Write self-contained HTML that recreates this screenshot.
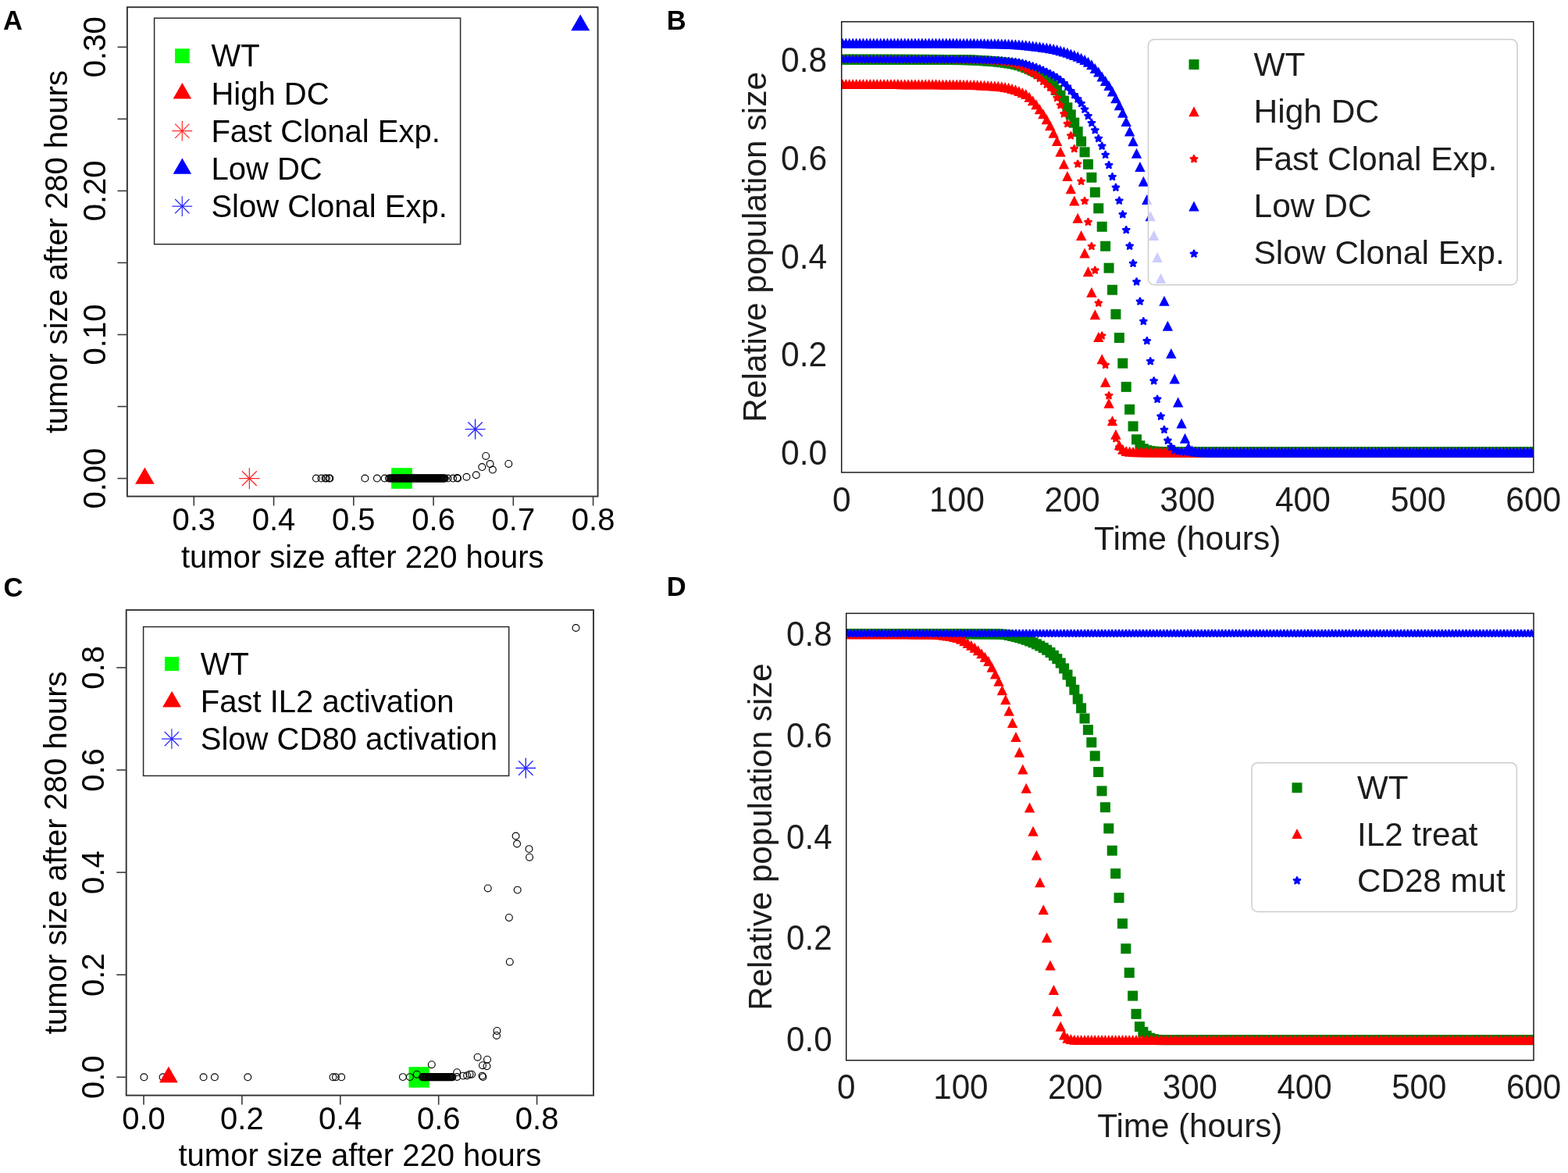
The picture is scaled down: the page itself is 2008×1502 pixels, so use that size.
<!DOCTYPE html>
<html><head><meta charset="utf-8"><title>Figure</title>
<style>html,body{margin:0;padding:0;background:#fff;}svg{display:block;}text{font-family:"Liberation Sans", Arial, Helvetica, sans-serif;}</style></head><body>
<svg width="2008" height="1502" viewBox="0 0 2008 1502">
<rect width="2008" height="1502" fill="#fff"/>
<text x="4.1" y="38" font-size="34.5" text-anchor="start" fill="#000" font-weight="bold">A</text>
<text x="853.7" y="37.8" font-size="34.5" text-anchor="start" fill="#000" font-weight="bold">B</text>
<text x="4.6" y="763.5" font-size="34.5" text-anchor="start" fill="#000" font-weight="bold">C</text>
<text x="853.7" y="763" font-size="34.5" text-anchor="start" fill="#000" font-weight="bold">D</text>
<g stroke="#3a3a3a" stroke-width="1.6" fill="none">
<rect x="162.9" y="9.2" width="602.7" height="626.4" stroke="#333" stroke-width="1.9"/>
<line x1="248.3" y1="635.6" x2="248.3" y2="647.6"/>
<line x1="350.56" y1="635.6" x2="350.56" y2="647.6"/>
<line x1="452.82" y1="635.6" x2="452.82" y2="647.6"/>
<line x1="555.08" y1="635.6" x2="555.08" y2="647.6"/>
<line x1="657.34" y1="635.6" x2="657.34" y2="647.6"/>
<line x1="759.6" y1="635.6" x2="759.6" y2="647.6"/>
<line x1="150.5" y1="612.6" x2="162.9" y2="612.6"/>
<line x1="150.5" y1="520.55" x2="162.9" y2="520.55"/>
<line x1="150.5" y1="428.5" x2="162.9" y2="428.5"/>
<line x1="150.5" y1="336.45" x2="162.9" y2="336.45"/>
<line x1="150.5" y1="244.4" x2="162.9" y2="244.4"/>
<line x1="150.5" y1="152.35" x2="162.9" y2="152.35"/>
<line x1="150.5" y1="60.3" x2="162.9" y2="60.3"/>
</g>
<text x="0" y="0" font-size="40" text-anchor="middle" fill="#000" transform="translate(248.3 679.4) scale(1 1.03)">0.3</text>
<text x="0" y="0" font-size="40" text-anchor="middle" fill="#000" transform="translate(350.56 679.4) scale(1 1.03)">0.4</text>
<text x="0" y="0" font-size="40" text-anchor="middle" fill="#000" transform="translate(452.82 679.4) scale(1 1.03)">0.5</text>
<text x="0" y="0" font-size="40" text-anchor="middle" fill="#000" transform="translate(555.08 679.4) scale(1 1.03)">0.6</text>
<text x="0" y="0" font-size="40" text-anchor="middle" fill="#000" transform="translate(657.34 679.4) scale(1 1.03)">0.7</text>
<text x="0" y="0" font-size="40" text-anchor="middle" fill="#000" transform="translate(759.6 679.4) scale(1 1.03)">0.8</text>
<text x="0" y="0" font-size="40" text-anchor="middle" fill="#000" transform="translate(134.5 612.6) rotate(-90) scale(1 1.03)">0.00</text>
<text x="0" y="0" font-size="40" text-anchor="middle" fill="#000" transform="translate(134.5 428.5) rotate(-90) scale(1 1.03)">0.10</text>
<text x="0" y="0" font-size="40" text-anchor="middle" fill="#000" transform="translate(134.5 244.4) rotate(-90) scale(1 1.03)">0.20</text>
<text x="0" y="0" font-size="40" text-anchor="middle" fill="#000" transform="translate(134.5 60.3) rotate(-90) scale(1 1.03)">0.30</text>
<text x="464.25" y="727.2" font-size="40" text-anchor="middle" fill="#000">tumor size after 220 hours</text>
<text x="85.6" y="322.4" font-size="40" text-anchor="middle" fill="#000" transform="rotate(-90 85.6 322.4)">tumor size after 280 hours</text>
<rect x="197.6" y="23.2" width="392" height="289.5" fill="#fff" stroke="#2a2a2a" stroke-width="1.5"/>
<rect x="224.1" y="62.3" width="18.6" height="18.6" fill="#00ff00"/>
<polygon points="233.4,106.03 221.65,126.38 245.15,126.38" fill="#ff0000"/>
<path d="M233.3 154.8v25.8M220.4 167.7h25.8M224.18 158.58l18.24 18.24M224.18 176.82l18.24 -18.24" stroke="#ff2a2a" stroke-width="1.2" fill="none"/>
<polygon points="233.4,202.43 221.65,222.78 245.15,222.78" fill="#0000ff"/>
<path d="M233.3 251.2v25.8M220.4 264.1h25.8M224.18 254.98l18.24 18.24M224.18 273.22l18.24 -18.24" stroke="#2a2aff" stroke-width="1.2" fill="none"/>
<text x="270.4" y="85.4" font-size="40" text-anchor="start" fill="#000">WT</text>
<text x="270.4" y="133.65" font-size="40" text-anchor="start" fill="#000">High DC</text>
<text x="270.4" y="181.9" font-size="40" text-anchor="start" fill="#000">Fast Clonal Exp.</text>
<text x="270.4" y="230.15" font-size="40" text-anchor="start" fill="#000">Low DC</text>
<text x="270.4" y="278.4" font-size="40" text-anchor="start" fill="#000">Slow Clonal Exp.</text>
<rect x="501.15" y="599.15" width="26.7" height="26.7" fill="#00ff00"/>
<g>
<circle cx="404.9" cy="612.6" r="4.4" fill="none" stroke="#000" stroke-width="1.15"/>
<circle cx="411.5" cy="612.6" r="4.4" fill="none" stroke="#000" stroke-width="1.15"/>
<circle cx="416.5" cy="612.6" r="4.4" fill="none" stroke="#000" stroke-width="1.15"/>
<circle cx="418" cy="612.6" r="4.4" fill="none" stroke="#000" stroke-width="1.15"/>
<circle cx="421.3" cy="612.6" r="4.4" fill="none" stroke="#000" stroke-width="1.15"/>
<circle cx="422.4" cy="612.6" r="4.4" fill="none" stroke="#000" stroke-width="1.15"/>
<circle cx="467.4" cy="612.6" r="4.4" fill="none" stroke="#000" stroke-width="1.15"/>
<circle cx="482.9" cy="612.6" r="4.4" fill="none" stroke="#000" stroke-width="1.15"/>
<circle cx="492.6" cy="612.6" r="4.4" fill="none" stroke="#000" stroke-width="1.15"/>
<circle cx="498" cy="612.6" r="4.4" fill="none" stroke="#000" stroke-width="1.15"/>
<circle cx="499.4" cy="612.6" r="4.4" fill="none" stroke="#000" stroke-width="1.15"/>
<circle cx="501" cy="612.6" r="4.4" fill="none" stroke="#000" stroke-width="1.15"/>
<circle cx="501.8" cy="612.6" r="4.4" fill="none" stroke="#000" stroke-width="1.15"/>
<circle cx="502.6" cy="612.6" r="4.4" fill="none" stroke="#000" stroke-width="1.15"/>
<circle cx="503.4" cy="612.6" r="4.4" fill="none" stroke="#000" stroke-width="1.15"/>
<circle cx="504.2" cy="612.6" r="4.4" fill="none" stroke="#000" stroke-width="1.15"/>
<circle cx="505" cy="612.6" r="4.4" fill="none" stroke="#000" stroke-width="1.15"/>
<circle cx="505.8" cy="612.6" r="4.4" fill="none" stroke="#000" stroke-width="1.15"/>
<circle cx="506.6" cy="612.6" r="4.4" fill="none" stroke="#000" stroke-width="1.15"/>
<circle cx="507.4" cy="612.6" r="4.4" fill="none" stroke="#000" stroke-width="1.15"/>
<circle cx="508.2" cy="612.6" r="4.4" fill="none" stroke="#000" stroke-width="1.15"/>
<circle cx="509" cy="612.6" r="4.4" fill="none" stroke="#000" stroke-width="1.15"/>
<circle cx="509.8" cy="612.6" r="4.4" fill="none" stroke="#000" stroke-width="1.15"/>
<circle cx="510.6" cy="612.6" r="4.4" fill="none" stroke="#000" stroke-width="1.15"/>
<circle cx="511.4" cy="612.6" r="4.4" fill="none" stroke="#000" stroke-width="1.15"/>
<circle cx="512.2" cy="612.6" r="4.4" fill="none" stroke="#000" stroke-width="1.15"/>
<circle cx="513" cy="612.6" r="4.4" fill="none" stroke="#000" stroke-width="1.15"/>
<circle cx="513.8" cy="612.6" r="4.4" fill="none" stroke="#000" stroke-width="1.15"/>
<circle cx="514.6" cy="612.6" r="4.4" fill="none" stroke="#000" stroke-width="1.15"/>
<circle cx="515.4" cy="612.6" r="4.4" fill="none" stroke="#000" stroke-width="1.15"/>
<circle cx="516.2" cy="612.6" r="4.4" fill="none" stroke="#000" stroke-width="1.15"/>
<circle cx="517" cy="612.6" r="4.4" fill="none" stroke="#000" stroke-width="1.15"/>
<circle cx="517.8" cy="612.6" r="4.4" fill="none" stroke="#000" stroke-width="1.15"/>
<circle cx="518.6" cy="612.6" r="4.4" fill="none" stroke="#000" stroke-width="1.15"/>
<circle cx="519.4" cy="612.6" r="4.4" fill="none" stroke="#000" stroke-width="1.15"/>
<circle cx="520.2" cy="612.6" r="4.4" fill="none" stroke="#000" stroke-width="1.15"/>
<circle cx="521" cy="612.6" r="4.4" fill="none" stroke="#000" stroke-width="1.15"/>
<circle cx="521.8" cy="612.6" r="4.4" fill="none" stroke="#000" stroke-width="1.15"/>
<circle cx="522.6" cy="612.6" r="4.4" fill="none" stroke="#000" stroke-width="1.15"/>
<circle cx="523.4" cy="612.6" r="4.4" fill="none" stroke="#000" stroke-width="1.15"/>
<circle cx="524.2" cy="612.6" r="4.4" fill="none" stroke="#000" stroke-width="1.15"/>
<circle cx="525" cy="612.6" r="4.4" fill="none" stroke="#000" stroke-width="1.15"/>
<circle cx="525.8" cy="612.6" r="4.4" fill="none" stroke="#000" stroke-width="1.15"/>
<circle cx="526.6" cy="612.6" r="4.4" fill="none" stroke="#000" stroke-width="1.15"/>
<circle cx="527.4" cy="612.6" r="4.4" fill="none" stroke="#000" stroke-width="1.15"/>
<circle cx="528.2" cy="612.6" r="4.4" fill="none" stroke="#000" stroke-width="1.15"/>
<circle cx="529" cy="612.6" r="4.4" fill="none" stroke="#000" stroke-width="1.15"/>
<circle cx="529.8" cy="612.6" r="4.4" fill="none" stroke="#000" stroke-width="1.15"/>
<circle cx="530.6" cy="612.6" r="4.4" fill="none" stroke="#000" stroke-width="1.15"/>
<circle cx="531.4" cy="612.6" r="4.4" fill="none" stroke="#000" stroke-width="1.15"/>
<circle cx="532.2" cy="612.6" r="4.4" fill="none" stroke="#000" stroke-width="1.15"/>
<circle cx="533" cy="612.6" r="4.4" fill="none" stroke="#000" stroke-width="1.15"/>
<circle cx="533.8" cy="612.6" r="4.4" fill="none" stroke="#000" stroke-width="1.15"/>
<circle cx="534.6" cy="612.6" r="4.4" fill="none" stroke="#000" stroke-width="1.15"/>
<circle cx="535.4" cy="612.6" r="4.4" fill="none" stroke="#000" stroke-width="1.15"/>
<circle cx="536.2" cy="612.6" r="4.4" fill="none" stroke="#000" stroke-width="1.15"/>
<circle cx="537" cy="612.6" r="4.4" fill="none" stroke="#000" stroke-width="1.15"/>
<circle cx="537.8" cy="612.6" r="4.4" fill="none" stroke="#000" stroke-width="1.15"/>
<circle cx="538.6" cy="612.6" r="4.4" fill="none" stroke="#000" stroke-width="1.15"/>
<circle cx="539.4" cy="612.6" r="4.4" fill="none" stroke="#000" stroke-width="1.15"/>
<circle cx="540.2" cy="612.6" r="4.4" fill="none" stroke="#000" stroke-width="1.15"/>
<circle cx="541" cy="612.6" r="4.4" fill="none" stroke="#000" stroke-width="1.15"/>
<circle cx="541.8" cy="612.6" r="4.4" fill="none" stroke="#000" stroke-width="1.15"/>
<circle cx="542.6" cy="612.6" r="4.4" fill="none" stroke="#000" stroke-width="1.15"/>
<circle cx="543.4" cy="612.6" r="4.4" fill="none" stroke="#000" stroke-width="1.15"/>
<circle cx="544.2" cy="612.6" r="4.4" fill="none" stroke="#000" stroke-width="1.15"/>
<circle cx="545" cy="612.6" r="4.4" fill="none" stroke="#000" stroke-width="1.15"/>
<circle cx="545.8" cy="612.6" r="4.4" fill="none" stroke="#000" stroke-width="1.15"/>
<circle cx="546.6" cy="612.6" r="4.4" fill="none" stroke="#000" stroke-width="1.15"/>
<circle cx="547.4" cy="612.6" r="4.4" fill="none" stroke="#000" stroke-width="1.15"/>
<circle cx="548.2" cy="612.6" r="4.4" fill="none" stroke="#000" stroke-width="1.15"/>
<circle cx="549" cy="612.6" r="4.4" fill="none" stroke="#000" stroke-width="1.15"/>
<circle cx="549.8" cy="612.6" r="4.4" fill="none" stroke="#000" stroke-width="1.15"/>
<circle cx="550.6" cy="612.6" r="4.4" fill="none" stroke="#000" stroke-width="1.15"/>
<circle cx="551.4" cy="612.6" r="4.4" fill="none" stroke="#000" stroke-width="1.15"/>
<circle cx="552.2" cy="612.6" r="4.4" fill="none" stroke="#000" stroke-width="1.15"/>
<circle cx="553" cy="612.6" r="4.4" fill="none" stroke="#000" stroke-width="1.15"/>
<circle cx="553.8" cy="612.6" r="4.4" fill="none" stroke="#000" stroke-width="1.15"/>
<circle cx="554.6" cy="612.6" r="4.4" fill="none" stroke="#000" stroke-width="1.15"/>
<circle cx="555.4" cy="612.6" r="4.4" fill="none" stroke="#000" stroke-width="1.15"/>
<circle cx="556.2" cy="612.6" r="4.4" fill="none" stroke="#000" stroke-width="1.15"/>
<circle cx="557" cy="612.6" r="4.4" fill="none" stroke="#000" stroke-width="1.15"/>
<circle cx="557.8" cy="612.6" r="4.4" fill="none" stroke="#000" stroke-width="1.15"/>
<circle cx="558.6" cy="612.6" r="4.4" fill="none" stroke="#000" stroke-width="1.15"/>
<circle cx="559.4" cy="612.6" r="4.4" fill="none" stroke="#000" stroke-width="1.15"/>
<circle cx="560.2" cy="612.6" r="4.4" fill="none" stroke="#000" stroke-width="1.15"/>
<circle cx="561" cy="612.6" r="4.4" fill="none" stroke="#000" stroke-width="1.15"/>
<circle cx="561.8" cy="612.6" r="4.4" fill="none" stroke="#000" stroke-width="1.15"/>
<circle cx="562.6" cy="612.6" r="4.4" fill="none" stroke="#000" stroke-width="1.15"/>
<circle cx="563.4" cy="612.6" r="4.4" fill="none" stroke="#000" stroke-width="1.15"/>
<circle cx="564.2" cy="612.6" r="4.4" fill="none" stroke="#000" stroke-width="1.15"/>
<circle cx="565" cy="612.6" r="4.4" fill="none" stroke="#000" stroke-width="1.15"/>
<circle cx="565.8" cy="612.6" r="4.4" fill="none" stroke="#000" stroke-width="1.15"/>
<circle cx="566.6" cy="612.6" r="4.4" fill="none" stroke="#000" stroke-width="1.15"/>
<circle cx="567.4" cy="612.6" r="4.4" fill="none" stroke="#000" stroke-width="1.15"/>
<circle cx="568.2" cy="612.6" r="4.4" fill="none" stroke="#000" stroke-width="1.15"/>
<circle cx="569" cy="612.6" r="4.4" fill="none" stroke="#000" stroke-width="1.15"/>
<circle cx="569.8" cy="612.6" r="4.4" fill="none" stroke="#000" stroke-width="1.15"/>
<circle cx="573.6" cy="612.6" r="4.4" fill="none" stroke="#000" stroke-width="1.15"/>
<circle cx="580.1" cy="612.6" r="4.4" fill="none" stroke="#000" stroke-width="1.15"/>
<circle cx="586.1" cy="612.6" r="4.4" fill="none" stroke="#000" stroke-width="1.15"/>
<circle cx="585.5" cy="612" r="4.4" fill="none" stroke="#000" stroke-width="1.15"/>
<circle cx="597.5" cy="610.8" r="4.4" fill="none" stroke="#000" stroke-width="1.15"/>
<circle cx="609.8" cy="608.3" r="4.4" fill="none" stroke="#000" stroke-width="1.15"/>
<circle cx="617.3" cy="598.1" r="4.4" fill="none" stroke="#000" stroke-width="1.15"/>
<circle cx="622.2" cy="583.9" r="4.4" fill="none" stroke="#000" stroke-width="1.15"/>
<circle cx="627.6" cy="594.1" r="4.4" fill="none" stroke="#000" stroke-width="1.15"/>
<circle cx="630.9" cy="601.6" r="4.4" fill="none" stroke="#000" stroke-width="1.15"/>
<circle cx="651.3" cy="593.9" r="4.4" fill="none" stroke="#000" stroke-width="1.15"/>
</g>
<polygon points="185.4,598.4 173.1,619.7 197.7,619.7" fill="#ff0000"/>
<path d="M319.4 599.3v26.6M306.1 612.6h26.6M310 603.2l18.81 18.81M310 622l18.81 -18.81" stroke="#ff2a2a" stroke-width="1.3" fill="none"/>
<polygon points="743.2,18.44 731.2,39.23 755.2,39.23" fill="#0000ff"/>
<path d="M608.6 536.6v26M595.6 549.6h26M599.41 540.41l18.38 18.38M599.41 558.79l18.38 -18.38" stroke="#2a2aff" stroke-width="1.4" fill="none"/>
<g stroke="#3a3a3a" stroke-width="1.6" fill="none">
<rect x="161.7" y="781.1" width="598.3" height="621.5" stroke="#333" stroke-width="1.9"/>
<line x1="184" y1="1402.6" x2="184" y2="1414.6"/>
<line x1="149.3" y1="1379.3" x2="161.7" y2="1379.3"/>
<line x1="309.9" y1="1402.6" x2="309.9" y2="1414.6"/>
<line x1="149.3" y1="1248.2" x2="161.7" y2="1248.2"/>
<line x1="435.8" y1="1402.6" x2="435.8" y2="1414.6"/>
<line x1="149.3" y1="1117.1" x2="161.7" y2="1117.1"/>
<line x1="561.7" y1="1402.6" x2="561.7" y2="1414.6"/>
<line x1="149.3" y1="986" x2="161.7" y2="986"/>
<line x1="687.6" y1="1402.6" x2="687.6" y2="1414.6"/>
<line x1="149.3" y1="854.9" x2="161.7" y2="854.9"/>
</g>
<text x="0" y="0" font-size="40" text-anchor="middle" fill="#000" transform="translate(184 1445.7) scale(1 1.03)">0.0</text>
<text x="0" y="0" font-size="40" text-anchor="middle" fill="#000" transform="translate(133.4 1379.3) rotate(-90) scale(1 1.03)">0.0</text>
<text x="0" y="0" font-size="40" text-anchor="middle" fill="#000" transform="translate(309.9 1445.7) scale(1 1.03)">0.2</text>
<text x="0" y="0" font-size="40" text-anchor="middle" fill="#000" transform="translate(133.4 1248.2) rotate(-90) scale(1 1.03)">0.2</text>
<text x="0" y="0" font-size="40" text-anchor="middle" fill="#000" transform="translate(435.8 1445.7) scale(1 1.03)">0.4</text>
<text x="0" y="0" font-size="40" text-anchor="middle" fill="#000" transform="translate(133.4 1117.1) rotate(-90) scale(1 1.03)">0.4</text>
<text x="0" y="0" font-size="40" text-anchor="middle" fill="#000" transform="translate(561.7 1445.7) scale(1 1.03)">0.6</text>
<text x="0" y="0" font-size="40" text-anchor="middle" fill="#000" transform="translate(133.4 986) rotate(-90) scale(1 1.03)">0.6</text>
<text x="0" y="0" font-size="40" text-anchor="middle" fill="#000" transform="translate(687.6 1445.7) scale(1 1.03)">0.8</text>
<text x="0" y="0" font-size="40" text-anchor="middle" fill="#000" transform="translate(133.4 854.9) rotate(-90) scale(1 1.03)">0.8</text>
<text x="460.85" y="1493.2" font-size="40" text-anchor="middle" fill="#000">tumor size after 220 hours</text>
<text x="85" y="1091.85" font-size="40" text-anchor="middle" fill="#000" transform="rotate(-90 85 1091.85)">tumor size after 280 hours</text>
<rect x="183.6" y="802.6" width="468.1" height="190.8" fill="#fff" stroke="#2a2a2a" stroke-width="1.5"/>
<rect x="211" y="841.1" width="18" height="18" fill="#00ff00"/>
<polygon points="220.1,884.9 208.15,905.6 232.05,905.6" fill="#ff0000"/>
<path d="M219.9 933.2v25.8M207 946.1h25.8M210.78 936.98l18.24 18.24M210.78 955.22l18.24 -18.24" stroke="#2a2aff" stroke-width="1.2" fill="none"/>
<text x="256.8" y="864.3" font-size="40" text-anchor="start" fill="#000">WT</text>
<text x="256.8" y="912.15" font-size="40" text-anchor="start" fill="#000">Fast IL2 activation</text>
<text x="256.8" y="960" font-size="40" text-anchor="start" fill="#000">Slow CD80 activation</text>
<rect x="523.45" y="1366.15" width="26.5" height="26.5" fill="#00ff00"/>
<g>
<circle cx="184.4" cy="1379.3" r="4.4" fill="none" stroke="#000" stroke-width="1.15"/>
<circle cx="208.6" cy="1379.3" r="4.4" fill="none" stroke="#000" stroke-width="1.15"/>
<circle cx="260.6" cy="1379.3" r="4.4" fill="none" stroke="#000" stroke-width="1.15"/>
<circle cx="274.9" cy="1379.3" r="4.4" fill="none" stroke="#000" stroke-width="1.15"/>
<circle cx="317.3" cy="1379.3" r="4.4" fill="none" stroke="#000" stroke-width="1.15"/>
<circle cx="426.5" cy="1379.3" r="4.4" fill="none" stroke="#000" stroke-width="1.15"/>
<circle cx="429.9" cy="1379.3" r="4.4" fill="none" stroke="#000" stroke-width="1.15"/>
<circle cx="437.2" cy="1379.3" r="4.4" fill="none" stroke="#000" stroke-width="1.15"/>
<circle cx="515.9" cy="1379.1" r="4.4" fill="none" stroke="#000" stroke-width="1.15"/>
<circle cx="524.9" cy="1379.1" r="4.4" fill="none" stroke="#000" stroke-width="1.15"/>
<circle cx="533.9" cy="1375.7" r="4.4" fill="none" stroke="#000" stroke-width="1.15"/>
<circle cx="552.8" cy="1363.2" r="4.4" fill="none" stroke="#000" stroke-width="1.15"/>
<circle cx="585.2" cy="1373.2" r="4.4" fill="none" stroke="#000" stroke-width="1.15"/>
<circle cx="585.2" cy="1379" r="4.4" fill="none" stroke="#000" stroke-width="1.15"/>
<circle cx="593.1" cy="1377.6" r="4.4" fill="none" stroke="#000" stroke-width="1.15"/>
<circle cx="598.1" cy="1377.2" r="4.4" fill="none" stroke="#000" stroke-width="1.15"/>
<circle cx="601.6" cy="1375.7" r="4.4" fill="none" stroke="#000" stroke-width="1.15"/>
<circle cx="604.1" cy="1375.7" r="4.4" fill="none" stroke="#000" stroke-width="1.15"/>
<circle cx="611.6" cy="1353.7" r="4.4" fill="none" stroke="#000" stroke-width="1.15"/>
<circle cx="624" cy="1356.7" r="4.4" fill="none" stroke="#000" stroke-width="1.15"/>
<circle cx="618" cy="1364.2" r="4.4" fill="none" stroke="#000" stroke-width="1.15"/>
<circle cx="623.5" cy="1365.2" r="4.4" fill="none" stroke="#000" stroke-width="1.15"/>
<circle cx="617.5" cy="1377.6" r="4.4" fill="none" stroke="#000" stroke-width="1.15"/>
<circle cx="618.5" cy="1379.1" r="4.4" fill="none" stroke="#000" stroke-width="1.15"/>
<circle cx="636.5" cy="1319.9" r="4.4" fill="none" stroke="#000" stroke-width="1.15"/>
<circle cx="636" cy="1325.9" r="4.4" fill="none" stroke="#000" stroke-width="1.15"/>
<circle cx="660.6" cy="1070.5" r="4.4" fill="none" stroke="#000" stroke-width="1.15"/>
<circle cx="662.1" cy="1080.5" r="4.4" fill="none" stroke="#000" stroke-width="1.15"/>
<circle cx="677.5" cy="1087.1" r="4.4" fill="none" stroke="#000" stroke-width="1.15"/>
<circle cx="678.1" cy="1097.7" r="4.4" fill="none" stroke="#000" stroke-width="1.15"/>
<circle cx="624.8" cy="1137.4" r="4.4" fill="none" stroke="#000" stroke-width="1.15"/>
<circle cx="662.7" cy="1139.6" r="4.4" fill="none" stroke="#000" stroke-width="1.15"/>
<circle cx="651.9" cy="1174.9" r="4.4" fill="none" stroke="#000" stroke-width="1.15"/>
<circle cx="652.8" cy="1231.7" r="4.4" fill="none" stroke="#000" stroke-width="1.15"/>
<circle cx="737.5" cy="804" r="4.4" fill="none" stroke="#000" stroke-width="1.15"/>
<circle cx="541" cy="1379.2" r="4.4" fill="none" stroke="#000" stroke-width="1.15"/>
<circle cx="541.8" cy="1379.2" r="4.4" fill="none" stroke="#000" stroke-width="1.15"/>
<circle cx="542.6" cy="1379.2" r="4.4" fill="none" stroke="#000" stroke-width="1.15"/>
<circle cx="543.4" cy="1379.2" r="4.4" fill="none" stroke="#000" stroke-width="1.15"/>
<circle cx="544.2" cy="1379.2" r="4.4" fill="none" stroke="#000" stroke-width="1.15"/>
<circle cx="545" cy="1379.2" r="4.4" fill="none" stroke="#000" stroke-width="1.15"/>
<circle cx="545.8" cy="1379.2" r="4.4" fill="none" stroke="#000" stroke-width="1.15"/>
<circle cx="546.6" cy="1379.2" r="4.4" fill="none" stroke="#000" stroke-width="1.15"/>
<circle cx="547.4" cy="1379.2" r="4.4" fill="none" stroke="#000" stroke-width="1.15"/>
<circle cx="548.2" cy="1379.2" r="4.4" fill="none" stroke="#000" stroke-width="1.15"/>
<circle cx="549" cy="1379.2" r="4.4" fill="none" stroke="#000" stroke-width="1.15"/>
<circle cx="549.8" cy="1379.2" r="4.4" fill="none" stroke="#000" stroke-width="1.15"/>
<circle cx="550.6" cy="1379.2" r="4.4" fill="none" stroke="#000" stroke-width="1.15"/>
<circle cx="551.4" cy="1379.2" r="4.4" fill="none" stroke="#000" stroke-width="1.15"/>
<circle cx="552.2" cy="1379.2" r="4.4" fill="none" stroke="#000" stroke-width="1.15"/>
<circle cx="553" cy="1379.2" r="4.4" fill="none" stroke="#000" stroke-width="1.15"/>
<circle cx="553.8" cy="1379.2" r="4.4" fill="none" stroke="#000" stroke-width="1.15"/>
<circle cx="554.6" cy="1379.2" r="4.4" fill="none" stroke="#000" stroke-width="1.15"/>
<circle cx="555.4" cy="1379.2" r="4.4" fill="none" stroke="#000" stroke-width="1.15"/>
<circle cx="556.2" cy="1379.2" r="4.4" fill="none" stroke="#000" stroke-width="1.15"/>
<circle cx="557" cy="1379.2" r="4.4" fill="none" stroke="#000" stroke-width="1.15"/>
<circle cx="557.8" cy="1379.2" r="4.4" fill="none" stroke="#000" stroke-width="1.15"/>
<circle cx="558.6" cy="1379.2" r="4.4" fill="none" stroke="#000" stroke-width="1.15"/>
<circle cx="559.4" cy="1379.2" r="4.4" fill="none" stroke="#000" stroke-width="1.15"/>
<circle cx="560.2" cy="1379.2" r="4.4" fill="none" stroke="#000" stroke-width="1.15"/>
<circle cx="561" cy="1379.2" r="4.4" fill="none" stroke="#000" stroke-width="1.15"/>
<circle cx="561.8" cy="1379.2" r="4.4" fill="none" stroke="#000" stroke-width="1.15"/>
<circle cx="562.6" cy="1379.2" r="4.4" fill="none" stroke="#000" stroke-width="1.15"/>
<circle cx="563.4" cy="1379.2" r="4.4" fill="none" stroke="#000" stroke-width="1.15"/>
<circle cx="564.2" cy="1379.2" r="4.4" fill="none" stroke="#000" stroke-width="1.15"/>
<circle cx="565" cy="1379.2" r="4.4" fill="none" stroke="#000" stroke-width="1.15"/>
<circle cx="565.8" cy="1379.2" r="4.4" fill="none" stroke="#000" stroke-width="1.15"/>
<circle cx="566.6" cy="1379.2" r="4.4" fill="none" stroke="#000" stroke-width="1.15"/>
<circle cx="567.4" cy="1379.2" r="4.4" fill="none" stroke="#000" stroke-width="1.15"/>
<circle cx="568.2" cy="1379.2" r="4.4" fill="none" stroke="#000" stroke-width="1.15"/>
<circle cx="569" cy="1379.2" r="4.4" fill="none" stroke="#000" stroke-width="1.15"/>
<circle cx="569.8" cy="1379.2" r="4.4" fill="none" stroke="#000" stroke-width="1.15"/>
<circle cx="570.6" cy="1379.2" r="4.4" fill="none" stroke="#000" stroke-width="1.15"/>
<circle cx="571.4" cy="1379.2" r="4.4" fill="none" stroke="#000" stroke-width="1.15"/>
<circle cx="572.2" cy="1379.2" r="4.4" fill="none" stroke="#000" stroke-width="1.15"/>
<circle cx="573" cy="1379.2" r="4.4" fill="none" stroke="#000" stroke-width="1.15"/>
<circle cx="573.8" cy="1379.2" r="4.4" fill="none" stroke="#000" stroke-width="1.15"/>
<circle cx="574.6" cy="1379.2" r="4.4" fill="none" stroke="#000" stroke-width="1.15"/>
<circle cx="575.4" cy="1379.2" r="4.4" fill="none" stroke="#000" stroke-width="1.15"/>
<circle cx="576.2" cy="1379.2" r="4.4" fill="none" stroke="#000" stroke-width="1.15"/>
<circle cx="577" cy="1379.2" r="4.4" fill="none" stroke="#000" stroke-width="1.15"/>
<circle cx="577.8" cy="1379.2" r="4.4" fill="none" stroke="#000" stroke-width="1.15"/>
<circle cx="578.6" cy="1379.2" r="4.4" fill="none" stroke="#000" stroke-width="1.15"/>
<circle cx="579.4" cy="1379.2" r="4.4" fill="none" stroke="#000" stroke-width="1.15"/>
</g>
<polygon points="215.9,1365.62 204.05,1386.14 227.75,1386.14" fill="#ff0000"/>
<path d="M673.3 970.5v26M660.3 983.5h26M664.11 974.31l18.38 18.38M664.11 992.69l18.38 -18.38" stroke="#2a2aff" stroke-width="1.4" fill="none"/>
<defs><clipPath id="cB"><rect x="1077.7" y="27.8" width="886.1" height="577.1"/></clipPath><clipPath id="cD"><rect x="1083.7" y="785.4" width="880.3" height="572.3"/></clipPath></defs>
<g clip-path="url(#cB)">
<g><rect x="1072.4" y="69.7" width="13" height="13" fill="#008000"/><rect x="1076.83" y="69.7" width="13" height="13" fill="#008000"/><rect x="1081.26" y="69.7" width="13" height="13" fill="#008000"/><rect x="1085.69" y="69.7" width="13" height="13" fill="#008000"/><rect x="1090.12" y="69.7" width="13" height="13" fill="#008000"/><rect x="1094.55" y="69.71" width="13" height="13" fill="#008000"/><rect x="1098.98" y="69.71" width="13" height="13" fill="#008000"/><rect x="1103.41" y="69.71" width="13" height="13" fill="#008000"/><rect x="1107.84" y="69.72" width="13" height="13" fill="#008000"/><rect x="1112.27" y="69.72" width="13" height="13" fill="#008000"/><rect x="1116.71" y="69.73" width="13" height="13" fill="#008000"/><rect x="1121.14" y="69.73" width="13" height="13" fill="#008000"/><rect x="1125.57" y="69.74" width="13" height="13" fill="#008000"/><rect x="1130" y="69.75" width="13" height="13" fill="#008000"/><rect x="1134.43" y="69.76" width="13" height="13" fill="#008000"/><rect x="1138.86" y="69.77" width="13" height="13" fill="#008000"/><rect x="1143.29" y="69.78" width="13" height="13" fill="#008000"/><rect x="1147.72" y="69.79" width="13" height="13" fill="#008000"/><rect x="1152.15" y="69.8" width="13" height="13" fill="#008000"/><rect x="1156.58" y="69.81" width="13" height="13" fill="#008000"/><rect x="1161.01" y="69.82" width="13" height="13" fill="#008000"/><rect x="1165.44" y="69.84" width="13" height="13" fill="#008000"/><rect x="1169.87" y="69.85" width="13" height="13" fill="#008000"/><rect x="1174.3" y="69.87" width="13" height="13" fill="#008000"/><rect x="1178.73" y="69.88" width="13" height="13" fill="#008000"/><rect x="1183.16" y="69.9" width="13" height="13" fill="#008000"/><rect x="1187.59" y="69.92" width="13" height="13" fill="#008000"/><rect x="1192.02" y="69.94" width="13" height="13" fill="#008000"/><rect x="1196.45" y="69.96" width="13" height="13" fill="#008000"/><rect x="1200.88" y="69.98" width="13" height="13" fill="#008000"/><rect x="1205.32" y="70" width="13" height="13" fill="#008000"/><rect x="1209.75" y="70.02" width="13" height="13" fill="#008000"/><rect x="1214.18" y="70.05" width="13" height="13" fill="#008000"/><rect x="1218.61" y="70.07" width="13" height="13" fill="#008000"/><rect x="1223.04" y="70.1" width="13" height="13" fill="#008000"/><rect x="1227.47" y="70.15" width="13" height="13" fill="#008000"/><rect x="1231.9" y="70.25" width="13" height="13" fill="#008000"/><rect x="1236.33" y="70.4" width="13" height="13" fill="#008000"/><rect x="1240.76" y="70.59" width="13" height="13" fill="#008000"/><rect x="1245.19" y="70.81" width="13" height="13" fill="#008000"/><rect x="1249.62" y="71.07" width="13" height="13" fill="#008000"/><rect x="1254.05" y="71.35" width="13" height="13" fill="#008000"/><rect x="1258.48" y="71.65" width="13" height="13" fill="#008000"/><rect x="1262.91" y="71.96" width="13" height="13" fill="#008000"/><rect x="1267.34" y="72.3" width="13" height="13" fill="#008000"/><rect x="1271.77" y="72.73" width="13" height="13" fill="#008000"/><rect x="1276.2" y="73.23" width="13" height="13" fill="#008000"/><rect x="1280.63" y="73.82" width="13" height="13" fill="#008000"/><rect x="1285.06" y="74.49" width="13" height="13" fill="#008000"/><rect x="1289.49" y="75.24" width="13" height="13" fill="#008000"/><rect x="1293.93" y="76.09" width="13" height="13" fill="#008000"/><rect x="1298.36" y="77.19" width="13" height="13" fill="#008000"/><rect x="1302.79" y="78.62" width="13" height="13" fill="#008000"/><rect x="1307.22" y="80.27" width="13" height="13" fill="#008000"/><rect x="1311.65" y="82.06" width="13" height="13" fill="#008000"/><rect x="1316.08" y="83.95" width="13" height="13" fill="#008000"/><rect x="1320.51" y="86.02" width="13" height="13" fill="#008000"/><rect x="1324.94" y="88.36" width="13" height="13" fill="#008000"/><rect x="1329.37" y="91.07" width="13" height="13" fill="#008000"/><rect x="1333.8" y="94.23" width="13" height="13" fill="#008000"/><rect x="1338.23" y="98.24" width="13" height="13" fill="#008000"/><rect x="1342.66" y="103.25" width="13" height="13" fill="#008000"/><rect x="1347.09" y="109.09" width="13" height="13" fill="#008000"/><rect x="1351.52" y="115.61" width="13" height="13" fill="#008000"/><rect x="1355.95" y="122.63" width="13" height="13" fill="#008000"/><rect x="1360.38" y="131.27" width="13" height="13" fill="#008000"/><rect x="1364.81" y="140.35" width="13" height="13" fill="#008000"/><rect x="1369.24" y="150.65" width="13" height="13" fill="#008000"/><rect x="1373.67" y="162.17" width="13" height="13" fill="#008000"/><rect x="1378.1" y="174.6" width="13" height="13" fill="#008000"/><rect x="1382.54" y="188.32" width="13" height="13" fill="#008000"/><rect x="1386.97" y="203.87" width="13" height="13" fill="#008000"/><rect x="1391.4" y="220.78" width="13" height="13" fill="#008000"/><rect x="1395.83" y="239.73" width="13" height="13" fill="#008000"/><rect x="1400.26" y="260.29" width="13" height="13" fill="#008000"/><rect x="1404.69" y="283.78" width="13" height="13" fill="#008000"/><rect x="1409.12" y="308.72" width="13" height="13" fill="#008000"/><rect x="1413.55" y="336.67" width="13" height="13" fill="#008000"/><rect x="1417.98" y="364.69" width="13" height="13" fill="#008000"/><rect x="1422.41" y="395.87" width="13" height="13" fill="#008000"/><rect x="1426.84" y="426.06" width="13" height="13" fill="#008000"/><rect x="1431.27" y="458.68" width="13" height="13" fill="#008000"/><rect x="1435.7" y="488.88" width="13" height="13" fill="#008000"/><rect x="1440.13" y="517.78" width="13" height="13" fill="#008000"/><rect x="1444.56" y="539.38" width="13" height="13" fill="#008000"/><rect x="1448.99" y="556.23" width="13" height="13" fill="#008000"/><rect x="1453.42" y="564.18" width="13" height="13" fill="#008000"/><rect x="1457.85" y="568.23" width="13" height="13" fill="#008000"/><rect x="1462.28" y="570.11" width="13" height="13" fill="#008000"/><rect x="1466.71" y="571.19" width="13" height="13" fill="#008000"/><rect x="1471.14" y="571.6" width="13" height="13" fill="#008000"/><rect x="1475.58" y="571.88" width="13" height="13" fill="#008000"/><rect x="1480.01" y="572.1" width="13" height="13" fill="#008000"/><rect x="1484.44" y="572.26" width="13" height="13" fill="#008000"/><rect x="1488.87" y="572.36" width="13" height="13" fill="#008000"/><rect x="1493.3" y="572.4" width="13" height="13" fill="#008000"/><rect x="1497.73" y="572.4" width="13" height="13" fill="#008000"/><rect x="1502.16" y="572.4" width="13" height="13" fill="#008000"/><rect x="1506.59" y="572.4" width="13" height="13" fill="#008000"/><rect x="1511.02" y="572.4" width="13" height="13" fill="#008000"/><rect x="1515.45" y="572.4" width="13" height="13" fill="#008000"/><rect x="1519.88" y="572.4" width="13" height="13" fill="#008000"/><rect x="1524.31" y="572.4" width="13" height="13" fill="#008000"/><rect x="1528.74" y="572.4" width="13" height="13" fill="#008000"/><rect x="1533.17" y="572.4" width="13" height="13" fill="#008000"/><rect x="1537.6" y="572.4" width="13" height="13" fill="#008000"/><rect x="1542.03" y="572.4" width="13" height="13" fill="#008000"/><rect x="1546.46" y="572.4" width="13" height="13" fill="#008000"/><rect x="1550.89" y="572.4" width="13" height="13" fill="#008000"/><rect x="1555.32" y="572.4" width="13" height="13" fill="#008000"/><rect x="1559.75" y="572.4" width="13" height="13" fill="#008000"/><rect x="1564.19" y="572.4" width="13" height="13" fill="#008000"/><rect x="1568.62" y="572.4" width="13" height="13" fill="#008000"/><rect x="1573.05" y="572.4" width="13" height="13" fill="#008000"/><rect x="1577.48" y="572.4" width="13" height="13" fill="#008000"/><rect x="1581.91" y="572.4" width="13" height="13" fill="#008000"/><rect x="1586.34" y="572.4" width="13" height="13" fill="#008000"/><rect x="1590.77" y="572.4" width="13" height="13" fill="#008000"/><rect x="1595.2" y="572.4" width="13" height="13" fill="#008000"/><rect x="1599.63" y="572.4" width="13" height="13" fill="#008000"/><rect x="1604.06" y="572.4" width="13" height="13" fill="#008000"/><rect x="1608.49" y="572.4" width="13" height="13" fill="#008000"/><rect x="1612.92" y="572.4" width="13" height="13" fill="#008000"/><rect x="1617.35" y="572.4" width="13" height="13" fill="#008000"/><rect x="1621.78" y="572.4" width="13" height="13" fill="#008000"/><rect x="1626.21" y="572.4" width="13" height="13" fill="#008000"/><rect x="1630.64" y="572.4" width="13" height="13" fill="#008000"/><rect x="1635.07" y="572.4" width="13" height="13" fill="#008000"/><rect x="1639.5" y="572.4" width="13" height="13" fill="#008000"/><rect x="1643.93" y="572.4" width="13" height="13" fill="#008000"/><rect x="1648.37" y="572.4" width="13" height="13" fill="#008000"/><rect x="1652.8" y="572.4" width="13" height="13" fill="#008000"/><rect x="1657.23" y="572.4" width="13" height="13" fill="#008000"/><rect x="1661.66" y="572.4" width="13" height="13" fill="#008000"/><rect x="1666.09" y="572.4" width="13" height="13" fill="#008000"/><rect x="1670.52" y="572.4" width="13" height="13" fill="#008000"/><rect x="1674.95" y="572.4" width="13" height="13" fill="#008000"/><rect x="1679.38" y="572.4" width="13" height="13" fill="#008000"/><rect x="1683.81" y="572.4" width="13" height="13" fill="#008000"/><rect x="1688.24" y="572.4" width="13" height="13" fill="#008000"/><rect x="1692.67" y="572.4" width="13" height="13" fill="#008000"/><rect x="1697.1" y="572.4" width="13" height="13" fill="#008000"/><rect x="1701.53" y="572.4" width="13" height="13" fill="#008000"/><rect x="1705.96" y="572.4" width="13" height="13" fill="#008000"/><rect x="1710.39" y="572.4" width="13" height="13" fill="#008000"/><rect x="1714.82" y="572.4" width="13" height="13" fill="#008000"/><rect x="1719.25" y="572.4" width="13" height="13" fill="#008000"/><rect x="1723.68" y="572.4" width="13" height="13" fill="#008000"/><rect x="1728.11" y="572.4" width="13" height="13" fill="#008000"/><rect x="1732.54" y="572.4" width="13" height="13" fill="#008000"/><rect x="1736.98" y="572.4" width="13" height="13" fill="#008000"/><rect x="1741.41" y="572.4" width="13" height="13" fill="#008000"/><rect x="1745.84" y="572.4" width="13" height="13" fill="#008000"/><rect x="1750.27" y="572.4" width="13" height="13" fill="#008000"/><rect x="1754.7" y="572.4" width="13" height="13" fill="#008000"/><rect x="1759.13" y="572.4" width="13" height="13" fill="#008000"/><rect x="1763.56" y="572.4" width="13" height="13" fill="#008000"/><rect x="1767.99" y="572.4" width="13" height="13" fill="#008000"/><rect x="1772.42" y="572.4" width="13" height="13" fill="#008000"/><rect x="1776.85" y="572.4" width="13" height="13" fill="#008000"/><rect x="1781.28" y="572.4" width="13" height="13" fill="#008000"/><rect x="1785.71" y="572.4" width="13" height="13" fill="#008000"/><rect x="1790.14" y="572.4" width="13" height="13" fill="#008000"/><rect x="1794.57" y="572.4" width="13" height="13" fill="#008000"/><rect x="1799" y="572.4" width="13" height="13" fill="#008000"/><rect x="1803.43" y="572.4" width="13" height="13" fill="#008000"/><rect x="1807.86" y="572.4" width="13" height="13" fill="#008000"/><rect x="1812.29" y="572.4" width="13" height="13" fill="#008000"/><rect x="1816.72" y="572.4" width="13" height="13" fill="#008000"/><rect x="1821.15" y="572.4" width="13" height="13" fill="#008000"/><rect x="1825.59" y="572.4" width="13" height="13" fill="#008000"/><rect x="1830.02" y="572.4" width="13" height="13" fill="#008000"/><rect x="1834.45" y="572.4" width="13" height="13" fill="#008000"/><rect x="1838.88" y="572.4" width="13" height="13" fill="#008000"/><rect x="1843.31" y="572.4" width="13" height="13" fill="#008000"/><rect x="1847.74" y="572.4" width="13" height="13" fill="#008000"/><rect x="1852.17" y="572.4" width="13" height="13" fill="#008000"/><rect x="1856.6" y="572.4" width="13" height="13" fill="#008000"/><rect x="1861.03" y="572.4" width="13" height="13" fill="#008000"/><rect x="1865.46" y="572.4" width="13" height="13" fill="#008000"/><rect x="1869.89" y="572.4" width="13" height="13" fill="#008000"/><rect x="1874.32" y="572.4" width="13" height="13" fill="#008000"/><rect x="1878.75" y="572.4" width="13" height="13" fill="#008000"/><rect x="1883.18" y="572.4" width="13" height="13" fill="#008000"/><rect x="1887.61" y="572.4" width="13" height="13" fill="#008000"/><rect x="1892.04" y="572.4" width="13" height="13" fill="#008000"/><rect x="1896.47" y="572.4" width="13" height="13" fill="#008000"/><rect x="1900.9" y="572.4" width="13" height="13" fill="#008000"/><rect x="1905.33" y="572.4" width="13" height="13" fill="#008000"/><rect x="1909.76" y="572.4" width="13" height="13" fill="#008000"/><rect x="1914.19" y="572.4" width="13" height="13" fill="#008000"/><rect x="1918.63" y="572.4" width="13" height="13" fill="#008000"/><rect x="1923.06" y="572.4" width="13" height="13" fill="#008000"/><rect x="1927.49" y="572.4" width="13" height="13" fill="#008000"/><rect x="1931.92" y="572.4" width="13" height="13" fill="#008000"/><rect x="1936.35" y="572.4" width="13" height="13" fill="#008000"/><rect x="1940.78" y="572.4" width="13" height="13" fill="#008000"/><rect x="1945.21" y="572.4" width="13" height="13" fill="#008000"/><rect x="1949.64" y="572.4" width="13" height="13" fill="#008000"/><rect x="1954.07" y="572.4" width="13" height="13" fill="#008000"/><rect x="1958.5" y="572.4" width="13" height="13" fill="#008000"/></g>
<g><polygon points="1078.9,101 1072.2,114 1085.6,114" fill="#ff0000"/><polygon points="1083.33,101 1076.63,114 1090.03,114" fill="#ff0000"/><polygon points="1087.76,101 1081.06,114 1094.46,114" fill="#ff0000"/><polygon points="1092.19,101 1085.49,114 1098.89,114" fill="#ff0000"/><polygon points="1096.62,101.01 1089.92,114.01 1103.32,114.01" fill="#ff0000"/><polygon points="1101.05,101.01 1094.35,114.01 1107.75,114.01" fill="#ff0000"/><polygon points="1105.48,101.02 1098.78,114.02 1112.18,114.02" fill="#ff0000"/><polygon points="1109.91,101.02 1103.21,114.02 1116.61,114.02" fill="#ff0000"/><polygon points="1114.34,101.03 1107.64,114.03 1121.04,114.03" fill="#ff0000"/><polygon points="1118.77,101.04 1112.07,114.04 1125.47,114.04" fill="#ff0000"/><polygon points="1123.21,101.05 1116.51,114.05 1129.91,114.05" fill="#ff0000"/><polygon points="1127.64,101.06 1120.94,114.06 1134.34,114.06" fill="#ff0000"/><polygon points="1132.07,101.07 1125.37,114.07 1138.77,114.07" fill="#ff0000"/><polygon points="1136.5,101.08 1129.8,114.08 1143.2,114.08" fill="#ff0000"/><polygon points="1140.93,101.09 1134.23,114.09 1147.63,114.09" fill="#ff0000"/><polygon points="1145.36,101.11 1138.66,114.11 1152.06,114.11" fill="#ff0000"/><polygon points="1149.79,101.12 1143.09,114.12 1156.49,114.12" fill="#ff0000"/><polygon points="1154.22,101.14 1147.52,114.14 1160.92,114.14" fill="#ff0000"/><polygon points="1158.65,101.16 1151.95,114.16 1165.35,114.16" fill="#ff0000"/><polygon points="1163.08,101.17 1156.38,114.17 1169.78,114.17" fill="#ff0000"/><polygon points="1167.51,101.19 1160.81,114.19 1174.21,114.19" fill="#ff0000"/><polygon points="1171.94,101.21 1165.24,114.21 1178.64,114.21" fill="#ff0000"/><polygon points="1176.37,101.23 1169.67,114.23 1183.07,114.23" fill="#ff0000"/><polygon points="1180.8,101.26 1174.1,114.26 1187.5,114.26" fill="#ff0000"/><polygon points="1185.23,101.28 1178.53,114.28 1191.93,114.28" fill="#ff0000"/><polygon points="1189.66,101.3 1182.96,114.3 1196.36,114.3" fill="#ff0000"/><polygon points="1194.09,101.33 1187.39,114.33 1200.79,114.33" fill="#ff0000"/><polygon points="1198.52,101.36 1191.82,114.36 1205.22,114.36" fill="#ff0000"/><polygon points="1202.95,101.38 1196.25,114.38 1209.65,114.38" fill="#ff0000"/><polygon points="1207.38,101.41 1200.68,114.41 1214.08,114.41" fill="#ff0000"/><polygon points="1211.82,101.44 1205.12,114.44 1218.52,114.44" fill="#ff0000"/><polygon points="1216.25,101.47 1209.55,114.47 1222.95,114.47" fill="#ff0000"/><polygon points="1220.68,101.51 1213.98,114.51 1227.38,114.51" fill="#ff0000"/><polygon points="1225.11,101.55 1218.41,114.55 1231.81,114.55" fill="#ff0000"/><polygon points="1229.54,101.62 1222.84,114.62 1236.24,114.62" fill="#ff0000"/><polygon points="1233.97,101.71 1227.27,114.71 1240.67,114.71" fill="#ff0000"/><polygon points="1238.4,101.82 1231.7,114.82 1245.1,114.82" fill="#ff0000"/><polygon points="1242.83,101.95 1236.13,114.95 1249.53,114.95" fill="#ff0000"/><polygon points="1247.26,102.11 1240.56,115.11 1253.96,115.11" fill="#ff0000"/><polygon points="1251.69,102.29 1244.99,115.29 1258.39,115.29" fill="#ff0000"/><polygon points="1256.12,102.49 1249.42,115.49 1262.82,115.49" fill="#ff0000"/><polygon points="1260.55,102.71 1253.85,115.71 1267.25,115.71" fill="#ff0000"/><polygon points="1264.98,102.97 1258.28,115.97 1271.68,115.97" fill="#ff0000"/><polygon points="1269.41,103.24 1262.71,116.24 1276.11,116.24" fill="#ff0000"/><polygon points="1273.84,103.54 1267.14,116.54 1280.54,116.54" fill="#ff0000"/><polygon points="1278.27,103.87 1271.57,116.87 1284.97,116.87" fill="#ff0000"/><polygon points="1282.7,104.26 1276,117.26 1289.4,117.26" fill="#ff0000"/><polygon points="1287.13,104.9 1280.43,117.9 1293.83,117.9" fill="#ff0000"/><polygon points="1291.56,105.8 1284.86,118.8 1298.26,118.8" fill="#ff0000"/><polygon points="1295.99,106.95 1289.29,119.95 1302.69,119.95" fill="#ff0000"/><polygon points="1300.43,108.35 1293.73,121.35 1307.13,121.35" fill="#ff0000"/><polygon points="1304.86,110 1298.16,123 1311.56,123" fill="#ff0000"/><polygon points="1309.29,111.89 1302.59,124.89 1315.99,124.89" fill="#ff0000"/><polygon points="1313.72,114.01 1307.02,127.01 1320.42,127.01" fill="#ff0000"/><polygon points="1318.15,117.86 1311.45,130.86 1324.85,130.86" fill="#ff0000"/><polygon points="1322.58,122.25 1315.88,135.25 1329.28,135.25" fill="#ff0000"/><polygon points="1327.01,127.31 1320.31,140.31 1333.71,140.31" fill="#ff0000"/><polygon points="1331.44,133.23 1324.74,146.23 1338.14,146.23" fill="#ff0000"/><polygon points="1335.87,139.37 1329.17,152.37 1342.57,152.37" fill="#ff0000"/><polygon points="1340.3,146.13 1333.6,159.13 1347,159.13" fill="#ff0000"/><polygon points="1344.73,154.26 1338.03,167.26 1351.43,167.26" fill="#ff0000"/><polygon points="1349.16,163.63 1342.46,176.63 1355.86,176.63" fill="#ff0000"/><polygon points="1353.59,174 1346.89,187 1360.29,187" fill="#ff0000"/><polygon points="1358.02,187.8 1351.32,200.8 1364.72,200.8" fill="#ff0000"/><polygon points="1362.45,203.58 1355.75,216.58 1369.15,216.58" fill="#ff0000"/><polygon points="1366.88,219.1 1360.18,232.1 1373.58,232.1" fill="#ff0000"/><polygon points="1371.31,235.3 1364.61,248.3 1378.01,248.3" fill="#ff0000"/><polygon points="1375.74,250.61 1369.04,263.61 1382.44,263.61" fill="#ff0000"/><polygon points="1380.17,272.77 1373.47,285.77 1386.87,285.77" fill="#ff0000"/><polygon points="1384.6,294.9 1377.9,307.9 1391.3,307.9" fill="#ff0000"/><polygon points="1389.04,317.52 1382.34,330.52 1395.74,330.52" fill="#ff0000"/><polygon points="1393.47,341.3 1386.77,354.3 1400.17,354.3" fill="#ff0000"/><polygon points="1397.9,367.74 1391.2,380.74 1404.6,380.74" fill="#ff0000"/><polygon points="1402.33,396.22 1395.63,409.22 1409.03,409.22" fill="#ff0000"/><polygon points="1406.76,425.02 1400.06,438.02 1413.46,438.02" fill="#ff0000"/><polygon points="1411.19,453.32 1404.49,466.32 1417.89,466.32" fill="#ff0000"/><polygon points="1415.62,482.64 1408.92,495.64 1422.32,495.64" fill="#ff0000"/><polygon points="1420.05,509.81 1413.35,522.81 1426.75,522.81" fill="#ff0000"/><polygon points="1424.48,532.15 1417.78,545.15 1431.18,545.15" fill="#ff0000"/><polygon points="1428.91,549.86 1422.21,562.86 1435.61,562.86" fill="#ff0000"/><polygon points="1433.34,563.28 1426.64,576.28 1440.04,576.28" fill="#ff0000"/><polygon points="1437.77,568.86 1431.07,581.86 1444.47,581.86" fill="#ff0000"/><polygon points="1442.2,570.92 1435.5,583.92 1448.9,583.92" fill="#ff0000"/><polygon points="1446.63,571.74 1439.93,584.74 1453.33,584.74" fill="#ff0000"/><polygon points="1451.06,571.98 1444.36,584.98 1457.76,584.98" fill="#ff0000"/><polygon points="1455.49,572.16 1448.79,585.16 1462.19,585.16" fill="#ff0000"/><polygon points="1459.92,572.29 1453.22,585.29 1466.62,585.29" fill="#ff0000"/><polygon points="1464.35,572.37 1457.65,585.37 1471.05,585.37" fill="#ff0000"/><polygon points="1468.78,572.4 1462.08,585.4 1475.48,585.4" fill="#ff0000"/><polygon points="1473.21,572.4 1466.51,585.4 1479.91,585.4" fill="#ff0000"/><polygon points="1477.64,572.4 1470.94,585.4 1484.35,585.4" fill="#ff0000"/><polygon points="1482.08,572.4 1475.38,585.4 1488.78,585.4" fill="#ff0000"/><polygon points="1486.51,572.4 1479.81,585.4 1493.21,585.4" fill="#ff0000"/><polygon points="1490.94,572.4 1484.24,585.4 1497.64,585.4" fill="#ff0000"/><polygon points="1495.37,572.4 1488.67,585.4 1502.07,585.4" fill="#ff0000"/><polygon points="1499.8,572.4 1493.1,585.4 1506.5,585.4" fill="#ff0000"/><polygon points="1504.23,572.4 1497.53,585.4 1510.93,585.4" fill="#ff0000"/><polygon points="1508.66,572.4 1501.96,585.4 1515.36,585.4" fill="#ff0000"/><polygon points="1513.09,572.4 1506.39,585.4 1519.79,585.4" fill="#ff0000"/><polygon points="1517.52,572.4 1510.82,585.4 1524.22,585.4" fill="#ff0000"/><polygon points="1521.95,572.4 1515.25,585.4 1528.65,585.4" fill="#ff0000"/><polygon points="1526.38,572.4 1519.68,585.4 1533.08,585.4" fill="#ff0000"/><polygon points="1530.81,572.4 1524.11,585.4 1537.51,585.4" fill="#ff0000"/><polygon points="1535.24,572.4 1528.54,585.4 1541.94,585.4" fill="#ff0000"/><polygon points="1539.67,572.4 1532.97,585.4 1546.37,585.4" fill="#ff0000"/><polygon points="1544.1,572.4 1537.4,585.4 1550.8,585.4" fill="#ff0000"/><polygon points="1548.53,572.4 1541.83,585.4 1555.23,585.4" fill="#ff0000"/><polygon points="1552.96,572.4 1546.26,585.4 1559.66,585.4" fill="#ff0000"/><polygon points="1557.39,572.4 1550.69,585.4 1564.09,585.4" fill="#ff0000"/><polygon points="1561.82,572.4 1555.12,585.4 1568.52,585.4" fill="#ff0000"/><polygon points="1566.25,572.4 1559.55,585.4 1572.95,585.4" fill="#ff0000"/><polygon points="1570.69,572.4 1563.99,585.4 1577.39,585.4" fill="#ff0000"/><polygon points="1575.12,572.4 1568.42,585.4 1581.82,585.4" fill="#ff0000"/><polygon points="1579.55,572.4 1572.85,585.4 1586.25,585.4" fill="#ff0000"/><polygon points="1583.98,572.4 1577.28,585.4 1590.68,585.4" fill="#ff0000"/><polygon points="1588.41,572.4 1581.71,585.4 1595.11,585.4" fill="#ff0000"/><polygon points="1592.84,572.4 1586.14,585.4 1599.54,585.4" fill="#ff0000"/><polygon points="1597.27,572.4 1590.57,585.4 1603.97,585.4" fill="#ff0000"/><polygon points="1601.7,572.4 1595,585.4 1608.4,585.4" fill="#ff0000"/><polygon points="1606.13,572.4 1599.43,585.4 1612.83,585.4" fill="#ff0000"/><polygon points="1610.56,572.4 1603.86,585.4 1617.26,585.4" fill="#ff0000"/><polygon points="1614.99,572.4 1608.29,585.4 1621.69,585.4" fill="#ff0000"/><polygon points="1619.42,572.4 1612.72,585.4 1626.12,585.4" fill="#ff0000"/><polygon points="1623.85,572.4 1617.15,585.4 1630.55,585.4" fill="#ff0000"/><polygon points="1628.28,572.4 1621.58,585.4 1634.98,585.4" fill="#ff0000"/><polygon points="1632.71,572.4 1626.01,585.4 1639.41,585.4" fill="#ff0000"/><polygon points="1637.14,572.4 1630.44,585.4 1643.84,585.4" fill="#ff0000"/><polygon points="1641.57,572.4 1634.87,585.4 1648.27,585.4" fill="#ff0000"/><polygon points="1646,572.4 1639.3,585.4 1652.7,585.4" fill="#ff0000"/><polygon points="1650.43,572.4 1643.73,585.4 1657.13,585.4" fill="#ff0000"/><polygon points="1654.87,572.4 1648.16,585.4 1661.57,585.4" fill="#ff0000"/><polygon points="1659.3,572.4 1652.6,585.4 1666,585.4" fill="#ff0000"/><polygon points="1663.73,572.4 1657.03,585.4 1670.43,585.4" fill="#ff0000"/><polygon points="1668.16,572.4 1661.46,585.4 1674.86,585.4" fill="#ff0000"/><polygon points="1672.59,572.4 1665.89,585.4 1679.29,585.4" fill="#ff0000"/><polygon points="1677.02,572.4 1670.32,585.4 1683.72,585.4" fill="#ff0000"/><polygon points="1681.45,572.4 1674.75,585.4 1688.15,585.4" fill="#ff0000"/><polygon points="1685.88,572.4 1679.18,585.4 1692.58,585.4" fill="#ff0000"/><polygon points="1690.31,572.4 1683.61,585.4 1697.01,585.4" fill="#ff0000"/><polygon points="1694.74,572.4 1688.04,585.4 1701.44,585.4" fill="#ff0000"/><polygon points="1699.17,572.4 1692.47,585.4 1705.87,585.4" fill="#ff0000"/><polygon points="1703.6,572.4 1696.9,585.4 1710.3,585.4" fill="#ff0000"/><polygon points="1708.03,572.4 1701.33,585.4 1714.73,585.4" fill="#ff0000"/><polygon points="1712.46,572.4 1705.76,585.4 1719.16,585.4" fill="#ff0000"/><polygon points="1716.89,572.4 1710.19,585.4 1723.59,585.4" fill="#ff0000"/><polygon points="1721.32,572.4 1714.62,585.4 1728.02,585.4" fill="#ff0000"/><polygon points="1725.75,572.4 1719.05,585.4 1732.45,585.4" fill="#ff0000"/><polygon points="1730.18,572.4 1723.48,585.4 1736.88,585.4" fill="#ff0000"/><polygon points="1734.61,572.4 1727.91,585.4 1741.31,585.4" fill="#ff0000"/><polygon points="1739.04,572.4 1732.34,585.4 1745.74,585.4" fill="#ff0000"/><polygon points="1743.48,572.4 1736.78,585.4 1750.18,585.4" fill="#ff0000"/><polygon points="1747.91,572.4 1741.21,585.4 1754.61,585.4" fill="#ff0000"/><polygon points="1752.34,572.4 1745.64,585.4 1759.04,585.4" fill="#ff0000"/><polygon points="1756.77,572.4 1750.07,585.4 1763.47,585.4" fill="#ff0000"/><polygon points="1761.2,572.4 1754.5,585.4 1767.9,585.4" fill="#ff0000"/><polygon points="1765.63,572.4 1758.93,585.4 1772.33,585.4" fill="#ff0000"/><polygon points="1770.06,572.4 1763.36,585.4 1776.76,585.4" fill="#ff0000"/><polygon points="1774.49,572.4 1767.79,585.4 1781.19,585.4" fill="#ff0000"/><polygon points="1778.92,572.4 1772.22,585.4 1785.62,585.4" fill="#ff0000"/><polygon points="1783.35,572.4 1776.65,585.4 1790.05,585.4" fill="#ff0000"/><polygon points="1787.78,572.4 1781.08,585.4 1794.48,585.4" fill="#ff0000"/><polygon points="1792.21,572.4 1785.51,585.4 1798.91,585.4" fill="#ff0000"/><polygon points="1796.64,572.4 1789.94,585.4 1803.34,585.4" fill="#ff0000"/><polygon points="1801.07,572.4 1794.37,585.4 1807.77,585.4" fill="#ff0000"/><polygon points="1805.5,572.4 1798.8,585.4 1812.2,585.4" fill="#ff0000"/><polygon points="1809.93,572.4 1803.23,585.4 1816.63,585.4" fill="#ff0000"/><polygon points="1814.36,572.4 1807.66,585.4 1821.06,585.4" fill="#ff0000"/><polygon points="1818.79,572.4 1812.09,585.4 1825.49,585.4" fill="#ff0000"/><polygon points="1823.22,572.4 1816.52,585.4 1829.92,585.4" fill="#ff0000"/><polygon points="1827.65,572.4 1820.95,585.4 1834.35,585.4" fill="#ff0000"/><polygon points="1832.09,572.4 1825.38,585.4 1838.79,585.4" fill="#ff0000"/><polygon points="1836.52,572.4 1829.82,585.4 1843.22,585.4" fill="#ff0000"/><polygon points="1840.95,572.4 1834.25,585.4 1847.65,585.4" fill="#ff0000"/><polygon points="1845.38,572.4 1838.68,585.4 1852.08,585.4" fill="#ff0000"/><polygon points="1849.81,572.4 1843.11,585.4 1856.51,585.4" fill="#ff0000"/><polygon points="1854.24,572.4 1847.54,585.4 1860.94,585.4" fill="#ff0000"/><polygon points="1858.67,572.4 1851.97,585.4 1865.37,585.4" fill="#ff0000"/><polygon points="1863.1,572.4 1856.4,585.4 1869.8,585.4" fill="#ff0000"/><polygon points="1867.53,572.4 1860.83,585.4 1874.23,585.4" fill="#ff0000"/><polygon points="1871.96,572.4 1865.26,585.4 1878.66,585.4" fill="#ff0000"/><polygon points="1876.39,572.4 1869.69,585.4 1883.09,585.4" fill="#ff0000"/><polygon points="1880.82,572.4 1874.12,585.4 1887.52,585.4" fill="#ff0000"/><polygon points="1885.25,572.4 1878.55,585.4 1891.95,585.4" fill="#ff0000"/><polygon points="1889.68,572.4 1882.98,585.4 1896.38,585.4" fill="#ff0000"/><polygon points="1894.11,572.4 1887.41,585.4 1900.81,585.4" fill="#ff0000"/><polygon points="1898.54,572.4 1891.84,585.4 1905.24,585.4" fill="#ff0000"/><polygon points="1902.97,572.4 1896.27,585.4 1909.67,585.4" fill="#ff0000"/><polygon points="1907.4,572.4 1900.7,585.4 1914.1,585.4" fill="#ff0000"/><polygon points="1911.83,572.4 1905.13,585.4 1918.53,585.4" fill="#ff0000"/><polygon points="1916.26,572.4 1909.56,585.4 1922.96,585.4" fill="#ff0000"/><polygon points="1920.69,572.4 1913.99,585.4 1927.39,585.4" fill="#ff0000"/><polygon points="1925.13,572.4 1918.43,585.4 1931.83,585.4" fill="#ff0000"/><polygon points="1929.56,572.4 1922.86,585.4 1936.26,585.4" fill="#ff0000"/><polygon points="1933.99,572.4 1927.29,585.4 1940.69,585.4" fill="#ff0000"/><polygon points="1938.42,572.4 1931.72,585.4 1945.12,585.4" fill="#ff0000"/><polygon points="1942.85,572.4 1936.15,585.4 1949.55,585.4" fill="#ff0000"/><polygon points="1947.28,572.4 1940.58,585.4 1953.98,585.4" fill="#ff0000"/><polygon points="1951.71,572.4 1945.01,585.4 1958.41,585.4" fill="#ff0000"/><polygon points="1956.14,572.4 1949.44,585.4 1962.84,585.4" fill="#ff0000"/><polygon points="1960.57,572.4 1953.87,585.4 1967.27,585.4" fill="#ff0000"/><polygon points="1965,572.4 1958.3,585.4 1971.7,585.4" fill="#ff0000"/></g>
<g><polygon points="1078.9,71.9 1079.99,74.7 1082.99,74.87 1080.66,76.77 1081.43,79.68 1078.9,78.05 1076.37,79.68 1077.14,76.77 1074.81,74.87 1077.81,74.7" fill="#ff0000" stroke="#ff0000" stroke-width="2.5" stroke-linejoin="round"/><polygon points="1083.33,71.9 1084.42,74.7 1087.42,74.87 1085.09,76.77 1085.86,79.68 1083.33,78.05 1080.8,79.68 1081.57,76.77 1079.24,74.87 1082.24,74.7" fill="#ff0000" stroke="#ff0000" stroke-width="2.5" stroke-linejoin="round"/><polygon points="1087.76,71.9 1088.85,74.71 1091.85,74.87 1089.52,76.77 1090.29,79.68 1087.76,78.05 1085.23,79.68 1086,76.77 1083.67,74.87 1086.67,74.71" fill="#ff0000" stroke="#ff0000" stroke-width="2.5" stroke-linejoin="round"/><polygon points="1092.19,71.9 1093.28,74.71 1096.28,74.87 1093.95,76.78 1094.72,79.68 1092.19,78.05 1089.66,79.68 1090.43,76.78 1088.1,74.87 1091.1,74.71" fill="#ff0000" stroke="#ff0000" stroke-width="2.5" stroke-linejoin="round"/><polygon points="1096.62,71.91 1097.71,74.71 1100.71,74.88 1098.38,76.78 1099.15,79.69 1096.62,78.06 1094.09,79.69 1094.86,76.78 1092.53,74.88 1095.53,74.71" fill="#ff0000" stroke="#ff0000" stroke-width="2.5" stroke-linejoin="round"/><polygon points="1101.05,71.91 1102.14,74.71 1105.14,74.88 1102.81,76.78 1103.58,79.69 1101.05,78.06 1098.53,79.69 1099.29,76.78 1096.96,74.88 1099.97,74.71" fill="#ff0000" stroke="#ff0000" stroke-width="2.5" stroke-linejoin="round"/><polygon points="1105.48,71.91 1106.57,74.72 1109.57,74.89 1107.24,76.79 1108.01,79.69 1105.48,78.06 1102.96,79.69 1103.72,76.79 1101.39,74.89 1104.4,74.72" fill="#ff0000" stroke="#ff0000" stroke-width="2.5" stroke-linejoin="round"/><polygon points="1109.91,71.92 1111,74.72 1114,74.89 1111.67,76.79 1112.44,79.7 1109.91,78.07 1107.39,79.7 1108.15,76.79 1105.82,74.89 1108.83,74.72" fill="#ff0000" stroke="#ff0000" stroke-width="2.5" stroke-linejoin="round"/><polygon points="1114.34,71.92 1115.43,74.73 1118.43,74.9 1116.1,76.8 1116.87,79.7 1114.34,78.07 1111.82,79.7 1112.58,76.8 1110.25,74.9 1113.26,74.73" fill="#ff0000" stroke="#ff0000" stroke-width="2.5" stroke-linejoin="round"/><polygon points="1118.77,71.93 1119.86,74.73 1122.86,74.9 1120.53,76.8 1121.3,79.71 1118.77,78.08 1116.25,79.71 1117.02,76.8 1114.68,74.9 1117.69,74.73" fill="#ff0000" stroke="#ff0000" stroke-width="2.5" stroke-linejoin="round"/><polygon points="1123.21,71.94 1124.29,74.74 1127.29,74.91 1124.96,76.81 1125.73,79.72 1123.21,78.09 1120.68,79.72 1121.45,76.81 1119.12,74.91 1122.12,74.74" fill="#ff0000" stroke="#ff0000" stroke-width="2.5" stroke-linejoin="round"/><polygon points="1127.64,71.95 1128.72,74.75 1131.73,74.92 1129.39,76.82 1130.16,79.73 1127.64,78.1 1125.11,79.73 1125.88,76.82 1123.55,74.92 1126.55,74.75" fill="#ff0000" stroke="#ff0000" stroke-width="2.5" stroke-linejoin="round"/><polygon points="1132.07,71.96 1133.15,74.76 1136.16,74.93 1133.83,76.83 1134.59,79.74 1132.07,78.11 1129.54,79.74 1130.31,76.83 1127.98,74.93 1130.98,74.76" fill="#ff0000" stroke="#ff0000" stroke-width="2.5" stroke-linejoin="round"/><polygon points="1136.5,71.97 1137.58,74.77 1140.59,74.94 1138.26,76.84 1139.02,79.75 1136.5,78.12 1133.97,79.75 1134.74,76.84 1132.41,74.94 1135.41,74.77" fill="#ff0000" stroke="#ff0000" stroke-width="2.5" stroke-linejoin="round"/><polygon points="1140.93,71.98 1142.01,74.78 1145.02,74.95 1142.69,76.85 1143.45,79.76 1140.93,78.13 1138.4,79.76 1139.17,76.85 1136.84,74.95 1139.84,74.78" fill="#ff0000" stroke="#ff0000" stroke-width="2.5" stroke-linejoin="round"/><polygon points="1145.36,71.99 1146.44,74.79 1149.45,74.96 1147.12,76.86 1147.88,79.77 1145.36,78.14 1142.83,79.77 1143.6,76.86 1141.27,74.96 1144.27,74.79" fill="#ff0000" stroke="#ff0000" stroke-width="2.5" stroke-linejoin="round"/><polygon points="1149.79,72 1150.88,74.81 1153.88,74.97 1151.55,76.87 1152.32,79.78 1149.79,78.15 1147.26,79.78 1148.03,76.87 1145.7,74.97 1148.7,74.81" fill="#ff0000" stroke="#ff0000" stroke-width="2.5" stroke-linejoin="round"/><polygon points="1154.22,72.02 1155.31,74.82 1158.31,74.99 1155.98,76.89 1156.75,79.8 1154.22,78.17 1151.69,79.8 1152.46,76.89 1150.13,74.99 1153.13,74.82" fill="#ff0000" stroke="#ff0000" stroke-width="2.5" stroke-linejoin="round"/><polygon points="1158.65,72.03 1159.74,74.83 1162.74,75 1160.41,76.9 1161.18,79.81 1158.65,78.18 1156.12,79.81 1156.89,76.9 1154.56,75 1157.56,74.83" fill="#ff0000" stroke="#ff0000" stroke-width="2.5" stroke-linejoin="round"/><polygon points="1163.08,72.05 1164.17,74.85 1167.17,75.02 1164.84,76.92 1165.61,79.83 1163.08,78.2 1160.55,79.83 1161.32,76.92 1158.99,75.02 1161.99,74.85" fill="#ff0000" stroke="#ff0000" stroke-width="2.5" stroke-linejoin="round"/><polygon points="1167.51,72.06 1168.6,74.87 1171.6,75.04 1169.27,76.94 1170.04,79.84 1167.51,78.21 1164.98,79.84 1165.75,76.94 1163.42,75.04 1166.42,74.87" fill="#ff0000" stroke="#ff0000" stroke-width="2.5" stroke-linejoin="round"/><polygon points="1171.94,72.08 1173.03,74.88 1176.03,75.05 1173.7,76.95 1174.47,79.86 1171.94,78.23 1169.41,79.86 1170.18,76.95 1167.85,75.05 1170.85,74.88" fill="#ff0000" stroke="#ff0000" stroke-width="2.5" stroke-linejoin="round"/><polygon points="1176.37,72.1 1177.46,74.9 1180.46,75.07 1178.13,76.97 1178.9,79.88 1176.37,78.25 1173.84,79.88 1174.61,76.97 1172.28,75.07 1175.28,74.9" fill="#ff0000" stroke="#ff0000" stroke-width="2.5" stroke-linejoin="round"/><polygon points="1180.8,72.12 1181.89,74.92 1184.89,75.09 1182.56,76.99 1183.33,79.9 1180.8,78.27 1178.27,79.9 1179.04,76.99 1176.71,75.09 1179.71,74.92" fill="#ff0000" stroke="#ff0000" stroke-width="2.5" stroke-linejoin="round"/><polygon points="1185.23,72.14 1186.32,74.95 1189.32,75.11 1186.99,77.01 1187.76,79.92 1185.23,78.29 1182.7,79.92 1183.47,77.01 1181.14,75.11 1184.14,74.95" fill="#ff0000" stroke="#ff0000" stroke-width="2.5" stroke-linejoin="round"/><polygon points="1189.66,72.16 1190.75,74.97 1193.75,75.14 1191.42,77.04 1192.19,79.94 1189.66,78.31 1187.14,79.94 1187.9,77.04 1185.57,75.14 1188.58,74.97" fill="#ff0000" stroke="#ff0000" stroke-width="2.5" stroke-linejoin="round"/><polygon points="1194.09,72.19 1195.18,74.99 1198.18,75.16 1195.85,77.06 1196.62,79.97 1194.09,78.34 1191.57,79.97 1192.33,77.06 1190,75.16 1193.01,74.99" fill="#ff0000" stroke="#ff0000" stroke-width="2.5" stroke-linejoin="round"/><polygon points="1198.52,72.21 1199.61,75.02 1202.61,75.18 1200.28,77.08 1201.05,79.99 1198.52,78.36 1196,79.99 1196.76,77.08 1194.43,75.18 1197.44,75.02" fill="#ff0000" stroke="#ff0000" stroke-width="2.5" stroke-linejoin="round"/><polygon points="1202.95,72.24 1204.04,75.04 1207.04,75.21 1204.71,77.11 1205.48,80.02 1202.95,78.39 1200.43,80.02 1201.19,77.11 1198.86,75.21 1201.87,75.04" fill="#ff0000" stroke="#ff0000" stroke-width="2.5" stroke-linejoin="round"/><polygon points="1207.38,72.26 1208.47,75.07 1211.47,75.24 1209.14,77.14 1209.91,80.04 1207.38,78.41 1204.86,80.04 1205.63,77.14 1203.29,75.24 1206.3,75.07" fill="#ff0000" stroke="#ff0000" stroke-width="2.5" stroke-linejoin="round"/><polygon points="1211.82,72.29 1212.9,75.1 1215.9,75.26 1213.57,77.16 1214.34,80.07 1211.82,78.44 1209.29,80.07 1210.06,77.16 1207.73,75.26 1210.73,75.1" fill="#ff0000" stroke="#ff0000" stroke-width="2.5" stroke-linejoin="round"/><polygon points="1216.25,72.32 1217.33,75.12 1220.34,75.29 1218,77.19 1218.77,80.1 1216.25,78.47 1213.72,80.1 1214.49,77.19 1212.16,75.29 1215.16,75.12" fill="#ff0000" stroke="#ff0000" stroke-width="2.5" stroke-linejoin="round"/><polygon points="1220.68,72.35 1221.76,75.16 1224.77,75.32 1222.44,77.22 1223.2,80.13 1220.68,78.5 1218.15,80.13 1218.92,77.22 1216.59,75.32 1219.59,75.16" fill="#ff0000" stroke="#ff0000" stroke-width="2.5" stroke-linejoin="round"/><polygon points="1225.11,72.38 1226.19,75.19 1229.2,75.36 1226.87,77.26 1227.63,80.16 1225.11,78.53 1222.58,80.16 1223.35,77.26 1221.02,75.36 1224.02,75.19" fill="#ff0000" stroke="#ff0000" stroke-width="2.5" stroke-linejoin="round"/><polygon points="1229.54,72.42 1230.62,75.22 1233.63,75.39 1231.3,77.29 1232.06,80.2 1229.54,78.57 1227.01,80.2 1227.78,77.29 1225.45,75.39 1228.45,75.22" fill="#ff0000" stroke="#ff0000" stroke-width="2.5" stroke-linejoin="round"/><polygon points="1233.97,72.45 1235.05,75.25 1238.06,75.42 1235.73,77.32 1236.49,80.23 1233.97,78.6 1231.44,80.23 1232.21,77.32 1229.88,75.42 1232.88,75.25" fill="#ff0000" stroke="#ff0000" stroke-width="2.5" stroke-linejoin="round"/><polygon points="1238.4,72.49 1239.49,75.29 1242.49,75.46 1240.16,77.36 1240.93,80.27 1238.4,78.64 1235.87,80.27 1236.64,77.36 1234.31,75.46 1237.31,75.29" fill="#ff0000" stroke="#ff0000" stroke-width="2.5" stroke-linejoin="round"/><polygon points="1242.83,72.53 1243.92,75.34 1246.92,75.5 1244.59,77.4 1245.36,80.31 1242.83,78.68 1240.3,80.31 1241.07,77.4 1238.74,75.5 1241.74,75.34" fill="#ff0000" stroke="#ff0000" stroke-width="2.5" stroke-linejoin="round"/><polygon points="1247.26,72.62 1248.35,75.42 1251.35,75.59 1249.02,77.49 1249.79,80.4 1247.26,78.77 1244.73,80.4 1245.5,77.49 1243.17,75.59 1246.17,75.42" fill="#ff0000" stroke="#ff0000" stroke-width="2.5" stroke-linejoin="round"/><polygon points="1251.69,72.75 1252.78,75.56 1255.78,75.73 1253.45,77.63 1254.22,80.53 1251.69,78.9 1249.16,80.53 1249.93,77.63 1247.6,75.73 1250.6,75.56" fill="#ff0000" stroke="#ff0000" stroke-width="2.5" stroke-linejoin="round"/><polygon points="1256.12,72.93 1257.21,75.73 1260.21,75.9 1257.88,77.8 1258.65,80.71 1256.12,79.08 1253.59,80.71 1254.36,77.8 1252.03,75.9 1255.03,75.73" fill="#ff0000" stroke="#ff0000" stroke-width="2.5" stroke-linejoin="round"/><polygon points="1260.55,73.15 1261.64,75.96 1264.64,76.12 1262.31,78.02 1263.08,80.93 1260.55,79.3 1258.02,80.93 1258.79,78.02 1256.46,76.12 1259.46,75.96" fill="#ff0000" stroke="#ff0000" stroke-width="2.5" stroke-linejoin="round"/><polygon points="1264.98,73.42 1266.07,76.22 1269.07,76.39 1266.74,78.29 1267.51,81.2 1264.98,79.57 1262.45,81.2 1263.22,78.29 1260.89,76.39 1263.89,76.22" fill="#ff0000" stroke="#ff0000" stroke-width="2.5" stroke-linejoin="round"/><polygon points="1269.41,73.72 1270.5,76.53 1273.5,76.7 1271.17,78.6 1271.94,81.5 1269.41,79.87 1266.88,81.5 1267.65,78.6 1265.32,76.7 1268.32,76.53" fill="#ff0000" stroke="#ff0000" stroke-width="2.5" stroke-linejoin="round"/><polygon points="1273.84,74.07 1274.93,76.88 1277.93,77.04 1275.6,78.95 1276.37,81.85 1273.84,80.22 1271.31,81.85 1272.08,78.95 1269.75,77.04 1272.75,76.88" fill="#ff0000" stroke="#ff0000" stroke-width="2.5" stroke-linejoin="round"/><polygon points="1278.27,74.47 1279.36,77.27 1282.36,77.44 1280.03,79.34 1280.8,82.24 1278.27,80.62 1275.75,82.24 1276.51,79.34 1274.18,77.44 1277.19,77.27" fill="#ff0000" stroke="#ff0000" stroke-width="2.5" stroke-linejoin="round"/><polygon points="1282.7,74.9 1283.79,77.7 1286.79,77.87 1284.46,79.77 1285.23,82.68 1282.7,81.05 1280.18,82.68 1280.94,79.77 1278.61,77.87 1281.62,77.7" fill="#ff0000" stroke="#ff0000" stroke-width="2.5" stroke-linejoin="round"/><polygon points="1287.13,75.37 1288.22,78.18 1291.22,78.34 1288.89,80.24 1289.66,83.15 1287.13,81.52 1284.61,83.15 1285.37,80.24 1283.04,78.34 1286.05,78.18" fill="#ff0000" stroke="#ff0000" stroke-width="2.5" stroke-linejoin="round"/><polygon points="1291.56,75.92 1292.65,78.72 1295.65,78.89 1293.32,80.79 1294.09,83.7 1291.56,82.07 1289.04,83.7 1289.8,80.79 1287.47,78.89 1290.48,78.72" fill="#ff0000" stroke="#ff0000" stroke-width="2.5" stroke-linejoin="round"/><polygon points="1295.99,76.87 1297.08,79.68 1300.08,79.85 1297.75,81.75 1298.52,84.65 1295.99,83.02 1293.47,84.65 1294.24,81.75 1291.9,79.85 1294.91,79.68" fill="#ff0000" stroke="#ff0000" stroke-width="2.5" stroke-linejoin="round"/><polygon points="1300.43,78.27 1301.51,81.08 1304.51,81.24 1302.18,83.14 1302.95,86.05 1300.43,84.42 1297.9,86.05 1298.67,83.14 1296.34,81.24 1299.34,81.08" fill="#ff0000" stroke="#ff0000" stroke-width="2.5" stroke-linejoin="round"/><polygon points="1304.86,80.03 1305.94,82.84 1308.95,83 1306.61,84.9 1307.38,87.81 1304.86,86.18 1302.33,87.81 1303.1,84.9 1300.77,83 1303.77,82.84" fill="#ff0000" stroke="#ff0000" stroke-width="2.5" stroke-linejoin="round"/><polygon points="1309.29,82.08 1310.37,84.88 1313.38,85.05 1311.05,86.95 1311.81,89.85 1309.29,88.23 1306.76,89.85 1307.53,86.95 1305.2,85.05 1308.2,84.88" fill="#ff0000" stroke="#ff0000" stroke-width="2.5" stroke-linejoin="round"/><polygon points="1313.72,84.32 1314.8,87.12 1317.81,87.29 1315.48,89.19 1316.24,92.1 1313.72,90.47 1311.19,92.1 1311.96,89.19 1309.63,87.29 1312.63,87.12" fill="#ff0000" stroke="#ff0000" stroke-width="2.5" stroke-linejoin="round"/><polygon points="1318.15,86.69 1319.23,89.49 1322.24,89.66 1319.91,91.56 1320.67,94.47 1318.15,92.84 1315.62,94.47 1316.39,91.56 1314.06,89.66 1317.06,89.49" fill="#ff0000" stroke="#ff0000" stroke-width="2.5" stroke-linejoin="round"/><polygon points="1322.58,89.23 1323.66,92.04 1326.67,92.21 1324.34,94.11 1325.1,97.01 1322.58,95.38 1320.05,97.01 1320.82,94.11 1318.49,92.21 1321.49,92.04" fill="#ff0000" stroke="#ff0000" stroke-width="2.5" stroke-linejoin="round"/><polygon points="1327.01,92.39 1328.1,95.2 1331.1,95.36 1328.77,97.26 1329.54,100.17 1327.01,98.54 1324.48,100.17 1325.25,97.26 1322.92,95.36 1325.92,95.2" fill="#ff0000" stroke="#ff0000" stroke-width="2.5" stroke-linejoin="round"/><polygon points="1331.44,96.04 1332.53,98.84 1335.53,99.01 1333.2,100.91 1333.97,103.81 1331.44,102.19 1328.91,103.81 1329.68,100.91 1327.35,99.01 1330.35,98.84" fill="#ff0000" stroke="#ff0000" stroke-width="2.5" stroke-linejoin="round"/><polygon points="1335.87,99.96 1336.96,102.76 1339.96,102.93 1337.63,104.83 1338.4,107.74 1335.87,106.11 1333.34,107.74 1334.11,104.83 1331.78,102.93 1334.78,102.76" fill="#ff0000" stroke="#ff0000" stroke-width="2.5" stroke-linejoin="round"/><polygon points="1340.3,103.97 1341.39,106.77 1344.39,106.94 1342.06,108.84 1342.83,111.75 1340.3,110.12 1337.77,111.75 1338.54,108.84 1336.21,106.94 1339.21,106.77" fill="#ff0000" stroke="#ff0000" stroke-width="2.5" stroke-linejoin="round"/><polygon points="1344.73,107.87 1345.82,110.67 1348.82,110.84 1346.49,112.74 1347.26,115.65 1344.73,114.02 1342.2,115.65 1342.97,112.74 1340.64,110.84 1343.64,110.67" fill="#ff0000" stroke="#ff0000" stroke-width="2.5" stroke-linejoin="round"/><polygon points="1349.16,112.74 1350.25,115.54 1353.25,115.71 1350.92,117.61 1351.69,120.52 1349.16,118.89 1346.63,120.52 1347.4,117.61 1345.07,115.71 1348.07,115.54" fill="#ff0000" stroke="#ff0000" stroke-width="2.5" stroke-linejoin="round"/><polygon points="1353.59,121.08 1354.68,123.89 1357.68,124.05 1355.35,125.95 1356.12,128.86 1353.59,127.23 1351.06,128.86 1351.83,125.95 1349.5,124.05 1352.5,123.89" fill="#ff0000" stroke="#ff0000" stroke-width="2.5" stroke-linejoin="round"/><polygon points="1358.02,130.45 1359.11,133.25 1362.11,133.42 1359.78,135.32 1360.55,138.23 1358.02,136.6 1355.49,138.23 1356.26,135.32 1353.93,133.42 1356.93,133.25" fill="#ff0000" stroke="#ff0000" stroke-width="2.5" stroke-linejoin="round"/><polygon points="1362.45,141.54 1363.54,144.34 1366.54,144.51 1364.21,146.41 1364.98,149.32 1362.45,147.69 1359.92,149.32 1360.69,146.41 1358.36,144.51 1361.36,144.34" fill="#ff0000" stroke="#ff0000" stroke-width="2.5" stroke-linejoin="round"/><polygon points="1366.88,154.26 1367.97,157.06 1370.97,157.23 1368.64,159.13 1369.41,162.04 1366.88,160.41 1364.36,162.04 1365.12,159.13 1362.79,157.23 1365.8,157.06" fill="#ff0000" stroke="#ff0000" stroke-width="2.5" stroke-linejoin="round"/><polygon points="1371.31,169.51 1372.4,172.31 1375.4,172.48 1373.07,174.38 1373.84,177.28 1371.31,175.66 1368.79,177.28 1369.55,174.38 1367.22,172.48 1370.23,172.31" fill="#ff0000" stroke="#ff0000" stroke-width="2.5" stroke-linejoin="round"/><polygon points="1375.74,186.29 1376.83,189.09 1379.83,189.26 1377.5,191.16 1378.27,194.07 1375.74,192.44 1373.22,194.07 1373.98,191.16 1371.65,189.26 1374.66,189.09" fill="#ff0000" stroke="#ff0000" stroke-width="2.5" stroke-linejoin="round"/><polygon points="1380.17,205.68 1381.26,208.48 1384.26,208.65 1381.93,210.55 1382.7,213.46 1380.17,211.83 1377.65,213.46 1378.41,210.55 1376.08,208.65 1379.09,208.48" fill="#ff0000" stroke="#ff0000" stroke-width="2.5" stroke-linejoin="round"/><polygon points="1384.6,227.92 1385.69,230.72 1388.69,230.89 1386.36,232.79 1387.13,235.7 1384.6,234.07 1382.08,235.7 1382.85,232.79 1380.51,230.89 1383.52,230.72" fill="#ff0000" stroke="#ff0000" stroke-width="2.5" stroke-linejoin="round"/><polygon points="1389.04,253.05 1390.12,255.86 1393.12,256.03 1390.79,257.93 1391.56,260.83 1389.04,259.2 1386.51,260.83 1387.28,257.93 1384.95,256.03 1387.95,255.86" fill="#ff0000" stroke="#ff0000" stroke-width="2.5" stroke-linejoin="round"/><polygon points="1393.47,280.04 1394.55,282.84 1397.56,283.01 1395.22,284.91 1395.99,287.82 1393.47,286.19 1390.94,287.82 1391.71,284.91 1389.38,283.01 1392.38,282.84" fill="#ff0000" stroke="#ff0000" stroke-width="2.5" stroke-linejoin="round"/><polygon points="1397.9,311.17 1398.98,313.98 1401.99,314.14 1399.66,316.04 1400.42,318.95 1397.9,317.32 1395.37,318.95 1396.14,316.04 1393.81,314.14 1396.81,313.98" fill="#ff0000" stroke="#ff0000" stroke-width="2.5" stroke-linejoin="round"/><polygon points="1402.33,341.83 1403.41,344.63 1406.42,344.8 1404.09,346.7 1404.85,349.61 1402.33,347.98 1399.8,349.61 1400.57,346.7 1398.24,344.8 1401.24,344.63" fill="#ff0000" stroke="#ff0000" stroke-width="2.5" stroke-linejoin="round"/><polygon points="1406.76,383.79 1407.84,386.59 1410.85,386.76 1408.52,388.66 1409.28,391.57 1406.76,389.94 1404.23,391.57 1405,388.66 1402.67,386.76 1405.67,386.59" fill="#ff0000" stroke="#ff0000" stroke-width="2.5" stroke-linejoin="round"/><polygon points="1411.19,425.68 1412.27,428.48 1415.28,428.65 1412.95,430.55 1413.71,433.46 1411.19,431.83 1408.66,433.46 1409.43,430.55 1407.1,428.65 1410.1,428.48" fill="#ff0000" stroke="#ff0000" stroke-width="2.5" stroke-linejoin="round"/><polygon points="1415.62,463.13 1416.71,465.93 1419.71,466.1 1417.38,468 1418.15,470.91 1415.62,469.28 1413.09,470.91 1413.86,468 1411.53,466.1 1414.53,465.93" fill="#ff0000" stroke="#ff0000" stroke-width="2.5" stroke-linejoin="round"/><polygon points="1420.05,502.38 1421.14,505.18 1424.14,505.35 1421.81,507.25 1422.58,510.16 1420.05,508.53 1417.52,510.16 1418.29,507.25 1415.96,505.35 1418.96,505.18" fill="#ff0000" stroke="#ff0000" stroke-width="2.5" stroke-linejoin="round"/><polygon points="1424.48,535.58 1425.57,538.38 1428.57,538.55 1426.24,540.45 1427.01,543.35 1424.48,541.73 1421.95,543.35 1422.72,540.45 1420.39,538.55 1423.39,538.38" fill="#ff0000" stroke="#ff0000" stroke-width="2.5" stroke-linejoin="round"/><polygon points="1428.91,557.4 1430,560.2 1433,560.37 1430.67,562.27 1431.44,565.18 1428.91,563.55 1426.38,565.18 1427.15,562.27 1424.82,560.37 1427.82,560.2" fill="#ff0000" stroke="#ff0000" stroke-width="2.5" stroke-linejoin="round"/><polygon points="1433.34,568.5 1434.43,571.31 1437.43,571.47 1435.1,573.37 1435.87,576.28 1433.34,574.65 1430.81,576.28 1431.58,573.37 1429.25,571.47 1432.25,571.31" fill="#ff0000" stroke="#ff0000" stroke-width="2.5" stroke-linejoin="round"/><polygon points="1437.77,572.64 1438.86,575.44 1441.86,575.61 1439.53,577.51 1440.3,580.42 1437.77,578.79 1435.24,580.42 1436.01,577.51 1433.68,575.61 1436.68,575.44" fill="#ff0000" stroke="#ff0000" stroke-width="2.5" stroke-linejoin="round"/><polygon points="1442.2,573.8 1443.29,576.61 1446.29,576.78 1443.96,578.68 1444.73,581.58 1442.2,579.95 1439.67,581.58 1440.44,578.68 1438.11,576.78 1441.11,576.61" fill="#ff0000" stroke="#ff0000" stroke-width="2.5" stroke-linejoin="round"/><polygon points="1446.63,574.26 1447.72,577.07 1450.72,577.23 1448.39,579.14 1449.16,582.04 1446.63,580.41 1444.1,582.04 1444.87,579.14 1442.54,577.23 1445.54,577.07" fill="#ff0000" stroke="#ff0000" stroke-width="2.5" stroke-linejoin="round"/><polygon points="1451.06,574.53 1452.15,577.33 1455.15,577.5 1452.82,579.4 1453.59,582.31 1451.06,580.68 1448.53,582.31 1449.3,579.4 1446.97,577.5 1449.97,577.33" fill="#ff0000" stroke="#ff0000" stroke-width="2.5" stroke-linejoin="round"/><polygon points="1455.49,574.6 1456.58,577.4 1459.58,577.57 1457.25,579.47 1458.02,582.38 1455.49,580.75 1452.97,582.38 1453.73,579.47 1451.4,577.57 1454.41,577.4" fill="#ff0000" stroke="#ff0000" stroke-width="2.5" stroke-linejoin="round"/><polygon points="1459.92,574.6 1461.01,577.4 1464.01,577.57 1461.68,579.47 1462.45,582.38 1459.92,580.75 1457.4,582.38 1458.16,579.47 1455.83,577.57 1458.84,577.4" fill="#ff0000" stroke="#ff0000" stroke-width="2.5" stroke-linejoin="round"/><polygon points="1464.35,574.6 1465.44,577.4 1468.44,577.57 1466.11,579.47 1466.88,582.38 1464.35,580.75 1461.83,582.38 1462.59,579.47 1460.26,577.57 1463.27,577.4" fill="#ff0000" stroke="#ff0000" stroke-width="2.5" stroke-linejoin="round"/><polygon points="1468.78,574.6 1469.87,577.4 1472.87,577.57 1470.54,579.47 1471.31,582.38 1468.78,580.75 1466.26,582.38 1467.02,579.47 1464.69,577.57 1467.7,577.4" fill="#ff0000" stroke="#ff0000" stroke-width="2.5" stroke-linejoin="round"/><polygon points="1473.21,574.6 1474.3,577.4 1477.3,577.57 1474.97,579.47 1475.74,582.38 1473.21,580.75 1470.69,582.38 1471.46,579.47 1469.12,577.57 1472.13,577.4" fill="#ff0000" stroke="#ff0000" stroke-width="2.5" stroke-linejoin="round"/><polygon points="1477.64,574.6 1478.73,577.4 1481.73,577.57 1479.4,579.47 1480.17,582.38 1477.64,580.75 1475.12,582.38 1475.89,579.47 1473.56,577.57 1476.56,577.4" fill="#ff0000" stroke="#ff0000" stroke-width="2.5" stroke-linejoin="round"/><polygon points="1482.08,574.6 1483.16,577.4 1486.17,577.57 1483.83,579.47 1484.6,582.38 1482.08,580.75 1479.55,582.38 1480.32,579.47 1477.99,577.57 1480.99,577.4" fill="#ff0000" stroke="#ff0000" stroke-width="2.5" stroke-linejoin="round"/><polygon points="1486.51,574.6 1487.59,577.4 1490.6,577.57 1488.27,579.47 1489.03,582.38 1486.51,580.75 1483.98,582.38 1484.75,579.47 1482.42,577.57 1485.42,577.4" fill="#ff0000" stroke="#ff0000" stroke-width="2.5" stroke-linejoin="round"/><polygon points="1490.94,574.6 1492.02,577.4 1495.03,577.57 1492.7,579.47 1493.46,582.38 1490.94,580.75 1488.41,582.38 1489.18,579.47 1486.85,577.57 1489.85,577.4" fill="#ff0000" stroke="#ff0000" stroke-width="2.5" stroke-linejoin="round"/><polygon points="1495.37,574.6 1496.45,577.4 1499.46,577.57 1497.13,579.47 1497.89,582.38 1495.37,580.75 1492.84,582.38 1493.61,579.47 1491.28,577.57 1494.28,577.4" fill="#ff0000" stroke="#ff0000" stroke-width="2.5" stroke-linejoin="round"/><polygon points="1499.8,574.6 1500.88,577.4 1503.89,577.57 1501.56,579.47 1502.32,582.38 1499.8,580.75 1497.27,582.38 1498.04,579.47 1495.71,577.57 1498.71,577.4" fill="#ff0000" stroke="#ff0000" stroke-width="2.5" stroke-linejoin="round"/><polygon points="1504.23,574.6 1505.32,577.4 1508.32,577.57 1505.99,579.47 1506.76,582.38 1504.23,580.75 1501.7,582.38 1502.47,579.47 1500.14,577.57 1503.14,577.4" fill="#ff0000" stroke="#ff0000" stroke-width="2.5" stroke-linejoin="round"/><polygon points="1508.66,574.6 1509.75,577.4 1512.75,577.57 1510.42,579.47 1511.19,582.38 1508.66,580.75 1506.13,582.38 1506.9,579.47 1504.57,577.57 1507.57,577.4" fill="#ff0000" stroke="#ff0000" stroke-width="2.5" stroke-linejoin="round"/><polygon points="1513.09,574.6 1514.18,577.4 1517.18,577.57 1514.85,579.47 1515.62,582.38 1513.09,580.75 1510.56,582.38 1511.33,579.47 1509,577.57 1512,577.4" fill="#ff0000" stroke="#ff0000" stroke-width="2.5" stroke-linejoin="round"/><polygon points="1517.52,574.6 1518.61,577.4 1521.61,577.57 1519.28,579.47 1520.05,582.38 1517.52,580.75 1514.99,582.38 1515.76,579.47 1513.43,577.57 1516.43,577.4" fill="#ff0000" stroke="#ff0000" stroke-width="2.5" stroke-linejoin="round"/><polygon points="1521.95,574.6 1523.04,577.4 1526.04,577.57 1523.71,579.47 1524.48,582.38 1521.95,580.75 1519.42,582.38 1520.19,579.47 1517.86,577.57 1520.86,577.4" fill="#ff0000" stroke="#ff0000" stroke-width="2.5" stroke-linejoin="round"/><polygon points="1526.38,574.6 1527.47,577.4 1530.47,577.57 1528.14,579.47 1528.91,582.38 1526.38,580.75 1523.85,582.38 1524.62,579.47 1522.29,577.57 1525.29,577.4" fill="#ff0000" stroke="#ff0000" stroke-width="2.5" stroke-linejoin="round"/><polygon points="1530.81,574.6 1531.9,577.4 1534.9,577.57 1532.57,579.47 1533.34,582.38 1530.81,580.75 1528.28,582.38 1529.05,579.47 1526.72,577.57 1529.72,577.4" fill="#ff0000" stroke="#ff0000" stroke-width="2.5" stroke-linejoin="round"/><polygon points="1535.24,574.6 1536.33,577.4 1539.33,577.57 1537,579.47 1537.77,582.38 1535.24,580.75 1532.71,582.38 1533.48,579.47 1531.15,577.57 1534.15,577.4" fill="#ff0000" stroke="#ff0000" stroke-width="2.5" stroke-linejoin="round"/><polygon points="1539.67,574.6 1540.76,577.4 1543.76,577.57 1541.43,579.47 1542.2,582.38 1539.67,580.75 1537.14,582.38 1537.91,579.47 1535.58,577.57 1538.58,577.4" fill="#ff0000" stroke="#ff0000" stroke-width="2.5" stroke-linejoin="round"/><polygon points="1544.1,574.6 1545.19,577.4 1548.19,577.57 1545.86,579.47 1546.63,582.38 1544.1,580.75 1541.58,582.38 1542.34,579.47 1540.01,577.57 1543.02,577.4" fill="#ff0000" stroke="#ff0000" stroke-width="2.5" stroke-linejoin="round"/><polygon points="1548.53,574.6 1549.62,577.4 1552.62,577.57 1550.29,579.47 1551.06,582.38 1548.53,580.75 1546.01,582.38 1546.77,579.47 1544.44,577.57 1547.45,577.4" fill="#ff0000" stroke="#ff0000" stroke-width="2.5" stroke-linejoin="round"/><polygon points="1552.96,574.6 1554.05,577.4 1557.05,577.57 1554.72,579.47 1555.49,582.38 1552.96,580.75 1550.44,582.38 1551.2,579.47 1548.87,577.57 1551.88,577.4" fill="#ff0000" stroke="#ff0000" stroke-width="2.5" stroke-linejoin="round"/><polygon points="1557.39,574.6 1558.48,577.4 1561.48,577.57 1559.15,579.47 1559.92,582.38 1557.39,580.75 1554.87,582.38 1555.63,579.47 1553.3,577.57 1556.31,577.4" fill="#ff0000" stroke="#ff0000" stroke-width="2.5" stroke-linejoin="round"/><polygon points="1561.82,574.6 1562.91,577.4 1565.91,577.57 1563.58,579.47 1564.35,582.38 1561.82,580.75 1559.3,582.38 1560.07,579.47 1557.73,577.57 1560.74,577.4" fill="#ff0000" stroke="#ff0000" stroke-width="2.5" stroke-linejoin="round"/><polygon points="1566.25,574.6 1567.34,577.4 1570.34,577.57 1568.01,579.47 1568.78,582.38 1566.25,580.75 1563.73,582.38 1564.5,579.47 1562.17,577.57 1565.17,577.4" fill="#ff0000" stroke="#ff0000" stroke-width="2.5" stroke-linejoin="round"/><polygon points="1570.69,574.6 1571.77,577.4 1574.78,577.57 1572.44,579.47 1573.21,582.38 1570.69,580.75 1568.16,582.38 1568.93,579.47 1566.6,577.57 1569.6,577.4" fill="#ff0000" stroke="#ff0000" stroke-width="2.5" stroke-linejoin="round"/><polygon points="1575.12,574.6 1576.2,577.4 1579.21,577.57 1576.88,579.47 1577.64,582.38 1575.12,580.75 1572.59,582.38 1573.36,579.47 1571.03,577.57 1574.03,577.4" fill="#ff0000" stroke="#ff0000" stroke-width="2.5" stroke-linejoin="round"/><polygon points="1579.55,574.6 1580.63,577.4 1583.64,577.57 1581.31,579.47 1582.07,582.38 1579.55,580.75 1577.02,582.38 1577.79,579.47 1575.46,577.57 1578.46,577.4" fill="#ff0000" stroke="#ff0000" stroke-width="2.5" stroke-linejoin="round"/><polygon points="1583.98,574.6 1585.06,577.4 1588.07,577.57 1585.74,579.47 1586.5,582.38 1583.98,580.75 1581.45,582.38 1582.22,579.47 1579.89,577.57 1582.89,577.4" fill="#ff0000" stroke="#ff0000" stroke-width="2.5" stroke-linejoin="round"/><polygon points="1588.41,574.6 1589.49,577.4 1592.5,577.57 1590.17,579.47 1590.93,582.38 1588.41,580.75 1585.88,582.38 1586.65,579.47 1584.32,577.57 1587.32,577.4" fill="#ff0000" stroke="#ff0000" stroke-width="2.5" stroke-linejoin="round"/><polygon points="1592.84,574.6 1593.93,577.4 1596.93,577.57 1594.6,579.47 1595.37,582.38 1592.84,580.75 1590.31,582.38 1591.08,579.47 1588.75,577.57 1591.75,577.4" fill="#ff0000" stroke="#ff0000" stroke-width="2.5" stroke-linejoin="round"/><polygon points="1597.27,574.6 1598.36,577.4 1601.36,577.57 1599.03,579.47 1599.8,582.38 1597.27,580.75 1594.74,582.38 1595.51,579.47 1593.18,577.57 1596.18,577.4" fill="#ff0000" stroke="#ff0000" stroke-width="2.5" stroke-linejoin="round"/><polygon points="1601.7,574.6 1602.79,577.4 1605.79,577.57 1603.46,579.47 1604.23,582.38 1601.7,580.75 1599.17,582.38 1599.94,579.47 1597.61,577.57 1600.61,577.4" fill="#ff0000" stroke="#ff0000" stroke-width="2.5" stroke-linejoin="round"/><polygon points="1606.13,574.6 1607.22,577.4 1610.22,577.57 1607.89,579.47 1608.66,582.38 1606.13,580.75 1603.6,582.38 1604.37,579.47 1602.04,577.57 1605.04,577.4" fill="#ff0000" stroke="#ff0000" stroke-width="2.5" stroke-linejoin="round"/><polygon points="1610.56,574.6 1611.65,577.4 1614.65,577.57 1612.32,579.47 1613.09,582.38 1610.56,580.75 1608.03,582.38 1608.8,579.47 1606.47,577.57 1609.47,577.4" fill="#ff0000" stroke="#ff0000" stroke-width="2.5" stroke-linejoin="round"/><polygon points="1614.99,574.6 1616.08,577.4 1619.08,577.57 1616.75,579.47 1617.52,582.38 1614.99,580.75 1612.46,582.38 1613.23,579.47 1610.9,577.57 1613.9,577.4" fill="#ff0000" stroke="#ff0000" stroke-width="2.5" stroke-linejoin="round"/><polygon points="1619.42,574.6 1620.51,577.4 1623.51,577.57 1621.18,579.47 1621.95,582.38 1619.42,580.75 1616.89,582.38 1617.66,579.47 1615.33,577.57 1618.33,577.4" fill="#ff0000" stroke="#ff0000" stroke-width="2.5" stroke-linejoin="round"/><polygon points="1623.85,574.6 1624.94,577.4 1627.94,577.57 1625.61,579.47 1626.38,582.38 1623.85,580.75 1621.32,582.38 1622.09,579.47 1619.76,577.57 1622.76,577.4" fill="#ff0000" stroke="#ff0000" stroke-width="2.5" stroke-linejoin="round"/><polygon points="1628.28,574.6 1629.37,577.4 1632.37,577.57 1630.04,579.47 1630.81,582.38 1628.28,580.75 1625.75,582.38 1626.52,579.47 1624.19,577.57 1627.19,577.4" fill="#ff0000" stroke="#ff0000" stroke-width="2.5" stroke-linejoin="round"/><polygon points="1632.71,574.6 1633.8,577.4 1636.8,577.57 1634.47,579.47 1635.24,582.38 1632.71,580.75 1630.19,582.38 1630.95,579.47 1628.62,577.57 1631.63,577.4" fill="#ff0000" stroke="#ff0000" stroke-width="2.5" stroke-linejoin="round"/><polygon points="1637.14,574.6 1638.23,577.4 1641.23,577.57 1638.9,579.47 1639.67,582.38 1637.14,580.75 1634.62,582.38 1635.38,579.47 1633.05,577.57 1636.06,577.4" fill="#ff0000" stroke="#ff0000" stroke-width="2.5" stroke-linejoin="round"/><polygon points="1641.57,574.6 1642.66,577.4 1645.66,577.57 1643.33,579.47 1644.1,582.38 1641.57,580.75 1639.05,582.38 1639.81,579.47 1637.48,577.57 1640.49,577.4" fill="#ff0000" stroke="#ff0000" stroke-width="2.5" stroke-linejoin="round"/><polygon points="1646,574.6 1647.09,577.4 1650.09,577.57 1647.76,579.47 1648.53,582.38 1646,580.75 1643.48,582.38 1644.24,579.47 1641.91,577.57 1644.92,577.4" fill="#ff0000" stroke="#ff0000" stroke-width="2.5" stroke-linejoin="round"/><polygon points="1650.43,574.6 1651.52,577.4 1654.52,577.57 1652.19,579.47 1652.96,582.38 1650.43,580.75 1647.91,582.38 1648.68,579.47 1646.34,577.57 1649.35,577.4" fill="#ff0000" stroke="#ff0000" stroke-width="2.5" stroke-linejoin="round"/><polygon points="1654.87,574.6 1655.95,577.4 1658.95,577.57 1656.62,579.47 1657.39,582.38 1654.87,580.75 1652.34,582.38 1653.11,579.47 1650.78,577.57 1653.78,577.4" fill="#ff0000" stroke="#ff0000" stroke-width="2.5" stroke-linejoin="round"/><polygon points="1659.3,574.6 1660.38,577.4 1663.39,577.57 1661.05,579.47 1661.82,582.38 1659.3,580.75 1656.77,582.38 1657.54,579.47 1655.21,577.57 1658.21,577.4" fill="#ff0000" stroke="#ff0000" stroke-width="2.5" stroke-linejoin="round"/><polygon points="1663.73,574.6 1664.81,577.4 1667.82,577.57 1665.49,579.47 1666.25,582.38 1663.73,580.75 1661.2,582.38 1661.97,579.47 1659.64,577.57 1662.64,577.4" fill="#ff0000" stroke="#ff0000" stroke-width="2.5" stroke-linejoin="round"/><polygon points="1668.16,574.6 1669.24,577.4 1672.25,577.57 1669.92,579.47 1670.68,582.38 1668.16,580.75 1665.63,582.38 1666.4,579.47 1664.07,577.57 1667.07,577.4" fill="#ff0000" stroke="#ff0000" stroke-width="2.5" stroke-linejoin="round"/><polygon points="1672.59,574.6 1673.67,577.4 1676.68,577.57 1674.35,579.47 1675.11,582.38 1672.59,580.75 1670.06,582.38 1670.83,579.47 1668.5,577.57 1671.5,577.4" fill="#ff0000" stroke="#ff0000" stroke-width="2.5" stroke-linejoin="round"/><polygon points="1677.02,574.6 1678.1,577.4 1681.11,577.57 1678.78,579.47 1679.54,582.38 1677.02,580.75 1674.49,582.38 1675.26,579.47 1672.93,577.57 1675.93,577.4" fill="#ff0000" stroke="#ff0000" stroke-width="2.5" stroke-linejoin="round"/><polygon points="1681.45,574.6 1682.54,577.4 1685.54,577.57 1683.21,579.47 1683.98,582.38 1681.45,580.75 1678.92,582.38 1679.69,579.47 1677.36,577.57 1680.36,577.4" fill="#ff0000" stroke="#ff0000" stroke-width="2.5" stroke-linejoin="round"/><polygon points="1685.88,574.6 1686.97,577.4 1689.97,577.57 1687.64,579.47 1688.41,582.38 1685.88,580.75 1683.35,582.38 1684.12,579.47 1681.79,577.57 1684.79,577.4" fill="#ff0000" stroke="#ff0000" stroke-width="2.5" stroke-linejoin="round"/><polygon points="1690.31,574.6 1691.4,577.4 1694.4,577.57 1692.07,579.47 1692.84,582.38 1690.31,580.75 1687.78,582.38 1688.55,579.47 1686.22,577.57 1689.22,577.4" fill="#ff0000" stroke="#ff0000" stroke-width="2.5" stroke-linejoin="round"/><polygon points="1694.74,574.6 1695.83,577.4 1698.83,577.57 1696.5,579.47 1697.27,582.38 1694.74,580.75 1692.21,582.38 1692.98,579.47 1690.65,577.57 1693.65,577.4" fill="#ff0000" stroke="#ff0000" stroke-width="2.5" stroke-linejoin="round"/><polygon points="1699.17,574.6 1700.26,577.4 1703.26,577.57 1700.93,579.47 1701.7,582.38 1699.17,580.75 1696.64,582.38 1697.41,579.47 1695.08,577.57 1698.08,577.4" fill="#ff0000" stroke="#ff0000" stroke-width="2.5" stroke-linejoin="round"/><polygon points="1703.6,574.6 1704.69,577.4 1707.69,577.57 1705.36,579.47 1706.13,582.38 1703.6,580.75 1701.07,582.38 1701.84,579.47 1699.51,577.57 1702.51,577.4" fill="#ff0000" stroke="#ff0000" stroke-width="2.5" stroke-linejoin="round"/><polygon points="1708.03,574.6 1709.12,577.4 1712.12,577.57 1709.79,579.47 1710.56,582.38 1708.03,580.75 1705.5,582.38 1706.27,579.47 1703.94,577.57 1706.94,577.4" fill="#ff0000" stroke="#ff0000" stroke-width="2.5" stroke-linejoin="round"/><polygon points="1712.46,574.6 1713.55,577.4 1716.55,577.57 1714.22,579.47 1714.99,582.38 1712.46,580.75 1709.93,582.38 1710.7,579.47 1708.37,577.57 1711.37,577.4" fill="#ff0000" stroke="#ff0000" stroke-width="2.5" stroke-linejoin="round"/><polygon points="1716.89,574.6 1717.98,577.4 1720.98,577.57 1718.65,579.47 1719.42,582.38 1716.89,580.75 1714.36,582.38 1715.13,579.47 1712.8,577.57 1715.8,577.4" fill="#ff0000" stroke="#ff0000" stroke-width="2.5" stroke-linejoin="round"/><polygon points="1721.32,574.6 1722.41,577.4 1725.41,577.57 1723.08,579.47 1723.85,582.38 1721.32,580.75 1718.8,582.38 1719.56,579.47 1717.23,577.57 1720.24,577.4" fill="#ff0000" stroke="#ff0000" stroke-width="2.5" stroke-linejoin="round"/><polygon points="1725.75,574.6 1726.84,577.4 1729.84,577.57 1727.51,579.47 1728.28,582.38 1725.75,580.75 1723.23,582.38 1723.99,579.47 1721.66,577.57 1724.67,577.4" fill="#ff0000" stroke="#ff0000" stroke-width="2.5" stroke-linejoin="round"/><polygon points="1730.18,574.6 1731.27,577.4 1734.27,577.57 1731.94,579.47 1732.71,582.38 1730.18,580.75 1727.66,582.38 1728.42,579.47 1726.09,577.57 1729.1,577.4" fill="#ff0000" stroke="#ff0000" stroke-width="2.5" stroke-linejoin="round"/><polygon points="1734.61,574.6 1735.7,577.4 1738.7,577.57 1736.37,579.47 1737.14,582.38 1734.61,580.75 1732.09,582.38 1732.85,579.47 1730.52,577.57 1733.53,577.4" fill="#ff0000" stroke="#ff0000" stroke-width="2.5" stroke-linejoin="round"/><polygon points="1739.04,574.6 1740.13,577.4 1743.13,577.57 1740.8,579.47 1741.57,582.38 1739.04,580.75 1736.52,582.38 1737.29,579.47 1734.95,577.57 1737.96,577.4" fill="#ff0000" stroke="#ff0000" stroke-width="2.5" stroke-linejoin="round"/><polygon points="1743.48,574.6 1744.56,577.4 1747.56,577.57 1745.23,579.47 1746,582.38 1743.48,580.75 1740.95,582.38 1741.72,579.47 1739.39,577.57 1742.39,577.4" fill="#ff0000" stroke="#ff0000" stroke-width="2.5" stroke-linejoin="round"/><polygon points="1747.91,574.6 1748.99,577.4 1752,577.57 1749.66,579.47 1750.43,582.38 1747.91,580.75 1745.38,582.38 1746.15,579.47 1743.82,577.57 1746.82,577.4" fill="#ff0000" stroke="#ff0000" stroke-width="2.5" stroke-linejoin="round"/><polygon points="1752.34,574.6 1753.42,577.4 1756.43,577.57 1754.1,579.47 1754.86,582.38 1752.34,580.75 1749.81,582.38 1750.58,579.47 1748.25,577.57 1751.25,577.4" fill="#ff0000" stroke="#ff0000" stroke-width="2.5" stroke-linejoin="round"/><polygon points="1756.77,574.6 1757.85,577.4 1760.86,577.57 1758.53,579.47 1759.29,582.38 1756.77,580.75 1754.24,582.38 1755.01,579.47 1752.68,577.57 1755.68,577.4" fill="#ff0000" stroke="#ff0000" stroke-width="2.5" stroke-linejoin="round"/><polygon points="1761.2,574.6 1762.28,577.4 1765.29,577.57 1762.96,579.47 1763.72,582.38 1761.2,580.75 1758.67,582.38 1759.44,579.47 1757.11,577.57 1760.11,577.4" fill="#ff0000" stroke="#ff0000" stroke-width="2.5" stroke-linejoin="round"/><polygon points="1765.63,574.6 1766.71,577.4 1769.72,577.57 1767.39,579.47 1768.15,582.38 1765.63,580.75 1763.1,582.38 1763.87,579.47 1761.54,577.57 1764.54,577.4" fill="#ff0000" stroke="#ff0000" stroke-width="2.5" stroke-linejoin="round"/><polygon points="1770.06,574.6 1771.15,577.4 1774.15,577.57 1771.82,579.47 1772.59,582.38 1770.06,580.75 1767.53,582.38 1768.3,579.47 1765.97,577.57 1768.97,577.4" fill="#ff0000" stroke="#ff0000" stroke-width="2.5" stroke-linejoin="round"/><polygon points="1774.49,574.6 1775.58,577.4 1778.58,577.57 1776.25,579.47 1777.02,582.38 1774.49,580.75 1771.96,582.38 1772.73,579.47 1770.4,577.57 1773.4,577.4" fill="#ff0000" stroke="#ff0000" stroke-width="2.5" stroke-linejoin="round"/><polygon points="1778.92,574.6 1780.01,577.4 1783.01,577.57 1780.68,579.47 1781.45,582.38 1778.92,580.75 1776.39,582.38 1777.16,579.47 1774.83,577.57 1777.83,577.4" fill="#ff0000" stroke="#ff0000" stroke-width="2.5" stroke-linejoin="round"/><polygon points="1783.35,574.6 1784.44,577.4 1787.44,577.57 1785.11,579.47 1785.88,582.38 1783.35,580.75 1780.82,582.38 1781.59,579.47 1779.26,577.57 1782.26,577.4" fill="#ff0000" stroke="#ff0000" stroke-width="2.5" stroke-linejoin="round"/><polygon points="1787.78,574.6 1788.87,577.4 1791.87,577.57 1789.54,579.47 1790.31,582.38 1787.78,580.75 1785.25,582.38 1786.02,579.47 1783.69,577.57 1786.69,577.4" fill="#ff0000" stroke="#ff0000" stroke-width="2.5" stroke-linejoin="round"/><polygon points="1792.21,574.6 1793.3,577.4 1796.3,577.57 1793.97,579.47 1794.74,582.38 1792.21,580.75 1789.68,582.38 1790.45,579.47 1788.12,577.57 1791.12,577.4" fill="#ff0000" stroke="#ff0000" stroke-width="2.5" stroke-linejoin="round"/><polygon points="1796.64,574.6 1797.73,577.4 1800.73,577.57 1798.4,579.47 1799.17,582.38 1796.64,580.75 1794.11,582.38 1794.88,579.47 1792.55,577.57 1795.55,577.4" fill="#ff0000" stroke="#ff0000" stroke-width="2.5" stroke-linejoin="round"/><polygon points="1801.07,574.6 1802.16,577.4 1805.16,577.57 1802.83,579.47 1803.6,582.38 1801.07,580.75 1798.54,582.38 1799.31,579.47 1796.98,577.57 1799.98,577.4" fill="#ff0000" stroke="#ff0000" stroke-width="2.5" stroke-linejoin="round"/><polygon points="1805.5,574.6 1806.59,577.4 1809.59,577.57 1807.26,579.47 1808.03,582.38 1805.5,580.75 1802.97,582.38 1803.74,579.47 1801.41,577.57 1804.41,577.4" fill="#ff0000" stroke="#ff0000" stroke-width="2.5" stroke-linejoin="round"/><polygon points="1809.93,574.6 1811.02,577.4 1814.02,577.57 1811.69,579.47 1812.46,582.38 1809.93,580.75 1807.41,582.38 1808.17,579.47 1805.84,577.57 1808.85,577.4" fill="#ff0000" stroke="#ff0000" stroke-width="2.5" stroke-linejoin="round"/><polygon points="1814.36,574.6 1815.45,577.4 1818.45,577.57 1816.12,579.47 1816.89,582.38 1814.36,580.75 1811.84,582.38 1812.6,579.47 1810.27,577.57 1813.28,577.4" fill="#ff0000" stroke="#ff0000" stroke-width="2.5" stroke-linejoin="round"/><polygon points="1818.79,574.6 1819.88,577.4 1822.88,577.57 1820.55,579.47 1821.32,582.38 1818.79,580.75 1816.27,582.38 1817.03,579.47 1814.7,577.57 1817.71,577.4" fill="#ff0000" stroke="#ff0000" stroke-width="2.5" stroke-linejoin="round"/><polygon points="1823.22,574.6 1824.31,577.4 1827.31,577.57 1824.98,579.47 1825.75,582.38 1823.22,580.75 1820.7,582.38 1821.46,579.47 1819.13,577.57 1822.14,577.4" fill="#ff0000" stroke="#ff0000" stroke-width="2.5" stroke-linejoin="round"/><polygon points="1827.65,574.6 1828.74,577.4 1831.74,577.57 1829.41,579.47 1830.18,582.38 1827.65,580.75 1825.13,582.38 1825.9,579.47 1823.56,577.57 1826.57,577.4" fill="#ff0000" stroke="#ff0000" stroke-width="2.5" stroke-linejoin="round"/><polygon points="1832.09,574.6 1833.17,577.4 1836.17,577.57 1833.84,579.47 1834.61,582.38 1832.09,580.75 1829.56,582.38 1830.33,579.47 1828,577.57 1831,577.4" fill="#ff0000" stroke="#ff0000" stroke-width="2.5" stroke-linejoin="round"/><polygon points="1836.52,574.6 1837.6,577.4 1840.61,577.57 1838.27,579.47 1839.04,582.38 1836.52,580.75 1833.99,582.38 1834.76,579.47 1832.43,577.57 1835.43,577.4" fill="#ff0000" stroke="#ff0000" stroke-width="2.5" stroke-linejoin="round"/><polygon points="1840.95,574.6 1842.03,577.4 1845.04,577.57 1842.71,579.47 1843.47,582.38 1840.95,580.75 1838.42,582.38 1839.19,579.47 1836.86,577.57 1839.86,577.4" fill="#ff0000" stroke="#ff0000" stroke-width="2.5" stroke-linejoin="round"/><polygon points="1845.38,574.6 1846.46,577.4 1849.47,577.57 1847.14,579.47 1847.9,582.38 1845.38,580.75 1842.85,582.38 1843.62,579.47 1841.29,577.57 1844.29,577.4" fill="#ff0000" stroke="#ff0000" stroke-width="2.5" stroke-linejoin="round"/><polygon points="1849.81,574.6 1850.89,577.4 1853.9,577.57 1851.57,579.47 1852.33,582.38 1849.81,580.75 1847.28,582.38 1848.05,579.47 1845.72,577.57 1848.72,577.4" fill="#ff0000" stroke="#ff0000" stroke-width="2.5" stroke-linejoin="round"/><polygon points="1854.24,574.6 1855.32,577.4 1858.33,577.57 1856,579.47 1856.76,582.38 1854.24,580.75 1851.71,582.38 1852.48,579.47 1850.15,577.57 1853.15,577.4" fill="#ff0000" stroke="#ff0000" stroke-width="2.5" stroke-linejoin="round"/><polygon points="1858.67,574.6 1859.76,577.4 1862.76,577.57 1860.43,579.47 1861.2,582.38 1858.67,580.75 1856.14,582.38 1856.91,579.47 1854.58,577.57 1857.58,577.4" fill="#ff0000" stroke="#ff0000" stroke-width="2.5" stroke-linejoin="round"/><polygon points="1863.1,574.6 1864.19,577.4 1867.19,577.57 1864.86,579.47 1865.63,582.38 1863.1,580.75 1860.57,582.38 1861.34,579.47 1859.01,577.57 1862.01,577.4" fill="#ff0000" stroke="#ff0000" stroke-width="2.5" stroke-linejoin="round"/><polygon points="1867.53,574.6 1868.62,577.4 1871.62,577.57 1869.29,579.47 1870.06,582.38 1867.53,580.75 1865,582.38 1865.77,579.47 1863.44,577.57 1866.44,577.4" fill="#ff0000" stroke="#ff0000" stroke-width="2.5" stroke-linejoin="round"/><polygon points="1871.96,574.6 1873.05,577.4 1876.05,577.57 1873.72,579.47 1874.49,582.38 1871.96,580.75 1869.43,582.38 1870.2,579.47 1867.87,577.57 1870.87,577.4" fill="#ff0000" stroke="#ff0000" stroke-width="2.5" stroke-linejoin="round"/><polygon points="1876.39,574.6 1877.48,577.4 1880.48,577.57 1878.15,579.47 1878.92,582.38 1876.39,580.75 1873.86,582.38 1874.63,579.47 1872.3,577.57 1875.3,577.4" fill="#ff0000" stroke="#ff0000" stroke-width="2.5" stroke-linejoin="round"/><polygon points="1880.82,574.6 1881.91,577.4 1884.91,577.57 1882.58,579.47 1883.35,582.38 1880.82,580.75 1878.29,582.38 1879.06,579.47 1876.73,577.57 1879.73,577.4" fill="#ff0000" stroke="#ff0000" stroke-width="2.5" stroke-linejoin="round"/><polygon points="1885.25,574.6 1886.34,577.4 1889.34,577.57 1887.01,579.47 1887.78,582.38 1885.25,580.75 1882.72,582.38 1883.49,579.47 1881.16,577.57 1884.16,577.4" fill="#ff0000" stroke="#ff0000" stroke-width="2.5" stroke-linejoin="round"/><polygon points="1889.68,574.6 1890.77,577.4 1893.77,577.57 1891.44,579.47 1892.21,582.38 1889.68,580.75 1887.15,582.38 1887.92,579.47 1885.59,577.57 1888.59,577.4" fill="#ff0000" stroke="#ff0000" stroke-width="2.5" stroke-linejoin="round"/><polygon points="1894.11,574.6 1895.2,577.4 1898.2,577.57 1895.87,579.47 1896.64,582.38 1894.11,580.75 1891.58,582.38 1892.35,579.47 1890.02,577.57 1893.02,577.4" fill="#ff0000" stroke="#ff0000" stroke-width="2.5" stroke-linejoin="round"/><polygon points="1898.54,574.6 1899.63,577.4 1902.63,577.57 1900.3,579.47 1901.07,582.38 1898.54,580.75 1896.02,582.38 1896.78,579.47 1894.45,577.57 1897.46,577.4" fill="#ff0000" stroke="#ff0000" stroke-width="2.5" stroke-linejoin="round"/><polygon points="1902.97,574.6 1904.06,577.4 1907.06,577.57 1904.73,579.47 1905.5,582.38 1902.97,580.75 1900.45,582.38 1901.21,579.47 1898.88,577.57 1901.89,577.4" fill="#ff0000" stroke="#ff0000" stroke-width="2.5" stroke-linejoin="round"/><polygon points="1907.4,574.6 1908.49,577.4 1911.49,577.57 1909.16,579.47 1909.93,582.38 1907.4,580.75 1904.88,582.38 1905.64,579.47 1903.31,577.57 1906.32,577.4" fill="#ff0000" stroke="#ff0000" stroke-width="2.5" stroke-linejoin="round"/><polygon points="1911.83,574.6 1912.92,577.4 1915.92,577.57 1913.59,579.47 1914.36,582.38 1911.83,580.75 1909.31,582.38 1910.07,579.47 1907.74,577.57 1910.75,577.4" fill="#ff0000" stroke="#ff0000" stroke-width="2.5" stroke-linejoin="round"/><polygon points="1916.26,574.6 1917.35,577.4 1920.35,577.57 1918.02,579.47 1918.79,582.38 1916.26,580.75 1913.74,582.38 1914.51,579.47 1912.17,577.57 1915.18,577.4" fill="#ff0000" stroke="#ff0000" stroke-width="2.5" stroke-linejoin="round"/><polygon points="1920.69,574.6 1921.78,577.4 1924.78,577.57 1922.45,579.47 1923.22,582.38 1920.69,580.75 1918.17,582.38 1918.94,579.47 1916.61,577.57 1919.61,577.4" fill="#ff0000" stroke="#ff0000" stroke-width="2.5" stroke-linejoin="round"/><polygon points="1925.13,574.6 1926.21,577.4 1929.22,577.57 1926.88,579.47 1927.65,582.38 1925.13,580.75 1922.6,582.38 1923.37,579.47 1921.04,577.57 1924.04,577.4" fill="#ff0000" stroke="#ff0000" stroke-width="2.5" stroke-linejoin="round"/><polygon points="1929.56,574.6 1930.64,577.4 1933.65,577.57 1931.32,579.47 1932.08,582.38 1929.56,580.75 1927.03,582.38 1927.8,579.47 1925.47,577.57 1928.47,577.4" fill="#ff0000" stroke="#ff0000" stroke-width="2.5" stroke-linejoin="round"/><polygon points="1933.99,574.6 1935.07,577.4 1938.08,577.57 1935.75,579.47 1936.51,582.38 1933.99,580.75 1931.46,582.38 1932.23,579.47 1929.9,577.57 1932.9,577.4" fill="#ff0000" stroke="#ff0000" stroke-width="2.5" stroke-linejoin="round"/><polygon points="1938.42,574.6 1939.5,577.4 1942.51,577.57 1940.18,579.47 1940.94,582.38 1938.42,580.75 1935.89,582.38 1936.66,579.47 1934.33,577.57 1937.33,577.4" fill="#ff0000" stroke="#ff0000" stroke-width="2.5" stroke-linejoin="round"/><polygon points="1942.85,574.6 1943.93,577.4 1946.94,577.57 1944.61,579.47 1945.37,582.38 1942.85,580.75 1940.32,582.38 1941.09,579.47 1938.76,577.57 1941.76,577.4" fill="#ff0000" stroke="#ff0000" stroke-width="2.5" stroke-linejoin="round"/><polygon points="1947.28,574.6 1948.37,577.4 1951.37,577.57 1949.04,579.47 1949.81,582.38 1947.28,580.75 1944.75,582.38 1945.52,579.47 1943.19,577.57 1946.19,577.4" fill="#ff0000" stroke="#ff0000" stroke-width="2.5" stroke-linejoin="round"/><polygon points="1951.71,574.6 1952.8,577.4 1955.8,577.57 1953.47,579.47 1954.24,582.38 1951.71,580.75 1949.18,582.38 1949.95,579.47 1947.62,577.57 1950.62,577.4" fill="#ff0000" stroke="#ff0000" stroke-width="2.5" stroke-linejoin="round"/><polygon points="1956.14,574.6 1957.23,577.4 1960.23,577.57 1957.9,579.47 1958.67,582.38 1956.14,580.75 1953.61,582.38 1954.38,579.47 1952.05,577.57 1955.05,577.4" fill="#ff0000" stroke="#ff0000" stroke-width="2.5" stroke-linejoin="round"/><polygon points="1960.57,574.6 1961.66,577.4 1964.66,577.57 1962.33,579.47 1963.1,582.38 1960.57,580.75 1958.04,582.38 1958.81,579.47 1956.48,577.57 1959.48,577.4" fill="#ff0000" stroke="#ff0000" stroke-width="2.5" stroke-linejoin="round"/><polygon points="1965,574.6 1966.09,577.4 1969.09,577.57 1966.76,579.47 1967.53,582.38 1965,580.75 1962.47,582.38 1963.24,579.47 1960.91,577.57 1963.91,577.4" fill="#ff0000" stroke="#ff0000" stroke-width="2.5" stroke-linejoin="round"/></g>
<g><polygon points="1078.9,48.5 1072.2,61.5 1085.6,61.5" fill="#0000ff"/><polygon points="1083.33,48.5 1076.63,61.5 1090.03,61.5" fill="#0000ff"/><polygon points="1087.76,48.5 1081.06,61.5 1094.46,61.5" fill="#0000ff"/><polygon points="1092.19,48.5 1085.49,61.5 1098.89,61.5" fill="#0000ff"/><polygon points="1096.62,48.5 1089.92,61.5 1103.32,61.5" fill="#0000ff"/><polygon points="1101.05,48.5 1094.35,61.5 1107.75,61.5" fill="#0000ff"/><polygon points="1105.48,48.5 1098.78,61.5 1112.18,61.5" fill="#0000ff"/><polygon points="1109.91,48.5 1103.21,61.5 1116.61,61.5" fill="#0000ff"/><polygon points="1114.34,48.5 1107.64,61.5 1121.04,61.5" fill="#0000ff"/><polygon points="1118.77,48.5 1112.07,61.5 1125.47,61.5" fill="#0000ff"/><polygon points="1123.21,48.5 1116.51,61.5 1129.91,61.5" fill="#0000ff"/><polygon points="1127.64,48.5 1120.94,61.5 1134.34,61.5" fill="#0000ff"/><polygon points="1132.07,48.5 1125.37,61.5 1138.77,61.5" fill="#0000ff"/><polygon points="1136.5,48.5 1129.8,61.5 1143.2,61.5" fill="#0000ff"/><polygon points="1140.93,48.5 1134.23,61.5 1147.63,61.5" fill="#0000ff"/><polygon points="1145.36,48.5 1138.66,61.5 1152.06,61.5" fill="#0000ff"/><polygon points="1149.79,48.5 1143.09,61.5 1156.49,61.5" fill="#0000ff"/><polygon points="1154.22,48.5 1147.52,61.5 1160.92,61.5" fill="#0000ff"/><polygon points="1158.65,48.5 1151.95,61.5 1165.35,61.5" fill="#0000ff"/><polygon points="1163.08,48.5 1156.38,61.5 1169.78,61.5" fill="#0000ff"/><polygon points="1167.51,48.5 1160.81,61.5 1174.21,61.5" fill="#0000ff"/><polygon points="1171.94,48.5 1165.24,61.5 1178.64,61.5" fill="#0000ff"/><polygon points="1176.37,48.5 1169.67,61.5 1183.07,61.5" fill="#0000ff"/><polygon points="1180.8,48.5 1174.1,61.5 1187.5,61.5" fill="#0000ff"/><polygon points="1185.23,48.5 1178.53,61.5 1191.93,61.5" fill="#0000ff"/><polygon points="1189.66,48.5 1182.96,61.5 1196.36,61.5" fill="#0000ff"/><polygon points="1194.09,48.5 1187.39,61.5 1200.79,61.5" fill="#0000ff"/><polygon points="1198.52,48.5 1191.82,61.5 1205.22,61.5" fill="#0000ff"/><polygon points="1202.95,48.5 1196.25,61.5 1209.65,61.5" fill="#0000ff"/><polygon points="1207.38,48.51 1200.68,61.51 1214.08,61.51" fill="#0000ff"/><polygon points="1211.82,48.52 1205.12,61.52 1218.52,61.52" fill="#0000ff"/><polygon points="1216.25,48.54 1209.55,61.54 1222.95,61.54" fill="#0000ff"/><polygon points="1220.68,48.57 1213.98,61.57 1227.38,61.57" fill="#0000ff"/><polygon points="1225.11,48.6 1218.41,61.6 1231.81,61.6" fill="#0000ff"/><polygon points="1229.54,48.64 1222.84,61.64 1236.24,61.64" fill="#0000ff"/><polygon points="1233.97,48.69 1227.27,61.69 1240.67,61.69" fill="#0000ff"/><polygon points="1238.4,48.74 1231.7,61.74 1245.1,61.74" fill="#0000ff"/><polygon points="1242.83,48.79 1236.13,61.79 1249.53,61.79" fill="#0000ff"/><polygon points="1247.26,48.85 1240.56,61.85 1253.96,61.85" fill="#0000ff"/><polygon points="1251.69,48.91 1244.99,61.91 1258.39,61.91" fill="#0000ff"/><polygon points="1256.12,48.98 1249.42,61.98 1262.82,61.98" fill="#0000ff"/><polygon points="1260.55,49.05 1253.85,62.05 1267.25,62.05" fill="#0000ff"/><polygon points="1264.98,49.13 1258.28,62.13 1271.68,62.13" fill="#0000ff"/><polygon points="1269.41,49.2 1262.71,62.2 1276.11,62.2" fill="#0000ff"/><polygon points="1273.84,49.29 1267.14,62.29 1280.54,62.29" fill="#0000ff"/><polygon points="1278.27,49.37 1271.57,62.37 1284.97,62.37" fill="#0000ff"/><polygon points="1282.7,49.47 1276,62.47 1289.4,62.47" fill="#0000ff"/><polygon points="1287.13,49.61 1280.43,62.61 1293.83,62.61" fill="#0000ff"/><polygon points="1291.56,49.78 1284.86,62.78 1298.26,62.78" fill="#0000ff"/><polygon points="1295.99,49.99 1289.29,62.99 1302.69,62.99" fill="#0000ff"/><polygon points="1300.43,50.22 1293.73,63.22 1307.13,63.22" fill="#0000ff"/><polygon points="1304.86,50.5 1298.16,63.5 1311.56,63.5" fill="#0000ff"/><polygon points="1309.29,50.84 1302.59,63.84 1315.99,63.84" fill="#0000ff"/><polygon points="1313.72,51.22 1307.02,64.22 1320.42,64.22" fill="#0000ff"/><polygon points="1318.15,51.66 1311.45,64.66 1324.85,64.66" fill="#0000ff"/><polygon points="1322.58,52.15 1315.88,65.15 1329.28,65.15" fill="#0000ff"/><polygon points="1327.01,52.69 1320.31,65.69 1333.71,65.69" fill="#0000ff"/><polygon points="1331.44,53.28 1324.74,66.28 1338.14,66.28" fill="#0000ff"/><polygon points="1335.87,53.91 1329.17,66.91 1342.57,66.91" fill="#0000ff"/><polygon points="1340.3,54.59 1333.6,67.59 1347,67.59" fill="#0000ff"/><polygon points="1344.73,55.31 1338.03,68.31 1351.43,68.31" fill="#0000ff"/><polygon points="1349.16,56.1 1342.46,69.1 1355.86,69.1" fill="#0000ff"/><polygon points="1353.59,57.05 1346.89,70.05 1360.29,70.05" fill="#0000ff"/><polygon points="1358.02,58.18 1351.32,71.18 1364.72,71.18" fill="#0000ff"/><polygon points="1362.45,59.46 1355.75,72.46 1369.15,72.46" fill="#0000ff"/><polygon points="1366.88,60.87 1360.18,73.87 1373.58,73.87" fill="#0000ff"/><polygon points="1371.31,62.41 1364.61,75.41 1378.01,75.41" fill="#0000ff"/><polygon points="1375.74,64.04 1369.04,77.04 1382.44,77.04" fill="#0000ff"/><polygon points="1380.17,65.77 1373.47,78.77 1386.87,78.77" fill="#0000ff"/><polygon points="1384.6,67.73 1377.9,80.73 1391.3,80.73" fill="#0000ff"/><polygon points="1389.04,70.03 1382.34,83.03 1395.74,83.03" fill="#0000ff"/><polygon points="1393.47,72.71 1386.77,85.71 1400.17,85.71" fill="#0000ff"/><polygon points="1397.9,76.24 1391.2,89.24 1404.6,89.24" fill="#0000ff"/><polygon points="1402.33,81 1395.63,94 1409.03,94" fill="#0000ff"/><polygon points="1406.76,85.41 1400.06,98.41 1413.46,98.41" fill="#0000ff"/><polygon points="1411.19,91.39 1404.49,104.39 1417.89,104.39" fill="#0000ff"/><polygon points="1415.62,96.91 1408.92,109.91 1422.32,109.91" fill="#0000ff"/><polygon points="1420.05,103.1 1413.35,116.1 1426.75,116.1" fill="#0000ff"/><polygon points="1424.48,110.56 1417.78,123.56 1431.18,123.56" fill="#0000ff"/><polygon points="1428.91,119.31 1422.21,132.31 1435.61,132.31" fill="#0000ff"/><polygon points="1433.34,128.13 1426.64,141.13 1440.04,141.13" fill="#0000ff"/><polygon points="1437.77,137.85 1431.07,150.85 1444.47,150.85" fill="#0000ff"/><polygon points="1442.2,149.1 1435.5,162.1 1448.9,162.1" fill="#0000ff"/><polygon points="1446.63,161.62 1439.93,174.62 1453.33,174.62" fill="#0000ff"/><polygon points="1451.06,174.24 1444.36,187.24 1457.76,187.24" fill="#0000ff"/><polygon points="1455.49,189.73 1448.79,202.73 1462.19,202.73" fill="#0000ff"/><polygon points="1459.92,206.97 1453.22,219.97 1466.62,219.97" fill="#0000ff"/><polygon points="1464.35,225.81 1457.65,238.81 1471.05,238.81" fill="#0000ff"/><polygon points="1468.78,249.02 1462.08,262.02 1475.48,262.02" fill="#0000ff"/><polygon points="1473.21,270.26 1466.51,283.26 1479.91,283.26" fill="#0000ff"/><polygon points="1477.64,295.07 1470.94,308.07 1484.35,308.07" fill="#0000ff"/><polygon points="1482.08,323.09 1475.38,336.09 1488.78,336.09" fill="#0000ff"/><polygon points="1486.51,350.01 1479.81,363.01 1493.21,363.01" fill="#0000ff"/><polygon points="1490.94,378.71 1484.24,391.71 1497.64,391.71" fill="#0000ff"/><polygon points="1495.37,410.7 1488.67,423.7 1502.07,423.7" fill="#0000ff"/><polygon points="1499.8,446.11 1493.1,459.11 1506.5,459.11" fill="#0000ff"/><polygon points="1504.23,478.59 1497.53,491.59 1510.93,491.59" fill="#0000ff"/><polygon points="1508.66,508.56 1501.96,521.56 1515.36,521.56" fill="#0000ff"/><polygon points="1513.09,535.54 1506.39,548.54 1519.79,548.54" fill="#0000ff"/><polygon points="1517.52,554.84 1510.82,567.84 1524.22,567.84" fill="#0000ff"/><polygon points="1521.95,565.94 1515.25,578.94 1528.65,578.94" fill="#0000ff"/><polygon points="1526.38,570.36 1519.68,583.36 1533.08,583.36" fill="#0000ff"/><polygon points="1530.81,571.44 1524.11,584.44 1537.51,584.44" fill="#0000ff"/><polygon points="1535.24,571.96 1528.54,584.96 1541.94,584.96" fill="#0000ff"/><polygon points="1539.67,572.27 1532.97,585.27 1546.37,585.27" fill="#0000ff"/><polygon points="1544.1,572.4 1537.4,585.4 1550.8,585.4" fill="#0000ff"/><polygon points="1548.53,572.4 1541.83,585.4 1555.23,585.4" fill="#0000ff"/><polygon points="1552.96,572.4 1546.26,585.4 1559.66,585.4" fill="#0000ff"/><polygon points="1557.39,572.4 1550.69,585.4 1564.09,585.4" fill="#0000ff"/><polygon points="1561.82,572.4 1555.12,585.4 1568.52,585.4" fill="#0000ff"/><polygon points="1566.25,572.4 1559.55,585.4 1572.95,585.4" fill="#0000ff"/><polygon points="1570.69,572.4 1563.99,585.4 1577.39,585.4" fill="#0000ff"/><polygon points="1575.12,572.4 1568.42,585.4 1581.82,585.4" fill="#0000ff"/><polygon points="1579.55,572.4 1572.85,585.4 1586.25,585.4" fill="#0000ff"/><polygon points="1583.98,572.4 1577.28,585.4 1590.68,585.4" fill="#0000ff"/><polygon points="1588.41,572.4 1581.71,585.4 1595.11,585.4" fill="#0000ff"/><polygon points="1592.84,572.4 1586.14,585.4 1599.54,585.4" fill="#0000ff"/><polygon points="1597.27,572.4 1590.57,585.4 1603.97,585.4" fill="#0000ff"/><polygon points="1601.7,572.4 1595,585.4 1608.4,585.4" fill="#0000ff"/><polygon points="1606.13,572.4 1599.43,585.4 1612.83,585.4" fill="#0000ff"/><polygon points="1610.56,572.4 1603.86,585.4 1617.26,585.4" fill="#0000ff"/><polygon points="1614.99,572.4 1608.29,585.4 1621.69,585.4" fill="#0000ff"/><polygon points="1619.42,572.4 1612.72,585.4 1626.12,585.4" fill="#0000ff"/><polygon points="1623.85,572.4 1617.15,585.4 1630.55,585.4" fill="#0000ff"/><polygon points="1628.28,572.4 1621.58,585.4 1634.98,585.4" fill="#0000ff"/><polygon points="1632.71,572.4 1626.01,585.4 1639.41,585.4" fill="#0000ff"/><polygon points="1637.14,572.4 1630.44,585.4 1643.84,585.4" fill="#0000ff"/><polygon points="1641.57,572.4 1634.87,585.4 1648.27,585.4" fill="#0000ff"/><polygon points="1646,572.4 1639.3,585.4 1652.7,585.4" fill="#0000ff"/><polygon points="1650.43,572.4 1643.73,585.4 1657.13,585.4" fill="#0000ff"/><polygon points="1654.87,572.4 1648.16,585.4 1661.57,585.4" fill="#0000ff"/><polygon points="1659.3,572.4 1652.6,585.4 1666,585.4" fill="#0000ff"/><polygon points="1663.73,572.4 1657.03,585.4 1670.43,585.4" fill="#0000ff"/><polygon points="1668.16,572.4 1661.46,585.4 1674.86,585.4" fill="#0000ff"/><polygon points="1672.59,572.4 1665.89,585.4 1679.29,585.4" fill="#0000ff"/><polygon points="1677.02,572.4 1670.32,585.4 1683.72,585.4" fill="#0000ff"/><polygon points="1681.45,572.4 1674.75,585.4 1688.15,585.4" fill="#0000ff"/><polygon points="1685.88,572.4 1679.18,585.4 1692.58,585.4" fill="#0000ff"/><polygon points="1690.31,572.4 1683.61,585.4 1697.01,585.4" fill="#0000ff"/><polygon points="1694.74,572.4 1688.04,585.4 1701.44,585.4" fill="#0000ff"/><polygon points="1699.17,572.4 1692.47,585.4 1705.87,585.4" fill="#0000ff"/><polygon points="1703.6,572.4 1696.9,585.4 1710.3,585.4" fill="#0000ff"/><polygon points="1708.03,572.4 1701.33,585.4 1714.73,585.4" fill="#0000ff"/><polygon points="1712.46,572.4 1705.76,585.4 1719.16,585.4" fill="#0000ff"/><polygon points="1716.89,572.4 1710.19,585.4 1723.59,585.4" fill="#0000ff"/><polygon points="1721.32,572.4 1714.62,585.4 1728.02,585.4" fill="#0000ff"/><polygon points="1725.75,572.4 1719.05,585.4 1732.45,585.4" fill="#0000ff"/><polygon points="1730.18,572.4 1723.48,585.4 1736.88,585.4" fill="#0000ff"/><polygon points="1734.61,572.4 1727.91,585.4 1741.31,585.4" fill="#0000ff"/><polygon points="1739.04,572.4 1732.34,585.4 1745.74,585.4" fill="#0000ff"/><polygon points="1743.48,572.4 1736.78,585.4 1750.18,585.4" fill="#0000ff"/><polygon points="1747.91,572.4 1741.21,585.4 1754.61,585.4" fill="#0000ff"/><polygon points="1752.34,572.4 1745.64,585.4 1759.04,585.4" fill="#0000ff"/><polygon points="1756.77,572.4 1750.07,585.4 1763.47,585.4" fill="#0000ff"/><polygon points="1761.2,572.4 1754.5,585.4 1767.9,585.4" fill="#0000ff"/><polygon points="1765.63,572.4 1758.93,585.4 1772.33,585.4" fill="#0000ff"/><polygon points="1770.06,572.4 1763.36,585.4 1776.76,585.4" fill="#0000ff"/><polygon points="1774.49,572.4 1767.79,585.4 1781.19,585.4" fill="#0000ff"/><polygon points="1778.92,572.4 1772.22,585.4 1785.62,585.4" fill="#0000ff"/><polygon points="1783.35,572.4 1776.65,585.4 1790.05,585.4" fill="#0000ff"/><polygon points="1787.78,572.4 1781.08,585.4 1794.48,585.4" fill="#0000ff"/><polygon points="1792.21,572.4 1785.51,585.4 1798.91,585.4" fill="#0000ff"/><polygon points="1796.64,572.4 1789.94,585.4 1803.34,585.4" fill="#0000ff"/><polygon points="1801.07,572.4 1794.37,585.4 1807.77,585.4" fill="#0000ff"/><polygon points="1805.5,572.4 1798.8,585.4 1812.2,585.4" fill="#0000ff"/><polygon points="1809.93,572.4 1803.23,585.4 1816.63,585.4" fill="#0000ff"/><polygon points="1814.36,572.4 1807.66,585.4 1821.06,585.4" fill="#0000ff"/><polygon points="1818.79,572.4 1812.09,585.4 1825.49,585.4" fill="#0000ff"/><polygon points="1823.22,572.4 1816.52,585.4 1829.92,585.4" fill="#0000ff"/><polygon points="1827.65,572.4 1820.95,585.4 1834.35,585.4" fill="#0000ff"/><polygon points="1832.09,572.4 1825.38,585.4 1838.79,585.4" fill="#0000ff"/><polygon points="1836.52,572.4 1829.82,585.4 1843.22,585.4" fill="#0000ff"/><polygon points="1840.95,572.4 1834.25,585.4 1847.65,585.4" fill="#0000ff"/><polygon points="1845.38,572.4 1838.68,585.4 1852.08,585.4" fill="#0000ff"/><polygon points="1849.81,572.4 1843.11,585.4 1856.51,585.4" fill="#0000ff"/><polygon points="1854.24,572.4 1847.54,585.4 1860.94,585.4" fill="#0000ff"/><polygon points="1858.67,572.4 1851.97,585.4 1865.37,585.4" fill="#0000ff"/><polygon points="1863.1,572.4 1856.4,585.4 1869.8,585.4" fill="#0000ff"/><polygon points="1867.53,572.4 1860.83,585.4 1874.23,585.4" fill="#0000ff"/><polygon points="1871.96,572.4 1865.26,585.4 1878.66,585.4" fill="#0000ff"/><polygon points="1876.39,572.4 1869.69,585.4 1883.09,585.4" fill="#0000ff"/><polygon points="1880.82,572.4 1874.12,585.4 1887.52,585.4" fill="#0000ff"/><polygon points="1885.25,572.4 1878.55,585.4 1891.95,585.4" fill="#0000ff"/><polygon points="1889.68,572.4 1882.98,585.4 1896.38,585.4" fill="#0000ff"/><polygon points="1894.11,572.4 1887.41,585.4 1900.81,585.4" fill="#0000ff"/><polygon points="1898.54,572.4 1891.84,585.4 1905.24,585.4" fill="#0000ff"/><polygon points="1902.97,572.4 1896.27,585.4 1909.67,585.4" fill="#0000ff"/><polygon points="1907.4,572.4 1900.7,585.4 1914.1,585.4" fill="#0000ff"/><polygon points="1911.83,572.4 1905.13,585.4 1918.53,585.4" fill="#0000ff"/><polygon points="1916.26,572.4 1909.56,585.4 1922.96,585.4" fill="#0000ff"/><polygon points="1920.69,572.4 1913.99,585.4 1927.39,585.4" fill="#0000ff"/><polygon points="1925.13,572.4 1918.43,585.4 1931.83,585.4" fill="#0000ff"/><polygon points="1929.56,572.4 1922.86,585.4 1936.26,585.4" fill="#0000ff"/><polygon points="1933.99,572.4 1927.29,585.4 1940.69,585.4" fill="#0000ff"/><polygon points="1938.42,572.4 1931.72,585.4 1945.12,585.4" fill="#0000ff"/><polygon points="1942.85,572.4 1936.15,585.4 1949.55,585.4" fill="#0000ff"/><polygon points="1947.28,572.4 1940.58,585.4 1953.98,585.4" fill="#0000ff"/><polygon points="1951.71,572.4 1945.01,585.4 1958.41,585.4" fill="#0000ff"/><polygon points="1956.14,572.4 1949.44,585.4 1962.84,585.4" fill="#0000ff"/><polygon points="1960.57,572.4 1953.87,585.4 1967.27,585.4" fill="#0000ff"/><polygon points="1965,572.4 1958.3,585.4 1971.7,585.4" fill="#0000ff"/></g>
<g><polygon points="1078.9,71.9 1079.99,74.7 1082.99,74.87 1080.66,76.77 1081.43,79.68 1078.9,78.05 1076.37,79.68 1077.14,76.77 1074.81,74.87 1077.81,74.7" fill="#0000ff" stroke="#0000ff" stroke-width="2.5" stroke-linejoin="round"/><polygon points="1083.33,71.9 1084.42,74.7 1087.42,74.87 1085.09,76.77 1085.86,79.68 1083.33,78.05 1080.8,79.68 1081.57,76.77 1079.24,74.87 1082.24,74.7" fill="#0000ff" stroke="#0000ff" stroke-width="2.5" stroke-linejoin="round"/><polygon points="1087.76,71.9 1088.85,74.7 1091.85,74.87 1089.52,76.77 1090.29,79.68 1087.76,78.05 1085.23,79.68 1086,76.77 1083.67,74.87 1086.67,74.7" fill="#0000ff" stroke="#0000ff" stroke-width="2.5" stroke-linejoin="round"/><polygon points="1092.19,71.9 1093.28,74.7 1096.28,74.87 1093.95,76.77 1094.72,79.68 1092.19,78.05 1089.66,79.68 1090.43,76.77 1088.1,74.87 1091.1,74.7" fill="#0000ff" stroke="#0000ff" stroke-width="2.5" stroke-linejoin="round"/><polygon points="1096.62,71.9 1097.71,74.71 1100.71,74.87 1098.38,76.77 1099.15,79.68 1096.62,78.05 1094.09,79.68 1094.86,76.77 1092.53,74.87 1095.53,74.71" fill="#0000ff" stroke="#0000ff" stroke-width="2.5" stroke-linejoin="round"/><polygon points="1101.05,71.9 1102.14,74.71 1105.14,74.87 1102.81,76.78 1103.58,79.68 1101.05,78.05 1098.53,79.68 1099.29,76.78 1096.96,74.87 1099.97,74.71" fill="#0000ff" stroke="#0000ff" stroke-width="2.5" stroke-linejoin="round"/><polygon points="1105.48,71.91 1106.57,74.71 1109.57,74.88 1107.24,76.78 1108.01,79.68 1105.48,78.06 1102.96,79.68 1103.72,76.78 1101.39,74.88 1104.4,74.71" fill="#0000ff" stroke="#0000ff" stroke-width="2.5" stroke-linejoin="round"/><polygon points="1109.91,71.91 1111,74.71 1114,74.88 1111.67,76.78 1112.44,79.69 1109.91,78.06 1107.39,79.69 1108.15,76.78 1105.82,74.88 1108.83,74.71" fill="#0000ff" stroke="#0000ff" stroke-width="2.5" stroke-linejoin="round"/><polygon points="1114.34,71.91 1115.43,74.71 1118.43,74.88 1116.1,76.78 1116.87,79.69 1114.34,78.06 1111.82,79.69 1112.58,76.78 1110.25,74.88 1113.26,74.71" fill="#0000ff" stroke="#0000ff" stroke-width="2.5" stroke-linejoin="round"/><polygon points="1118.77,71.91 1119.86,74.71 1122.86,74.88 1120.53,76.78 1121.3,79.69 1118.77,78.06 1116.25,79.69 1117.02,76.78 1114.68,74.88 1117.69,74.71" fill="#0000ff" stroke="#0000ff" stroke-width="2.5" stroke-linejoin="round"/><polygon points="1123.21,71.91 1124.29,74.72 1127.29,74.89 1124.96,76.79 1125.73,79.69 1123.21,78.06 1120.68,79.69 1121.45,76.79 1119.12,74.89 1122.12,74.72" fill="#0000ff" stroke="#0000ff" stroke-width="2.5" stroke-linejoin="round"/><polygon points="1127.64,71.92 1128.72,74.72 1131.73,74.89 1129.39,76.79 1130.16,79.7 1127.64,78.07 1125.11,79.7 1125.88,76.79 1123.55,74.89 1126.55,74.72" fill="#0000ff" stroke="#0000ff" stroke-width="2.5" stroke-linejoin="round"/><polygon points="1132.07,71.92 1133.15,74.72 1136.16,74.89 1133.83,76.79 1134.59,79.7 1132.07,78.07 1129.54,79.7 1130.31,76.79 1127.98,74.89 1130.98,74.72" fill="#0000ff" stroke="#0000ff" stroke-width="2.5" stroke-linejoin="round"/><polygon points="1136.5,71.92 1137.58,74.73 1140.59,74.9 1138.26,76.8 1139.02,79.7 1136.5,78.07 1133.97,79.7 1134.74,76.8 1132.41,74.9 1135.41,74.73" fill="#0000ff" stroke="#0000ff" stroke-width="2.5" stroke-linejoin="round"/><polygon points="1140.93,71.93 1142.01,74.73 1145.02,74.9 1142.69,76.8 1143.45,79.71 1140.93,78.08 1138.4,79.71 1139.17,76.8 1136.84,74.9 1139.84,74.73" fill="#0000ff" stroke="#0000ff" stroke-width="2.5" stroke-linejoin="round"/><polygon points="1145.36,71.93 1146.44,74.74 1149.45,74.9 1147.12,76.8 1147.88,79.71 1145.36,78.08 1142.83,79.71 1143.6,76.8 1141.27,74.9 1144.27,74.74" fill="#0000ff" stroke="#0000ff" stroke-width="2.5" stroke-linejoin="round"/><polygon points="1149.79,71.94 1150.88,74.74 1153.88,74.91 1151.55,76.81 1152.32,79.72 1149.79,78.09 1147.26,79.72 1148.03,76.81 1145.7,74.91 1148.7,74.74" fill="#0000ff" stroke="#0000ff" stroke-width="2.5" stroke-linejoin="round"/><polygon points="1154.22,71.94 1155.31,74.75 1158.31,74.91 1155.98,76.81 1156.75,79.72 1154.22,78.09 1151.69,79.72 1152.46,76.81 1150.13,74.91 1153.13,74.75" fill="#0000ff" stroke="#0000ff" stroke-width="2.5" stroke-linejoin="round"/><polygon points="1158.65,71.95 1159.74,74.75 1162.74,74.92 1160.41,76.82 1161.18,79.73 1158.65,78.1 1156.12,79.73 1156.89,76.82 1154.56,74.92 1157.56,74.75" fill="#0000ff" stroke="#0000ff" stroke-width="2.5" stroke-linejoin="round"/><polygon points="1163.08,71.95 1164.17,74.76 1167.17,74.93 1164.84,76.83 1165.61,79.73 1163.08,78.1 1160.55,79.73 1161.32,76.83 1158.99,74.93 1161.99,74.76" fill="#0000ff" stroke="#0000ff" stroke-width="2.5" stroke-linejoin="round"/><polygon points="1167.51,71.96 1168.6,74.76 1171.6,74.93 1169.27,76.83 1170.04,79.74 1167.51,78.11 1164.98,79.74 1165.75,76.83 1163.42,74.93 1166.42,74.76" fill="#0000ff" stroke="#0000ff" stroke-width="2.5" stroke-linejoin="round"/><polygon points="1171.94,71.97 1173.03,74.77 1176.03,74.94 1173.7,76.84 1174.47,79.75 1171.94,78.12 1169.41,79.75 1170.18,76.84 1167.85,74.94 1170.85,74.77" fill="#0000ff" stroke="#0000ff" stroke-width="2.5" stroke-linejoin="round"/><polygon points="1176.37,71.98 1177.46,74.78 1180.46,74.95 1178.13,76.85 1178.9,79.75 1176.37,78.13 1173.84,79.75 1174.61,76.85 1172.28,74.95 1175.28,74.78" fill="#0000ff" stroke="#0000ff" stroke-width="2.5" stroke-linejoin="round"/><polygon points="1180.8,71.98 1181.89,74.79 1184.89,74.95 1182.56,76.85 1183.33,79.76 1180.8,78.13 1178.27,79.76 1179.04,76.85 1176.71,74.95 1179.71,74.79" fill="#0000ff" stroke="#0000ff" stroke-width="2.5" stroke-linejoin="round"/><polygon points="1185.23,71.99 1186.32,74.79 1189.32,74.96 1186.99,76.86 1187.76,79.77 1185.23,78.14 1182.7,79.77 1183.47,76.86 1181.14,74.96 1184.14,74.79" fill="#0000ff" stroke="#0000ff" stroke-width="2.5" stroke-linejoin="round"/><polygon points="1189.66,72 1190.75,74.8 1193.75,74.97 1191.42,76.87 1192.19,79.78 1189.66,78.15 1187.14,79.78 1187.9,76.87 1185.57,74.97 1188.58,74.8" fill="#0000ff" stroke="#0000ff" stroke-width="2.5" stroke-linejoin="round"/><polygon points="1194.09,72.01 1195.18,74.81 1198.18,74.98 1195.85,76.88 1196.62,79.79 1194.09,78.16 1191.57,79.79 1192.33,76.88 1190,74.98 1193.01,74.81" fill="#0000ff" stroke="#0000ff" stroke-width="2.5" stroke-linejoin="round"/><polygon points="1198.52,72.02 1199.61,74.82 1202.61,74.99 1200.28,76.89 1201.05,79.8 1198.52,78.17 1196,79.8 1196.76,76.89 1194.43,74.99 1197.44,74.82" fill="#0000ff" stroke="#0000ff" stroke-width="2.5" stroke-linejoin="round"/><polygon points="1202.95,72.03 1204.04,74.83 1207.04,75 1204.71,76.9 1205.48,79.81 1202.95,78.18 1200.43,79.81 1201.19,76.9 1198.86,75 1201.87,74.83" fill="#0000ff" stroke="#0000ff" stroke-width="2.5" stroke-linejoin="round"/><polygon points="1207.38,72.04 1208.47,74.84 1211.47,75.01 1209.14,76.91 1209.91,79.82 1207.38,78.19 1204.86,79.82 1205.63,76.91 1203.29,75.01 1206.3,74.84" fill="#0000ff" stroke="#0000ff" stroke-width="2.5" stroke-linejoin="round"/><polygon points="1211.82,72.05 1212.9,74.85 1215.9,75.02 1213.57,76.92 1214.34,79.83 1211.82,78.2 1209.29,79.83 1210.06,76.92 1207.73,75.02 1210.73,74.85" fill="#0000ff" stroke="#0000ff" stroke-width="2.5" stroke-linejoin="round"/><polygon points="1216.25,72.06 1217.33,74.86 1220.34,75.03 1218,76.93 1218.77,79.84 1216.25,78.21 1213.72,79.84 1214.49,76.93 1212.16,75.03 1215.16,74.86" fill="#0000ff" stroke="#0000ff" stroke-width="2.5" stroke-linejoin="round"/><polygon points="1220.68,72.07 1221.76,74.88 1224.77,75.04 1222.44,76.94 1223.2,79.85 1220.68,78.22 1218.15,79.85 1218.92,76.94 1216.59,75.04 1219.59,74.88" fill="#0000ff" stroke="#0000ff" stroke-width="2.5" stroke-linejoin="round"/><polygon points="1225.11,72.09 1226.19,74.89 1229.2,75.06 1226.87,76.96 1227.63,79.86 1225.11,78.24 1222.58,79.86 1223.35,76.96 1221.02,75.06 1224.02,74.89" fill="#0000ff" stroke="#0000ff" stroke-width="2.5" stroke-linejoin="round"/><polygon points="1229.54,72.1 1230.62,74.9 1233.63,75.07 1231.3,76.97 1232.06,79.88 1229.54,78.25 1227.01,79.88 1227.78,76.97 1225.45,75.07 1228.45,74.9" fill="#0000ff" stroke="#0000ff" stroke-width="2.5" stroke-linejoin="round"/><polygon points="1233.97,72.12 1235.05,74.93 1238.06,75.09 1235.73,76.99 1236.49,79.9 1233.97,78.27 1231.44,79.9 1232.21,76.99 1229.88,75.09 1232.88,74.93" fill="#0000ff" stroke="#0000ff" stroke-width="2.5" stroke-linejoin="round"/><polygon points="1238.4,72.17 1239.49,74.97 1242.49,75.14 1240.16,77.04 1240.93,79.95 1238.4,78.32 1235.87,79.95 1236.64,77.04 1234.31,75.14 1237.31,74.97" fill="#0000ff" stroke="#0000ff" stroke-width="2.5" stroke-linejoin="round"/><polygon points="1242.83,72.24 1243.92,75.04 1246.92,75.21 1244.59,77.11 1245.36,80.02 1242.83,78.39 1240.3,80.02 1241.07,77.11 1238.74,75.21 1241.74,75.04" fill="#0000ff" stroke="#0000ff" stroke-width="2.5" stroke-linejoin="round"/><polygon points="1247.26,72.33 1248.35,75.13 1251.35,75.3 1249.02,77.2 1249.79,80.11 1247.26,78.48 1244.73,80.11 1245.5,77.2 1243.17,75.3 1246.17,75.13" fill="#0000ff" stroke="#0000ff" stroke-width="2.5" stroke-linejoin="round"/><polygon points="1251.69,72.43 1252.78,75.24 1255.78,75.4 1253.45,77.3 1254.22,80.21 1251.69,78.58 1249.16,80.21 1249.93,77.3 1247.6,75.4 1250.6,75.24" fill="#0000ff" stroke="#0000ff" stroke-width="2.5" stroke-linejoin="round"/><polygon points="1256.12,72.55 1257.21,75.36 1260.21,75.52 1257.88,77.42 1258.65,80.33 1256.12,78.7 1253.59,80.33 1254.36,77.42 1252.03,75.52 1255.03,75.36" fill="#0000ff" stroke="#0000ff" stroke-width="2.5" stroke-linejoin="round"/><polygon points="1260.55,72.69 1261.64,75.49 1264.64,75.66 1262.31,77.56 1263.08,80.46 1260.55,78.84 1258.02,80.46 1258.79,77.56 1256.46,75.66 1259.46,75.49" fill="#0000ff" stroke="#0000ff" stroke-width="2.5" stroke-linejoin="round"/><polygon points="1264.98,72.83 1266.07,75.63 1269.07,75.8 1266.74,77.7 1267.51,80.61 1264.98,78.98 1262.45,80.61 1263.22,77.7 1260.89,75.8 1263.89,75.63" fill="#0000ff" stroke="#0000ff" stroke-width="2.5" stroke-linejoin="round"/><polygon points="1269.41,72.98 1270.5,75.78 1273.5,75.95 1271.17,77.85 1271.94,80.76 1269.41,79.13 1266.88,80.76 1267.65,77.85 1265.32,75.95 1268.32,75.78" fill="#0000ff" stroke="#0000ff" stroke-width="2.5" stroke-linejoin="round"/><polygon points="1273.84,73.15 1274.93,75.95 1277.93,76.12 1275.6,78.02 1276.37,80.93 1273.84,79.3 1271.31,80.93 1272.08,78.02 1269.75,76.12 1272.75,75.95" fill="#0000ff" stroke="#0000ff" stroke-width="2.5" stroke-linejoin="round"/><polygon points="1278.27,73.36 1279.36,76.16 1282.36,76.33 1280.03,78.23 1280.8,81.14 1278.27,79.51 1275.75,81.14 1276.51,78.23 1274.18,76.33 1277.19,76.16" fill="#0000ff" stroke="#0000ff" stroke-width="2.5" stroke-linejoin="round"/><polygon points="1282.7,73.61 1283.79,76.42 1286.79,76.58 1284.46,78.48 1285.23,81.39 1282.7,79.76 1280.18,81.39 1280.94,78.48 1278.61,76.58 1281.62,76.42" fill="#0000ff" stroke="#0000ff" stroke-width="2.5" stroke-linejoin="round"/><polygon points="1287.13,73.92 1288.22,76.72 1291.22,76.89 1288.89,78.79 1289.66,81.69 1287.13,80.07 1284.61,81.69 1285.37,78.79 1283.04,76.89 1286.05,76.72" fill="#0000ff" stroke="#0000ff" stroke-width="2.5" stroke-linejoin="round"/><polygon points="1291.56,74.27 1292.65,77.07 1295.65,77.24 1293.32,79.14 1294.09,82.05 1291.56,80.42 1289.04,82.05 1289.8,79.14 1287.47,77.24 1290.48,77.07" fill="#0000ff" stroke="#0000ff" stroke-width="2.5" stroke-linejoin="round"/><polygon points="1295.99,74.68 1297.08,77.48 1300.08,77.65 1297.75,79.55 1298.52,82.46 1295.99,80.83 1293.47,82.46 1294.24,79.55 1291.9,77.65 1294.91,77.48" fill="#0000ff" stroke="#0000ff" stroke-width="2.5" stroke-linejoin="round"/><polygon points="1300.43,75.15 1301.51,77.95 1304.51,78.12 1302.18,80.02 1302.95,82.93 1300.43,81.3 1297.9,82.93 1298.67,80.02 1296.34,78.12 1299.34,77.95" fill="#0000ff" stroke="#0000ff" stroke-width="2.5" stroke-linejoin="round"/><polygon points="1304.86,75.82 1305.94,78.63 1308.95,78.79 1306.61,80.69 1307.38,83.6 1304.86,81.97 1302.33,83.6 1303.1,80.69 1300.77,78.79 1303.77,78.63" fill="#0000ff" stroke="#0000ff" stroke-width="2.5" stroke-linejoin="round"/><polygon points="1309.29,76.76 1310.37,79.56 1313.38,79.73 1311.05,81.63 1311.81,84.54 1309.29,82.91 1306.76,84.54 1307.53,81.63 1305.2,79.73 1308.2,79.56" fill="#0000ff" stroke="#0000ff" stroke-width="2.5" stroke-linejoin="round"/><polygon points="1313.72,77.89 1314.8,80.7 1317.81,80.87 1315.48,82.77 1316.24,85.67 1313.72,84.04 1311.19,85.67 1311.96,82.77 1309.63,80.87 1312.63,80.7" fill="#0000ff" stroke="#0000ff" stroke-width="2.5" stroke-linejoin="round"/><polygon points="1318.15,79.18 1319.23,81.98 1322.24,82.15 1319.91,84.05 1320.67,86.96 1318.15,85.33 1315.62,86.96 1316.39,84.05 1314.06,82.15 1317.06,81.98" fill="#0000ff" stroke="#0000ff" stroke-width="2.5" stroke-linejoin="round"/><polygon points="1322.58,80.55 1323.66,83.35 1326.67,83.52 1324.34,85.42 1325.1,88.33 1322.58,86.7 1320.05,88.33 1320.82,85.42 1318.49,83.52 1321.49,83.35" fill="#0000ff" stroke="#0000ff" stroke-width="2.5" stroke-linejoin="round"/><polygon points="1327.01,82.03 1328.1,84.83 1331.1,85 1328.77,86.9 1329.54,89.81 1327.01,88.18 1324.48,89.81 1325.25,86.9 1322.92,85 1325.92,84.83" fill="#0000ff" stroke="#0000ff" stroke-width="2.5" stroke-linejoin="round"/><polygon points="1331.44,83.78 1332.53,86.58 1335.53,86.75 1333.2,88.65 1333.97,91.56 1331.44,89.93 1328.91,91.56 1329.68,88.65 1327.35,86.75 1330.35,86.58" fill="#0000ff" stroke="#0000ff" stroke-width="2.5" stroke-linejoin="round"/><polygon points="1335.87,85.75 1336.96,88.56 1339.96,88.73 1337.63,90.63 1338.4,93.53 1335.87,91.9 1333.34,93.53 1334.11,90.63 1331.78,88.73 1334.78,88.56" fill="#0000ff" stroke="#0000ff" stroke-width="2.5" stroke-linejoin="round"/><polygon points="1340.3,87.87 1341.39,90.68 1344.39,90.84 1342.06,92.74 1342.83,95.65 1340.3,94.02 1337.77,95.65 1338.54,92.74 1336.21,90.84 1339.21,90.68" fill="#0000ff" stroke="#0000ff" stroke-width="2.5" stroke-linejoin="round"/><polygon points="1344.73,90.07 1345.82,92.87 1348.82,93.04 1346.49,94.94 1347.26,97.84 1344.73,96.22 1342.2,97.84 1342.97,94.94 1340.64,93.04 1343.64,92.87" fill="#0000ff" stroke="#0000ff" stroke-width="2.5" stroke-linejoin="round"/><polygon points="1349.16,92.33 1350.25,95.13 1353.25,95.3 1350.92,97.2 1351.69,100.1 1349.16,98.48 1346.63,100.1 1347.4,97.2 1345.07,95.3 1348.07,95.13" fill="#0000ff" stroke="#0000ff" stroke-width="2.5" stroke-linejoin="round"/><polygon points="1353.59,94.93 1354.68,97.73 1357.68,97.9 1355.35,99.8 1356.12,102.71 1353.59,101.08 1351.06,102.71 1351.83,99.8 1349.5,97.9 1352.5,97.73" fill="#0000ff" stroke="#0000ff" stroke-width="2.5" stroke-linejoin="round"/><polygon points="1358.02,98.22 1359.11,101.03 1362.11,101.19 1359.78,103.1 1360.55,106 1358.02,104.37 1355.49,106 1356.26,103.1 1353.93,101.19 1356.93,101.03" fill="#0000ff" stroke="#0000ff" stroke-width="2.5" stroke-linejoin="round"/><polygon points="1362.45,102.19 1363.54,104.99 1366.54,105.16 1364.21,107.06 1364.98,109.97 1362.45,108.34 1359.92,109.97 1360.69,107.06 1358.36,105.16 1361.36,104.99" fill="#0000ff" stroke="#0000ff" stroke-width="2.5" stroke-linejoin="round"/><polygon points="1366.88,106.84 1367.97,109.64 1370.97,109.81 1368.64,111.71 1369.41,114.62 1366.88,112.99 1364.36,114.62 1365.12,111.71 1362.79,109.81 1365.8,109.64" fill="#0000ff" stroke="#0000ff" stroke-width="2.5" stroke-linejoin="round"/><polygon points="1371.31,112.17 1372.4,114.98 1375.4,115.14 1373.07,117.04 1373.84,119.95 1371.31,118.32 1368.79,119.95 1369.55,117.04 1367.22,115.14 1370.23,114.98" fill="#0000ff" stroke="#0000ff" stroke-width="2.5" stroke-linejoin="round"/><polygon points="1375.74,117.36 1376.83,120.16 1379.83,120.33 1377.5,122.23 1378.27,125.14 1375.74,123.51 1373.22,125.14 1373.98,122.23 1371.65,120.33 1374.66,120.16" fill="#0000ff" stroke="#0000ff" stroke-width="2.5" stroke-linejoin="round"/><polygon points="1380.17,122.44 1381.26,125.24 1384.26,125.41 1381.93,127.31 1382.7,130.21 1380.17,128.59 1377.65,130.21 1378.41,127.31 1376.08,125.41 1379.09,125.24" fill="#0000ff" stroke="#0000ff" stroke-width="2.5" stroke-linejoin="round"/><polygon points="1384.6,128.22 1385.69,131.02 1388.69,131.19 1386.36,133.09 1387.13,135.99 1384.6,134.37 1382.08,135.99 1382.85,133.09 1380.51,131.19 1383.52,131.02" fill="#0000ff" stroke="#0000ff" stroke-width="2.5" stroke-linejoin="round"/><polygon points="1389.04,135.78 1390.12,138.59 1393.12,138.75 1390.79,140.65 1391.56,143.56 1389.04,141.93 1386.51,143.56 1387.28,140.65 1384.95,138.75 1387.95,138.59" fill="#0000ff" stroke="#0000ff" stroke-width="2.5" stroke-linejoin="round"/><polygon points="1393.47,144.24 1394.55,147.04 1397.56,147.21 1395.22,149.11 1395.99,152.01 1393.47,150.39 1390.94,152.01 1391.71,149.11 1389.38,147.21 1392.38,147.04" fill="#0000ff" stroke="#0000ff" stroke-width="2.5" stroke-linejoin="round"/><polygon points="1397.9,153.2 1398.98,156 1401.99,156.17 1399.66,158.07 1400.42,160.98 1397.9,159.35 1395.37,160.98 1396.14,158.07 1393.81,156.17 1396.81,156" fill="#0000ff" stroke="#0000ff" stroke-width="2.5" stroke-linejoin="round"/><polygon points="1402.33,162.44 1403.41,165.24 1406.42,165.41 1404.09,167.31 1404.85,170.21 1402.33,168.59 1399.8,170.21 1400.57,167.31 1398.24,165.41 1401.24,165.24" fill="#0000ff" stroke="#0000ff" stroke-width="2.5" stroke-linejoin="round"/><polygon points="1406.76,173.06 1407.84,175.86 1410.85,176.03 1408.52,177.93 1409.28,180.84 1406.76,179.21 1404.23,180.84 1405,177.93 1402.67,176.03 1405.67,175.86" fill="#0000ff" stroke="#0000ff" stroke-width="2.5" stroke-linejoin="round"/><polygon points="1411.19,182.8 1412.27,185.6 1415.28,185.77 1412.95,187.67 1413.71,190.58 1411.19,188.95 1408.66,190.58 1409.43,187.67 1407.1,185.77 1410.1,185.6" fill="#0000ff" stroke="#0000ff" stroke-width="2.5" stroke-linejoin="round"/><polygon points="1415.62,194.03 1416.71,196.83 1419.71,197 1417.38,198.9 1418.15,201.8 1415.62,200.18 1413.09,201.8 1413.86,198.9 1411.53,197 1414.53,196.83" fill="#0000ff" stroke="#0000ff" stroke-width="2.5" stroke-linejoin="round"/><polygon points="1420.05,207.2 1421.14,210 1424.14,210.17 1421.81,212.07 1422.58,214.98 1420.05,213.35 1417.52,214.98 1418.29,212.07 1415.96,210.17 1418.96,210" fill="#0000ff" stroke="#0000ff" stroke-width="2.5" stroke-linejoin="round"/><polygon points="1424.48,222.16 1425.57,224.96 1428.57,225.13 1426.24,227.03 1427.01,229.93 1424.48,228.31 1421.95,229.93 1422.72,227.03 1420.39,225.13 1423.39,224.96" fill="#0000ff" stroke="#0000ff" stroke-width="2.5" stroke-linejoin="round"/><polygon points="1428.91,235.85 1430,238.65 1433,238.82 1430.67,240.72 1431.44,243.63 1428.91,242 1426.38,243.63 1427.15,240.72 1424.82,238.82 1427.82,238.65" fill="#0000ff" stroke="#0000ff" stroke-width="2.5" stroke-linejoin="round"/><polygon points="1433.34,252.77 1434.43,255.58 1437.43,255.74 1435.1,257.64 1435.87,260.55 1433.34,258.92 1430.81,260.55 1431.58,257.64 1429.25,255.74 1432.25,255.58" fill="#0000ff" stroke="#0000ff" stroke-width="2.5" stroke-linejoin="round"/><polygon points="1437.77,270.35 1438.86,273.16 1441.86,273.33 1439.53,275.23 1440.3,278.13 1437.77,276.5 1435.24,278.13 1436.01,275.23 1433.68,273.33 1436.68,273.16" fill="#0000ff" stroke="#0000ff" stroke-width="2.5" stroke-linejoin="round"/><polygon points="1442.2,290.25 1443.29,293.05 1446.29,293.22 1443.96,295.12 1444.73,298.03 1442.2,296.4 1439.67,298.03 1440.44,295.12 1438.11,293.22 1441.11,293.05" fill="#0000ff" stroke="#0000ff" stroke-width="2.5" stroke-linejoin="round"/><polygon points="1446.63,310.87 1447.72,313.67 1450.72,313.84 1448.39,315.74 1449.16,318.65 1446.63,317.02 1444.1,318.65 1444.87,315.74 1442.54,313.84 1445.54,313.67" fill="#0000ff" stroke="#0000ff" stroke-width="2.5" stroke-linejoin="round"/><polygon points="1451.06,333 1452.15,335.81 1455.15,335.98 1452.82,337.88 1453.59,340.78 1451.06,339.15 1448.53,340.78 1449.3,337.88 1446.97,335.98 1449.97,335.81" fill="#0000ff" stroke="#0000ff" stroke-width="2.5" stroke-linejoin="round"/><polygon points="1455.49,356.56 1456.58,359.36 1459.58,359.53 1457.25,361.43 1458.02,364.34 1455.49,362.71 1452.97,364.34 1453.73,361.43 1451.4,359.53 1454.41,359.36" fill="#0000ff" stroke="#0000ff" stroke-width="2.5" stroke-linejoin="round"/><polygon points="1459.92,381.73 1461.01,384.53 1464.01,384.7 1461.68,386.6 1462.45,389.51 1459.92,387.88 1457.4,389.51 1458.16,386.6 1455.83,384.7 1458.84,384.53" fill="#0000ff" stroke="#0000ff" stroke-width="2.5" stroke-linejoin="round"/><polygon points="1464.35,407.17 1465.44,409.98 1468.44,410.15 1466.11,412.05 1466.88,414.95 1464.35,413.32 1461.83,414.95 1462.59,412.05 1460.26,410.15 1463.27,409.98" fill="#0000ff" stroke="#0000ff" stroke-width="2.5" stroke-linejoin="round"/><polygon points="1468.78,432.29 1469.87,435.09 1472.87,435.26 1470.54,437.16 1471.31,440.06 1468.78,438.44 1466.26,440.06 1467.02,437.16 1464.69,435.26 1467.7,435.09" fill="#0000ff" stroke="#0000ff" stroke-width="2.5" stroke-linejoin="round"/><polygon points="1473.21,458.38 1474.3,461.19 1477.3,461.35 1474.97,463.26 1475.74,466.16 1473.21,464.53 1470.69,466.16 1471.46,463.26 1469.12,461.35 1472.13,461.19" fill="#0000ff" stroke="#0000ff" stroke-width="2.5" stroke-linejoin="round"/><polygon points="1477.64,483.5 1478.73,486.3 1481.73,486.47 1479.4,488.37 1480.17,491.28 1477.64,489.65 1475.12,491.28 1475.89,488.37 1473.56,486.47 1476.56,486.3" fill="#0000ff" stroke="#0000ff" stroke-width="2.5" stroke-linejoin="round"/><polygon points="1482.08,506.85 1483.16,509.66 1486.17,509.82 1483.83,511.73 1484.6,514.63 1482.08,513 1479.55,514.63 1480.32,511.73 1477.99,509.82 1480.99,509.66" fill="#0000ff" stroke="#0000ff" stroke-width="2.5" stroke-linejoin="round"/><polygon points="1486.51,528.89 1487.59,531.69 1490.6,531.86 1488.27,533.76 1489.03,536.67 1486.51,535.04 1483.98,536.67 1484.75,533.76 1482.42,531.86 1485.42,531.69" fill="#0000ff" stroke="#0000ff" stroke-width="2.5" stroke-linejoin="round"/><polygon points="1490.94,546.04 1492.02,548.84 1495.03,549.01 1492.7,550.91 1493.46,553.82 1490.94,552.19 1488.41,553.82 1489.18,550.91 1486.85,549.01 1489.85,548.84" fill="#0000ff" stroke="#0000ff" stroke-width="2.5" stroke-linejoin="round"/><polygon points="1495.37,559.82 1496.45,562.63 1499.46,562.8 1497.13,564.7 1497.89,567.6 1495.37,565.97 1492.84,567.6 1493.61,564.7 1491.28,562.8 1494.28,562.63" fill="#0000ff" stroke="#0000ff" stroke-width="2.5" stroke-linejoin="round"/><polygon points="1499.8,567.96 1500.88,570.77 1503.89,570.94 1501.56,572.84 1502.32,575.74 1499.8,574.11 1497.27,575.74 1498.04,572.84 1495.71,570.94 1498.71,570.77" fill="#0000ff" stroke="#0000ff" stroke-width="2.5" stroke-linejoin="round"/><polygon points="1504.23,572.21 1505.32,575.01 1508.32,575.18 1505.99,577.08 1506.76,579.99 1504.23,578.36 1501.7,579.99 1502.47,577.08 1500.14,575.18 1503.14,575.01" fill="#0000ff" stroke="#0000ff" stroke-width="2.5" stroke-linejoin="round"/><polygon points="1508.66,573.54 1509.75,576.34 1512.75,576.51 1510.42,578.41 1511.19,581.32 1508.66,579.69 1506.13,581.32 1506.9,578.41 1504.57,576.51 1507.57,576.34" fill="#0000ff" stroke="#0000ff" stroke-width="2.5" stroke-linejoin="round"/><polygon points="1513.09,574.2 1514.18,577 1517.18,577.17 1514.85,579.07 1515.62,581.98 1513.09,580.35 1510.56,581.98 1511.33,579.07 1509,577.17 1512,577" fill="#0000ff" stroke="#0000ff" stroke-width="2.5" stroke-linejoin="round"/><polygon points="1517.52,574.55 1518.61,577.35 1521.61,577.52 1519.28,579.42 1520.05,582.33 1517.52,580.7 1514.99,582.33 1515.76,579.42 1513.43,577.52 1516.43,577.35" fill="#0000ff" stroke="#0000ff" stroke-width="2.5" stroke-linejoin="round"/><polygon points="1521.95,574.6 1523.04,577.4 1526.04,577.57 1523.71,579.47 1524.48,582.38 1521.95,580.75 1519.42,582.38 1520.19,579.47 1517.86,577.57 1520.86,577.4" fill="#0000ff" stroke="#0000ff" stroke-width="2.5" stroke-linejoin="round"/><polygon points="1526.38,574.6 1527.47,577.4 1530.47,577.57 1528.14,579.47 1528.91,582.38 1526.38,580.75 1523.85,582.38 1524.62,579.47 1522.29,577.57 1525.29,577.4" fill="#0000ff" stroke="#0000ff" stroke-width="2.5" stroke-linejoin="round"/><polygon points="1530.81,574.6 1531.9,577.4 1534.9,577.57 1532.57,579.47 1533.34,582.38 1530.81,580.75 1528.28,582.38 1529.05,579.47 1526.72,577.57 1529.72,577.4" fill="#0000ff" stroke="#0000ff" stroke-width="2.5" stroke-linejoin="round"/><polygon points="1535.24,574.6 1536.33,577.4 1539.33,577.57 1537,579.47 1537.77,582.38 1535.24,580.75 1532.71,582.38 1533.48,579.47 1531.15,577.57 1534.15,577.4" fill="#0000ff" stroke="#0000ff" stroke-width="2.5" stroke-linejoin="round"/><polygon points="1539.67,574.6 1540.76,577.4 1543.76,577.57 1541.43,579.47 1542.2,582.38 1539.67,580.75 1537.14,582.38 1537.91,579.47 1535.58,577.57 1538.58,577.4" fill="#0000ff" stroke="#0000ff" stroke-width="2.5" stroke-linejoin="round"/><polygon points="1544.1,574.6 1545.19,577.4 1548.19,577.57 1545.86,579.47 1546.63,582.38 1544.1,580.75 1541.58,582.38 1542.34,579.47 1540.01,577.57 1543.02,577.4" fill="#0000ff" stroke="#0000ff" stroke-width="2.5" stroke-linejoin="round"/><polygon points="1548.53,574.6 1549.62,577.4 1552.62,577.57 1550.29,579.47 1551.06,582.38 1548.53,580.75 1546.01,582.38 1546.77,579.47 1544.44,577.57 1547.45,577.4" fill="#0000ff" stroke="#0000ff" stroke-width="2.5" stroke-linejoin="round"/><polygon points="1552.96,574.6 1554.05,577.4 1557.05,577.57 1554.72,579.47 1555.49,582.38 1552.96,580.75 1550.44,582.38 1551.2,579.47 1548.87,577.57 1551.88,577.4" fill="#0000ff" stroke="#0000ff" stroke-width="2.5" stroke-linejoin="round"/><polygon points="1557.39,574.6 1558.48,577.4 1561.48,577.57 1559.15,579.47 1559.92,582.38 1557.39,580.75 1554.87,582.38 1555.63,579.47 1553.3,577.57 1556.31,577.4" fill="#0000ff" stroke="#0000ff" stroke-width="2.5" stroke-linejoin="round"/><polygon points="1561.82,574.6 1562.91,577.4 1565.91,577.57 1563.58,579.47 1564.35,582.38 1561.82,580.75 1559.3,582.38 1560.07,579.47 1557.73,577.57 1560.74,577.4" fill="#0000ff" stroke="#0000ff" stroke-width="2.5" stroke-linejoin="round"/><polygon points="1566.25,574.6 1567.34,577.4 1570.34,577.57 1568.01,579.47 1568.78,582.38 1566.25,580.75 1563.73,582.38 1564.5,579.47 1562.17,577.57 1565.17,577.4" fill="#0000ff" stroke="#0000ff" stroke-width="2.5" stroke-linejoin="round"/><polygon points="1570.69,574.6 1571.77,577.4 1574.78,577.57 1572.44,579.47 1573.21,582.38 1570.69,580.75 1568.16,582.38 1568.93,579.47 1566.6,577.57 1569.6,577.4" fill="#0000ff" stroke="#0000ff" stroke-width="2.5" stroke-linejoin="round"/><polygon points="1575.12,574.6 1576.2,577.4 1579.21,577.57 1576.88,579.47 1577.64,582.38 1575.12,580.75 1572.59,582.38 1573.36,579.47 1571.03,577.57 1574.03,577.4" fill="#0000ff" stroke="#0000ff" stroke-width="2.5" stroke-linejoin="round"/><polygon points="1579.55,574.6 1580.63,577.4 1583.64,577.57 1581.31,579.47 1582.07,582.38 1579.55,580.75 1577.02,582.38 1577.79,579.47 1575.46,577.57 1578.46,577.4" fill="#0000ff" stroke="#0000ff" stroke-width="2.5" stroke-linejoin="round"/><polygon points="1583.98,574.6 1585.06,577.4 1588.07,577.57 1585.74,579.47 1586.5,582.38 1583.98,580.75 1581.45,582.38 1582.22,579.47 1579.89,577.57 1582.89,577.4" fill="#0000ff" stroke="#0000ff" stroke-width="2.5" stroke-linejoin="round"/><polygon points="1588.41,574.6 1589.49,577.4 1592.5,577.57 1590.17,579.47 1590.93,582.38 1588.41,580.75 1585.88,582.38 1586.65,579.47 1584.32,577.57 1587.32,577.4" fill="#0000ff" stroke="#0000ff" stroke-width="2.5" stroke-linejoin="round"/><polygon points="1592.84,574.6 1593.93,577.4 1596.93,577.57 1594.6,579.47 1595.37,582.38 1592.84,580.75 1590.31,582.38 1591.08,579.47 1588.75,577.57 1591.75,577.4" fill="#0000ff" stroke="#0000ff" stroke-width="2.5" stroke-linejoin="round"/><polygon points="1597.27,574.6 1598.36,577.4 1601.36,577.57 1599.03,579.47 1599.8,582.38 1597.27,580.75 1594.74,582.38 1595.51,579.47 1593.18,577.57 1596.18,577.4" fill="#0000ff" stroke="#0000ff" stroke-width="2.5" stroke-linejoin="round"/><polygon points="1601.7,574.6 1602.79,577.4 1605.79,577.57 1603.46,579.47 1604.23,582.38 1601.7,580.75 1599.17,582.38 1599.94,579.47 1597.61,577.57 1600.61,577.4" fill="#0000ff" stroke="#0000ff" stroke-width="2.5" stroke-linejoin="round"/><polygon points="1606.13,574.6 1607.22,577.4 1610.22,577.57 1607.89,579.47 1608.66,582.38 1606.13,580.75 1603.6,582.38 1604.37,579.47 1602.04,577.57 1605.04,577.4" fill="#0000ff" stroke="#0000ff" stroke-width="2.5" stroke-linejoin="round"/><polygon points="1610.56,574.6 1611.65,577.4 1614.65,577.57 1612.32,579.47 1613.09,582.38 1610.56,580.75 1608.03,582.38 1608.8,579.47 1606.47,577.57 1609.47,577.4" fill="#0000ff" stroke="#0000ff" stroke-width="2.5" stroke-linejoin="round"/><polygon points="1614.99,574.6 1616.08,577.4 1619.08,577.57 1616.75,579.47 1617.52,582.38 1614.99,580.75 1612.46,582.38 1613.23,579.47 1610.9,577.57 1613.9,577.4" fill="#0000ff" stroke="#0000ff" stroke-width="2.5" stroke-linejoin="round"/><polygon points="1619.42,574.6 1620.51,577.4 1623.51,577.57 1621.18,579.47 1621.95,582.38 1619.42,580.75 1616.89,582.38 1617.66,579.47 1615.33,577.57 1618.33,577.4" fill="#0000ff" stroke="#0000ff" stroke-width="2.5" stroke-linejoin="round"/><polygon points="1623.85,574.6 1624.94,577.4 1627.94,577.57 1625.61,579.47 1626.38,582.38 1623.85,580.75 1621.32,582.38 1622.09,579.47 1619.76,577.57 1622.76,577.4" fill="#0000ff" stroke="#0000ff" stroke-width="2.5" stroke-linejoin="round"/><polygon points="1628.28,574.6 1629.37,577.4 1632.37,577.57 1630.04,579.47 1630.81,582.38 1628.28,580.75 1625.75,582.38 1626.52,579.47 1624.19,577.57 1627.19,577.4" fill="#0000ff" stroke="#0000ff" stroke-width="2.5" stroke-linejoin="round"/><polygon points="1632.71,574.6 1633.8,577.4 1636.8,577.57 1634.47,579.47 1635.24,582.38 1632.71,580.75 1630.19,582.38 1630.95,579.47 1628.62,577.57 1631.63,577.4" fill="#0000ff" stroke="#0000ff" stroke-width="2.5" stroke-linejoin="round"/><polygon points="1637.14,574.6 1638.23,577.4 1641.23,577.57 1638.9,579.47 1639.67,582.38 1637.14,580.75 1634.62,582.38 1635.38,579.47 1633.05,577.57 1636.06,577.4" fill="#0000ff" stroke="#0000ff" stroke-width="2.5" stroke-linejoin="round"/><polygon points="1641.57,574.6 1642.66,577.4 1645.66,577.57 1643.33,579.47 1644.1,582.38 1641.57,580.75 1639.05,582.38 1639.81,579.47 1637.48,577.57 1640.49,577.4" fill="#0000ff" stroke="#0000ff" stroke-width="2.5" stroke-linejoin="round"/><polygon points="1646,574.6 1647.09,577.4 1650.09,577.57 1647.76,579.47 1648.53,582.38 1646,580.75 1643.48,582.38 1644.24,579.47 1641.91,577.57 1644.92,577.4" fill="#0000ff" stroke="#0000ff" stroke-width="2.5" stroke-linejoin="round"/><polygon points="1650.43,574.6 1651.52,577.4 1654.52,577.57 1652.19,579.47 1652.96,582.38 1650.43,580.75 1647.91,582.38 1648.68,579.47 1646.34,577.57 1649.35,577.4" fill="#0000ff" stroke="#0000ff" stroke-width="2.5" stroke-linejoin="round"/><polygon points="1654.87,574.6 1655.95,577.4 1658.95,577.57 1656.62,579.47 1657.39,582.38 1654.87,580.75 1652.34,582.38 1653.11,579.47 1650.78,577.57 1653.78,577.4" fill="#0000ff" stroke="#0000ff" stroke-width="2.5" stroke-linejoin="round"/><polygon points="1659.3,574.6 1660.38,577.4 1663.39,577.57 1661.05,579.47 1661.82,582.38 1659.3,580.75 1656.77,582.38 1657.54,579.47 1655.21,577.57 1658.21,577.4" fill="#0000ff" stroke="#0000ff" stroke-width="2.5" stroke-linejoin="round"/><polygon points="1663.73,574.6 1664.81,577.4 1667.82,577.57 1665.49,579.47 1666.25,582.38 1663.73,580.75 1661.2,582.38 1661.97,579.47 1659.64,577.57 1662.64,577.4" fill="#0000ff" stroke="#0000ff" stroke-width="2.5" stroke-linejoin="round"/><polygon points="1668.16,574.6 1669.24,577.4 1672.25,577.57 1669.92,579.47 1670.68,582.38 1668.16,580.75 1665.63,582.38 1666.4,579.47 1664.07,577.57 1667.07,577.4" fill="#0000ff" stroke="#0000ff" stroke-width="2.5" stroke-linejoin="round"/><polygon points="1672.59,574.6 1673.67,577.4 1676.68,577.57 1674.35,579.47 1675.11,582.38 1672.59,580.75 1670.06,582.38 1670.83,579.47 1668.5,577.57 1671.5,577.4" fill="#0000ff" stroke="#0000ff" stroke-width="2.5" stroke-linejoin="round"/><polygon points="1677.02,574.6 1678.1,577.4 1681.11,577.57 1678.78,579.47 1679.54,582.38 1677.02,580.75 1674.49,582.38 1675.26,579.47 1672.93,577.57 1675.93,577.4" fill="#0000ff" stroke="#0000ff" stroke-width="2.5" stroke-linejoin="round"/><polygon points="1681.45,574.6 1682.54,577.4 1685.54,577.57 1683.21,579.47 1683.98,582.38 1681.45,580.75 1678.92,582.38 1679.69,579.47 1677.36,577.57 1680.36,577.4" fill="#0000ff" stroke="#0000ff" stroke-width="2.5" stroke-linejoin="round"/><polygon points="1685.88,574.6 1686.97,577.4 1689.97,577.57 1687.64,579.47 1688.41,582.38 1685.88,580.75 1683.35,582.38 1684.12,579.47 1681.79,577.57 1684.79,577.4" fill="#0000ff" stroke="#0000ff" stroke-width="2.5" stroke-linejoin="round"/><polygon points="1690.31,574.6 1691.4,577.4 1694.4,577.57 1692.07,579.47 1692.84,582.38 1690.31,580.75 1687.78,582.38 1688.55,579.47 1686.22,577.57 1689.22,577.4" fill="#0000ff" stroke="#0000ff" stroke-width="2.5" stroke-linejoin="round"/><polygon points="1694.74,574.6 1695.83,577.4 1698.83,577.57 1696.5,579.47 1697.27,582.38 1694.74,580.75 1692.21,582.38 1692.98,579.47 1690.65,577.57 1693.65,577.4" fill="#0000ff" stroke="#0000ff" stroke-width="2.5" stroke-linejoin="round"/><polygon points="1699.17,574.6 1700.26,577.4 1703.26,577.57 1700.93,579.47 1701.7,582.38 1699.17,580.75 1696.64,582.38 1697.41,579.47 1695.08,577.57 1698.08,577.4" fill="#0000ff" stroke="#0000ff" stroke-width="2.5" stroke-linejoin="round"/><polygon points="1703.6,574.6 1704.69,577.4 1707.69,577.57 1705.36,579.47 1706.13,582.38 1703.6,580.75 1701.07,582.38 1701.84,579.47 1699.51,577.57 1702.51,577.4" fill="#0000ff" stroke="#0000ff" stroke-width="2.5" stroke-linejoin="round"/><polygon points="1708.03,574.6 1709.12,577.4 1712.12,577.57 1709.79,579.47 1710.56,582.38 1708.03,580.75 1705.5,582.38 1706.27,579.47 1703.94,577.57 1706.94,577.4" fill="#0000ff" stroke="#0000ff" stroke-width="2.5" stroke-linejoin="round"/><polygon points="1712.46,574.6 1713.55,577.4 1716.55,577.57 1714.22,579.47 1714.99,582.38 1712.46,580.75 1709.93,582.38 1710.7,579.47 1708.37,577.57 1711.37,577.4" fill="#0000ff" stroke="#0000ff" stroke-width="2.5" stroke-linejoin="round"/><polygon points="1716.89,574.6 1717.98,577.4 1720.98,577.57 1718.65,579.47 1719.42,582.38 1716.89,580.75 1714.36,582.38 1715.13,579.47 1712.8,577.57 1715.8,577.4" fill="#0000ff" stroke="#0000ff" stroke-width="2.5" stroke-linejoin="round"/><polygon points="1721.32,574.6 1722.41,577.4 1725.41,577.57 1723.08,579.47 1723.85,582.38 1721.32,580.75 1718.8,582.38 1719.56,579.47 1717.23,577.57 1720.24,577.4" fill="#0000ff" stroke="#0000ff" stroke-width="2.5" stroke-linejoin="round"/><polygon points="1725.75,574.6 1726.84,577.4 1729.84,577.57 1727.51,579.47 1728.28,582.38 1725.75,580.75 1723.23,582.38 1723.99,579.47 1721.66,577.57 1724.67,577.4" fill="#0000ff" stroke="#0000ff" stroke-width="2.5" stroke-linejoin="round"/><polygon points="1730.18,574.6 1731.27,577.4 1734.27,577.57 1731.94,579.47 1732.71,582.38 1730.18,580.75 1727.66,582.38 1728.42,579.47 1726.09,577.57 1729.1,577.4" fill="#0000ff" stroke="#0000ff" stroke-width="2.5" stroke-linejoin="round"/><polygon points="1734.61,574.6 1735.7,577.4 1738.7,577.57 1736.37,579.47 1737.14,582.38 1734.61,580.75 1732.09,582.38 1732.85,579.47 1730.52,577.57 1733.53,577.4" fill="#0000ff" stroke="#0000ff" stroke-width="2.5" stroke-linejoin="round"/><polygon points="1739.04,574.6 1740.13,577.4 1743.13,577.57 1740.8,579.47 1741.57,582.38 1739.04,580.75 1736.52,582.38 1737.29,579.47 1734.95,577.57 1737.96,577.4" fill="#0000ff" stroke="#0000ff" stroke-width="2.5" stroke-linejoin="round"/><polygon points="1743.48,574.6 1744.56,577.4 1747.56,577.57 1745.23,579.47 1746,582.38 1743.48,580.75 1740.95,582.38 1741.72,579.47 1739.39,577.57 1742.39,577.4" fill="#0000ff" stroke="#0000ff" stroke-width="2.5" stroke-linejoin="round"/><polygon points="1747.91,574.6 1748.99,577.4 1752,577.57 1749.66,579.47 1750.43,582.38 1747.91,580.75 1745.38,582.38 1746.15,579.47 1743.82,577.57 1746.82,577.4" fill="#0000ff" stroke="#0000ff" stroke-width="2.5" stroke-linejoin="round"/><polygon points="1752.34,574.6 1753.42,577.4 1756.43,577.57 1754.1,579.47 1754.86,582.38 1752.34,580.75 1749.81,582.38 1750.58,579.47 1748.25,577.57 1751.25,577.4" fill="#0000ff" stroke="#0000ff" stroke-width="2.5" stroke-linejoin="round"/><polygon points="1756.77,574.6 1757.85,577.4 1760.86,577.57 1758.53,579.47 1759.29,582.38 1756.77,580.75 1754.24,582.38 1755.01,579.47 1752.68,577.57 1755.68,577.4" fill="#0000ff" stroke="#0000ff" stroke-width="2.5" stroke-linejoin="round"/><polygon points="1761.2,574.6 1762.28,577.4 1765.29,577.57 1762.96,579.47 1763.72,582.38 1761.2,580.75 1758.67,582.38 1759.44,579.47 1757.11,577.57 1760.11,577.4" fill="#0000ff" stroke="#0000ff" stroke-width="2.5" stroke-linejoin="round"/><polygon points="1765.63,574.6 1766.71,577.4 1769.72,577.57 1767.39,579.47 1768.15,582.38 1765.63,580.75 1763.1,582.38 1763.87,579.47 1761.54,577.57 1764.54,577.4" fill="#0000ff" stroke="#0000ff" stroke-width="2.5" stroke-linejoin="round"/><polygon points="1770.06,574.6 1771.15,577.4 1774.15,577.57 1771.82,579.47 1772.59,582.38 1770.06,580.75 1767.53,582.38 1768.3,579.47 1765.97,577.57 1768.97,577.4" fill="#0000ff" stroke="#0000ff" stroke-width="2.5" stroke-linejoin="round"/><polygon points="1774.49,574.6 1775.58,577.4 1778.58,577.57 1776.25,579.47 1777.02,582.38 1774.49,580.75 1771.96,582.38 1772.73,579.47 1770.4,577.57 1773.4,577.4" fill="#0000ff" stroke="#0000ff" stroke-width="2.5" stroke-linejoin="round"/><polygon points="1778.92,574.6 1780.01,577.4 1783.01,577.57 1780.68,579.47 1781.45,582.38 1778.92,580.75 1776.39,582.38 1777.16,579.47 1774.83,577.57 1777.83,577.4" fill="#0000ff" stroke="#0000ff" stroke-width="2.5" stroke-linejoin="round"/><polygon points="1783.35,574.6 1784.44,577.4 1787.44,577.57 1785.11,579.47 1785.88,582.38 1783.35,580.75 1780.82,582.38 1781.59,579.47 1779.26,577.57 1782.26,577.4" fill="#0000ff" stroke="#0000ff" stroke-width="2.5" stroke-linejoin="round"/><polygon points="1787.78,574.6 1788.87,577.4 1791.87,577.57 1789.54,579.47 1790.31,582.38 1787.78,580.75 1785.25,582.38 1786.02,579.47 1783.69,577.57 1786.69,577.4" fill="#0000ff" stroke="#0000ff" stroke-width="2.5" stroke-linejoin="round"/><polygon points="1792.21,574.6 1793.3,577.4 1796.3,577.57 1793.97,579.47 1794.74,582.38 1792.21,580.75 1789.68,582.38 1790.45,579.47 1788.12,577.57 1791.12,577.4" fill="#0000ff" stroke="#0000ff" stroke-width="2.5" stroke-linejoin="round"/><polygon points="1796.64,574.6 1797.73,577.4 1800.73,577.57 1798.4,579.47 1799.17,582.38 1796.64,580.75 1794.11,582.38 1794.88,579.47 1792.55,577.57 1795.55,577.4" fill="#0000ff" stroke="#0000ff" stroke-width="2.5" stroke-linejoin="round"/><polygon points="1801.07,574.6 1802.16,577.4 1805.16,577.57 1802.83,579.47 1803.6,582.38 1801.07,580.75 1798.54,582.38 1799.31,579.47 1796.98,577.57 1799.98,577.4" fill="#0000ff" stroke="#0000ff" stroke-width="2.5" stroke-linejoin="round"/><polygon points="1805.5,574.6 1806.59,577.4 1809.59,577.57 1807.26,579.47 1808.03,582.38 1805.5,580.75 1802.97,582.38 1803.74,579.47 1801.41,577.57 1804.41,577.4" fill="#0000ff" stroke="#0000ff" stroke-width="2.5" stroke-linejoin="round"/><polygon points="1809.93,574.6 1811.02,577.4 1814.02,577.57 1811.69,579.47 1812.46,582.38 1809.93,580.75 1807.41,582.38 1808.17,579.47 1805.84,577.57 1808.85,577.4" fill="#0000ff" stroke="#0000ff" stroke-width="2.5" stroke-linejoin="round"/><polygon points="1814.36,574.6 1815.45,577.4 1818.45,577.57 1816.12,579.47 1816.89,582.38 1814.36,580.75 1811.84,582.38 1812.6,579.47 1810.27,577.57 1813.28,577.4" fill="#0000ff" stroke="#0000ff" stroke-width="2.5" stroke-linejoin="round"/><polygon points="1818.79,574.6 1819.88,577.4 1822.88,577.57 1820.55,579.47 1821.32,582.38 1818.79,580.75 1816.27,582.38 1817.03,579.47 1814.7,577.57 1817.71,577.4" fill="#0000ff" stroke="#0000ff" stroke-width="2.5" stroke-linejoin="round"/><polygon points="1823.22,574.6 1824.31,577.4 1827.31,577.57 1824.98,579.47 1825.75,582.38 1823.22,580.75 1820.7,582.38 1821.46,579.47 1819.13,577.57 1822.14,577.4" fill="#0000ff" stroke="#0000ff" stroke-width="2.5" stroke-linejoin="round"/><polygon points="1827.65,574.6 1828.74,577.4 1831.74,577.57 1829.41,579.47 1830.18,582.38 1827.65,580.75 1825.13,582.38 1825.9,579.47 1823.56,577.57 1826.57,577.4" fill="#0000ff" stroke="#0000ff" stroke-width="2.5" stroke-linejoin="round"/><polygon points="1832.09,574.6 1833.17,577.4 1836.17,577.57 1833.84,579.47 1834.61,582.38 1832.09,580.75 1829.56,582.38 1830.33,579.47 1828,577.57 1831,577.4" fill="#0000ff" stroke="#0000ff" stroke-width="2.5" stroke-linejoin="round"/><polygon points="1836.52,574.6 1837.6,577.4 1840.61,577.57 1838.27,579.47 1839.04,582.38 1836.52,580.75 1833.99,582.38 1834.76,579.47 1832.43,577.57 1835.43,577.4" fill="#0000ff" stroke="#0000ff" stroke-width="2.5" stroke-linejoin="round"/><polygon points="1840.95,574.6 1842.03,577.4 1845.04,577.57 1842.71,579.47 1843.47,582.38 1840.95,580.75 1838.42,582.38 1839.19,579.47 1836.86,577.57 1839.86,577.4" fill="#0000ff" stroke="#0000ff" stroke-width="2.5" stroke-linejoin="round"/><polygon points="1845.38,574.6 1846.46,577.4 1849.47,577.57 1847.14,579.47 1847.9,582.38 1845.38,580.75 1842.85,582.38 1843.62,579.47 1841.29,577.57 1844.29,577.4" fill="#0000ff" stroke="#0000ff" stroke-width="2.5" stroke-linejoin="round"/><polygon points="1849.81,574.6 1850.89,577.4 1853.9,577.57 1851.57,579.47 1852.33,582.38 1849.81,580.75 1847.28,582.38 1848.05,579.47 1845.72,577.57 1848.72,577.4" fill="#0000ff" stroke="#0000ff" stroke-width="2.5" stroke-linejoin="round"/><polygon points="1854.24,574.6 1855.32,577.4 1858.33,577.57 1856,579.47 1856.76,582.38 1854.24,580.75 1851.71,582.38 1852.48,579.47 1850.15,577.57 1853.15,577.4" fill="#0000ff" stroke="#0000ff" stroke-width="2.5" stroke-linejoin="round"/><polygon points="1858.67,574.6 1859.76,577.4 1862.76,577.57 1860.43,579.47 1861.2,582.38 1858.67,580.75 1856.14,582.38 1856.91,579.47 1854.58,577.57 1857.58,577.4" fill="#0000ff" stroke="#0000ff" stroke-width="2.5" stroke-linejoin="round"/><polygon points="1863.1,574.6 1864.19,577.4 1867.19,577.57 1864.86,579.47 1865.63,582.38 1863.1,580.75 1860.57,582.38 1861.34,579.47 1859.01,577.57 1862.01,577.4" fill="#0000ff" stroke="#0000ff" stroke-width="2.5" stroke-linejoin="round"/><polygon points="1867.53,574.6 1868.62,577.4 1871.62,577.57 1869.29,579.47 1870.06,582.38 1867.53,580.75 1865,582.38 1865.77,579.47 1863.44,577.57 1866.44,577.4" fill="#0000ff" stroke="#0000ff" stroke-width="2.5" stroke-linejoin="round"/><polygon points="1871.96,574.6 1873.05,577.4 1876.05,577.57 1873.72,579.47 1874.49,582.38 1871.96,580.75 1869.43,582.38 1870.2,579.47 1867.87,577.57 1870.87,577.4" fill="#0000ff" stroke="#0000ff" stroke-width="2.5" stroke-linejoin="round"/><polygon points="1876.39,574.6 1877.48,577.4 1880.48,577.57 1878.15,579.47 1878.92,582.38 1876.39,580.75 1873.86,582.38 1874.63,579.47 1872.3,577.57 1875.3,577.4" fill="#0000ff" stroke="#0000ff" stroke-width="2.5" stroke-linejoin="round"/><polygon points="1880.82,574.6 1881.91,577.4 1884.91,577.57 1882.58,579.47 1883.35,582.38 1880.82,580.75 1878.29,582.38 1879.06,579.47 1876.73,577.57 1879.73,577.4" fill="#0000ff" stroke="#0000ff" stroke-width="2.5" stroke-linejoin="round"/><polygon points="1885.25,574.6 1886.34,577.4 1889.34,577.57 1887.01,579.47 1887.78,582.38 1885.25,580.75 1882.72,582.38 1883.49,579.47 1881.16,577.57 1884.16,577.4" fill="#0000ff" stroke="#0000ff" stroke-width="2.5" stroke-linejoin="round"/><polygon points="1889.68,574.6 1890.77,577.4 1893.77,577.57 1891.44,579.47 1892.21,582.38 1889.68,580.75 1887.15,582.38 1887.92,579.47 1885.59,577.57 1888.59,577.4" fill="#0000ff" stroke="#0000ff" stroke-width="2.5" stroke-linejoin="round"/><polygon points="1894.11,574.6 1895.2,577.4 1898.2,577.57 1895.87,579.47 1896.64,582.38 1894.11,580.75 1891.58,582.38 1892.35,579.47 1890.02,577.57 1893.02,577.4" fill="#0000ff" stroke="#0000ff" stroke-width="2.5" stroke-linejoin="round"/><polygon points="1898.54,574.6 1899.63,577.4 1902.63,577.57 1900.3,579.47 1901.07,582.38 1898.54,580.75 1896.02,582.38 1896.78,579.47 1894.45,577.57 1897.46,577.4" fill="#0000ff" stroke="#0000ff" stroke-width="2.5" stroke-linejoin="round"/><polygon points="1902.97,574.6 1904.06,577.4 1907.06,577.57 1904.73,579.47 1905.5,582.38 1902.97,580.75 1900.45,582.38 1901.21,579.47 1898.88,577.57 1901.89,577.4" fill="#0000ff" stroke="#0000ff" stroke-width="2.5" stroke-linejoin="round"/><polygon points="1907.4,574.6 1908.49,577.4 1911.49,577.57 1909.16,579.47 1909.93,582.38 1907.4,580.75 1904.88,582.38 1905.64,579.47 1903.31,577.57 1906.32,577.4" fill="#0000ff" stroke="#0000ff" stroke-width="2.5" stroke-linejoin="round"/><polygon points="1911.83,574.6 1912.92,577.4 1915.92,577.57 1913.59,579.47 1914.36,582.38 1911.83,580.75 1909.31,582.38 1910.07,579.47 1907.74,577.57 1910.75,577.4" fill="#0000ff" stroke="#0000ff" stroke-width="2.5" stroke-linejoin="round"/><polygon points="1916.26,574.6 1917.35,577.4 1920.35,577.57 1918.02,579.47 1918.79,582.38 1916.26,580.75 1913.74,582.38 1914.51,579.47 1912.17,577.57 1915.18,577.4" fill="#0000ff" stroke="#0000ff" stroke-width="2.5" stroke-linejoin="round"/><polygon points="1920.69,574.6 1921.78,577.4 1924.78,577.57 1922.45,579.47 1923.22,582.38 1920.69,580.75 1918.17,582.38 1918.94,579.47 1916.61,577.57 1919.61,577.4" fill="#0000ff" stroke="#0000ff" stroke-width="2.5" stroke-linejoin="round"/><polygon points="1925.13,574.6 1926.21,577.4 1929.22,577.57 1926.88,579.47 1927.65,582.38 1925.13,580.75 1922.6,582.38 1923.37,579.47 1921.04,577.57 1924.04,577.4" fill="#0000ff" stroke="#0000ff" stroke-width="2.5" stroke-linejoin="round"/><polygon points="1929.56,574.6 1930.64,577.4 1933.65,577.57 1931.32,579.47 1932.08,582.38 1929.56,580.75 1927.03,582.38 1927.8,579.47 1925.47,577.57 1928.47,577.4" fill="#0000ff" stroke="#0000ff" stroke-width="2.5" stroke-linejoin="round"/><polygon points="1933.99,574.6 1935.07,577.4 1938.08,577.57 1935.75,579.47 1936.51,582.38 1933.99,580.75 1931.46,582.38 1932.23,579.47 1929.9,577.57 1932.9,577.4" fill="#0000ff" stroke="#0000ff" stroke-width="2.5" stroke-linejoin="round"/><polygon points="1938.42,574.6 1939.5,577.4 1942.51,577.57 1940.18,579.47 1940.94,582.38 1938.42,580.75 1935.89,582.38 1936.66,579.47 1934.33,577.57 1937.33,577.4" fill="#0000ff" stroke="#0000ff" stroke-width="2.5" stroke-linejoin="round"/><polygon points="1942.85,574.6 1943.93,577.4 1946.94,577.57 1944.61,579.47 1945.37,582.38 1942.85,580.75 1940.32,582.38 1941.09,579.47 1938.76,577.57 1941.76,577.4" fill="#0000ff" stroke="#0000ff" stroke-width="2.5" stroke-linejoin="round"/><polygon points="1947.28,574.6 1948.37,577.4 1951.37,577.57 1949.04,579.47 1949.81,582.38 1947.28,580.75 1944.75,582.38 1945.52,579.47 1943.19,577.57 1946.19,577.4" fill="#0000ff" stroke="#0000ff" stroke-width="2.5" stroke-linejoin="round"/><polygon points="1951.71,574.6 1952.8,577.4 1955.8,577.57 1953.47,579.47 1954.24,582.38 1951.71,580.75 1949.18,582.38 1949.95,579.47 1947.62,577.57 1950.62,577.4" fill="#0000ff" stroke="#0000ff" stroke-width="2.5" stroke-linejoin="round"/><polygon points="1956.14,574.6 1957.23,577.4 1960.23,577.57 1957.9,579.47 1958.67,582.38 1956.14,580.75 1953.61,582.38 1954.38,579.47 1952.05,577.57 1955.05,577.4" fill="#0000ff" stroke="#0000ff" stroke-width="2.5" stroke-linejoin="round"/><polygon points="1960.57,574.6 1961.66,577.4 1964.66,577.57 1962.33,579.47 1963.1,582.38 1960.57,580.75 1958.04,582.38 1958.81,579.47 1956.48,577.57 1959.48,577.4" fill="#0000ff" stroke="#0000ff" stroke-width="2.5" stroke-linejoin="round"/><polygon points="1965,574.6 1966.09,577.4 1969.09,577.57 1966.76,579.47 1967.53,582.38 1965,580.75 1962.47,582.38 1963.24,579.47 1960.91,577.57 1963.91,577.4" fill="#0000ff" stroke="#0000ff" stroke-width="2.5" stroke-linejoin="round"/></g>
</g>
<rect x="1077.7" y="27.8" width="886.1" height="577.1" fill="none" stroke="#1c1c1c" stroke-width="1.5"/>
<text x="0" y="0" font-size="42.5" text-anchor="middle" fill="#1c1c1c" transform="translate(1077.7 654.7) scale(1 1.035)">0</text>
<text x="0" y="0" font-size="42.5" text-anchor="middle" fill="#1c1c1c" transform="translate(1225.38 654.7) scale(1 1.035)">100</text>
<text x="0" y="0" font-size="42.5" text-anchor="middle" fill="#1c1c1c" transform="translate(1373.07 654.7) scale(1 1.035)">200</text>
<text x="0" y="0" font-size="42.5" text-anchor="middle" fill="#1c1c1c" transform="translate(1520.75 654.7) scale(1 1.035)">300</text>
<text x="0" y="0" font-size="42.5" text-anchor="middle" fill="#1c1c1c" transform="translate(1668.43 654.7) scale(1 1.035)">400</text>
<text x="0" y="0" font-size="42.5" text-anchor="middle" fill="#1c1c1c" transform="translate(1816.12 654.7) scale(1 1.035)">500</text>
<text x="0" y="0" font-size="42.5" text-anchor="middle" fill="#1c1c1c" transform="translate(1963.8 654.7) scale(1 1.035)">600</text>
<text x="0" y="0" font-size="42.5" text-anchor="end" fill="#1c1c1c" transform="translate(1059.1 595.3) scale(1 1.035)">0.0</text>
<text x="0" y="0" font-size="42.5" text-anchor="end" fill="#1c1c1c" transform="translate(1059.1 469.4) scale(1 1.035)">0.2</text>
<text x="0" y="0" font-size="42.5" text-anchor="end" fill="#1c1c1c" transform="translate(1059.1 343.5) scale(1 1.035)">0.4</text>
<text x="0" y="0" font-size="42.5" text-anchor="end" fill="#1c1c1c" transform="translate(1059.1 217.6) scale(1 1.035)">0.6</text>
<text x="0" y="0" font-size="42.5" text-anchor="end" fill="#1c1c1c" transform="translate(1059.1 91.7) scale(1 1.035)">0.8</text>
<text x="1520.75" y="704.4" font-size="42.5" text-anchor="middle" fill="#1c1c1c">Time (hours)</text>
<text x="981" y="316.35" font-size="42.5" text-anchor="middle" fill="#1c1c1c" transform="rotate(-90 981 316.35)">Relative population size</text>
<rect x="1470.5" y="50.5" width="472.5" height="314.2" rx="7.5" ry="7.5" fill="#fff" fill-opacity="0.8" stroke="#cccccc" stroke-width="1.5"/>
<rect x="1522.5" y="76.1" width="13" height="13" fill="#008000"/>
<polygon points="1529,136.3 1522.3,149.3 1535.7,149.3" fill="#ff0000"/>
<polygon points="1529,199.3 1530.09,202.1 1533.09,202.27 1530.76,204.17 1531.53,207.08 1529,205.45 1526.47,207.08 1527.24,204.17 1524.91,202.27 1527.91,202.1" fill="#ff0000" stroke="#ff0000" stroke-width="2.5" stroke-linejoin="round"/>
<polygon points="1529,257.4 1522.3,270.4 1535.7,270.4" fill="#0000ff"/>
<polygon points="1529,320.7 1530.09,323.5 1533.09,323.67 1530.76,325.57 1531.53,328.48 1529,326.85 1526.47,328.48 1527.24,325.57 1524.91,323.67 1527.91,323.5" fill="#0000ff" stroke="#0000ff" stroke-width="2.5" stroke-linejoin="round"/>
<text x="1605.5" y="96.8" font-size="42.5" text-anchor="start" fill="#1c1c1c">WT</text>
<text x="1605.5" y="157.2" font-size="42.5" text-anchor="start" fill="#1c1c1c">High DC</text>
<text x="1605.5" y="217.6" font-size="42.5" text-anchor="start" fill="#1c1c1c">Fast Clonal Exp.</text>
<text x="1605.5" y="278" font-size="42.5" text-anchor="start" fill="#1c1c1c">Low DC</text>
<text x="1605.5" y="338.4" font-size="42.5" text-anchor="start" fill="#1c1c1c">Slow Clonal Exp.</text>
<g clip-path="url(#cD)">
<g><rect x="1078.8" y="805" width="13" height="13" fill="#008000"/><rect x="1083.2" y="805" width="13" height="13" fill="#008000"/><rect x="1087.6" y="805" width="13" height="13" fill="#008000"/><rect x="1092" y="805" width="13" height="13" fill="#008000"/><rect x="1096.41" y="805" width="13" height="13" fill="#008000"/><rect x="1100.81" y="805" width="13" height="13" fill="#008000"/><rect x="1105.21" y="805" width="13" height="13" fill="#008000"/><rect x="1109.61" y="805.01" width="13" height="13" fill="#008000"/><rect x="1114.01" y="805.01" width="13" height="13" fill="#008000"/><rect x="1118.41" y="805.01" width="13" height="13" fill="#008000"/><rect x="1122.82" y="805.01" width="13" height="13" fill="#008000"/><rect x="1127.22" y="805.02" width="13" height="13" fill="#008000"/><rect x="1131.62" y="805.02" width="13" height="13" fill="#008000"/><rect x="1136.02" y="805.02" width="13" height="13" fill="#008000"/><rect x="1140.42" y="805.03" width="13" height="13" fill="#008000"/><rect x="1144.82" y="805.03" width="13" height="13" fill="#008000"/><rect x="1149.22" y="805.04" width="13" height="13" fill="#008000"/><rect x="1153.63" y="805.05" width="13" height="13" fill="#008000"/><rect x="1158.03" y="805.05" width="13" height="13" fill="#008000"/><rect x="1162.43" y="805.06" width="13" height="13" fill="#008000"/><rect x="1166.83" y="805.07" width="13" height="13" fill="#008000"/><rect x="1171.23" y="805.08" width="13" height="13" fill="#008000"/><rect x="1175.63" y="805.09" width="13" height="13" fill="#008000"/><rect x="1180.03" y="805.1" width="13" height="13" fill="#008000"/><rect x="1184.44" y="805.11" width="13" height="13" fill="#008000"/><rect x="1188.84" y="805.12" width="13" height="13" fill="#008000"/><rect x="1193.24" y="805.13" width="13" height="13" fill="#008000"/><rect x="1197.64" y="805.14" width="13" height="13" fill="#008000"/><rect x="1202.04" y="805.16" width="13" height="13" fill="#008000"/><rect x="1206.44" y="805.17" width="13" height="13" fill="#008000"/><rect x="1210.85" y="805.18" width="13" height="13" fill="#008000"/><rect x="1215.25" y="805.2" width="13" height="13" fill="#008000"/><rect x="1219.65" y="805.22" width="13" height="13" fill="#008000"/><rect x="1224.05" y="805.23" width="13" height="13" fill="#008000"/><rect x="1228.45" y="805.25" width="13" height="13" fill="#008000"/><rect x="1232.85" y="805.27" width="13" height="13" fill="#008000"/><rect x="1237.25" y="805.29" width="13" height="13" fill="#008000"/><rect x="1241.66" y="805.31" width="13" height="13" fill="#008000"/><rect x="1246.06" y="805.34" width="13" height="13" fill="#008000"/><rect x="1250.46" y="805.36" width="13" height="13" fill="#008000"/><rect x="1254.86" y="805.38" width="13" height="13" fill="#008000"/><rect x="1259.26" y="805.41" width="13" height="13" fill="#008000"/><rect x="1263.66" y="805.44" width="13" height="13" fill="#008000"/><rect x="1268.06" y="805.46" width="13" height="13" fill="#008000"/><rect x="1272.47" y="805.49" width="13" height="13" fill="#008000"/><rect x="1276.87" y="805.65" width="13" height="13" fill="#008000"/><rect x="1281.27" y="806.17" width="13" height="13" fill="#008000"/><rect x="1285.67" y="806.98" width="13" height="13" fill="#008000"/><rect x="1290.07" y="807.98" width="13" height="13" fill="#008000"/><rect x="1294.47" y="809.08" width="13" height="13" fill="#008000"/><rect x="1298.88" y="810.2" width="13" height="13" fill="#008000"/><rect x="1303.28" y="811.43" width="13" height="13" fill="#008000"/><rect x="1307.68" y="812.86" width="13" height="13" fill="#008000"/><rect x="1312.08" y="814.5" width="13" height="13" fill="#008000"/><rect x="1316.48" y="816.33" width="13" height="13" fill="#008000"/><rect x="1320.88" y="818.34" width="13" height="13" fill="#008000"/><rect x="1325.28" y="820.55" width="13" height="13" fill="#008000"/><rect x="1329.69" y="822.95" width="13" height="13" fill="#008000"/><rect x="1334.09" y="825.74" width="13" height="13" fill="#008000"/><rect x="1338.49" y="829" width="13" height="13" fill="#008000"/><rect x="1342.89" y="832.8" width="13" height="13" fill="#008000"/><rect x="1347.29" y="837.19" width="13" height="13" fill="#008000"/><rect x="1351.69" y="842.52" width="13" height="13" fill="#008000"/><rect x="1356.09" y="849.43" width="13" height="13" fill="#008000"/><rect x="1360.5" y="857.52" width="13" height="13" fill="#008000"/><rect x="1364.9" y="866.37" width="13" height="13" fill="#008000"/><rect x="1369.3" y="876.79" width="13" height="13" fill="#008000"/><rect x="1373.7" y="888.63" width="13" height="13" fill="#008000"/><rect x="1378.1" y="900.29" width="13" height="13" fill="#008000"/><rect x="1382.5" y="913.51" width="13" height="13" fill="#008000"/><rect x="1386.9" y="928.07" width="13" height="13" fill="#008000"/><rect x="1391.31" y="944.16" width="13" height="13" fill="#008000"/><rect x="1395.71" y="961.48" width="13" height="13" fill="#008000"/><rect x="1400.11" y="982.05" width="13" height="13" fill="#008000"/><rect x="1404.51" y="1006.37" width="13" height="13" fill="#008000"/><rect x="1408.91" y="1027.23" width="13" height="13" fill="#008000"/><rect x="1413.31" y="1054.32" width="13" height="13" fill="#008000"/><rect x="1417.72" y="1082.66" width="13" height="13" fill="#008000"/><rect x="1422.12" y="1112.12" width="13" height="13" fill="#008000"/><rect x="1426.52" y="1143.13" width="13" height="13" fill="#008000"/><rect x="1430.92" y="1176.15" width="13" height="13" fill="#008000"/><rect x="1435.32" y="1208.24" width="13" height="13" fill="#008000"/><rect x="1439.72" y="1239.07" width="13" height="13" fill="#008000"/><rect x="1444.12" y="1268.64" width="13" height="13" fill="#008000"/><rect x="1448.53" y="1291.85" width="13" height="13" fill="#008000"/><rect x="1452.93" y="1308.16" width="13" height="13" fill="#008000"/><rect x="1457.33" y="1314.89" width="13" height="13" fill="#008000"/><rect x="1461.73" y="1319.78" width="13" height="13" fill="#008000"/><rect x="1466.13" y="1322.72" width="13" height="13" fill="#008000"/><rect x="1470.53" y="1324.03" width="13" height="13" fill="#008000"/><rect x="1474.93" y="1324.87" width="13" height="13" fill="#008000"/><rect x="1479.34" y="1325.1" width="13" height="13" fill="#008000"/><rect x="1483.74" y="1325.1" width="13" height="13" fill="#008000"/><rect x="1488.14" y="1325.1" width="13" height="13" fill="#008000"/><rect x="1492.54" y="1325.1" width="13" height="13" fill="#008000"/><rect x="1496.94" y="1325.1" width="13" height="13" fill="#008000"/><rect x="1501.34" y="1325.1" width="13" height="13" fill="#008000"/><rect x="1505.75" y="1325.1" width="13" height="13" fill="#008000"/><rect x="1510.15" y="1325.1" width="13" height="13" fill="#008000"/><rect x="1514.55" y="1325.1" width="13" height="13" fill="#008000"/><rect x="1518.95" y="1325.1" width="13" height="13" fill="#008000"/><rect x="1523.35" y="1325.1" width="13" height="13" fill="#008000"/><rect x="1527.75" y="1325.1" width="13" height="13" fill="#008000"/><rect x="1532.15" y="1325.1" width="13" height="13" fill="#008000"/><rect x="1536.56" y="1325.1" width="13" height="13" fill="#008000"/><rect x="1540.96" y="1325.1" width="13" height="13" fill="#008000"/><rect x="1545.36" y="1325.1" width="13" height="13" fill="#008000"/><rect x="1549.76" y="1325.1" width="13" height="13" fill="#008000"/><rect x="1554.16" y="1325.1" width="13" height="13" fill="#008000"/><rect x="1558.56" y="1325.1" width="13" height="13" fill="#008000"/><rect x="1562.96" y="1325.1" width="13" height="13" fill="#008000"/><rect x="1567.37" y="1325.1" width="13" height="13" fill="#008000"/><rect x="1571.77" y="1325.1" width="13" height="13" fill="#008000"/><rect x="1576.17" y="1325.1" width="13" height="13" fill="#008000"/><rect x="1580.57" y="1325.1" width="13" height="13" fill="#008000"/><rect x="1584.97" y="1325.1" width="13" height="13" fill="#008000"/><rect x="1589.37" y="1325.1" width="13" height="13" fill="#008000"/><rect x="1593.78" y="1325.1" width="13" height="13" fill="#008000"/><rect x="1598.18" y="1325.1" width="13" height="13" fill="#008000"/><rect x="1602.58" y="1325.1" width="13" height="13" fill="#008000"/><rect x="1606.98" y="1325.1" width="13" height="13" fill="#008000"/><rect x="1611.38" y="1325.1" width="13" height="13" fill="#008000"/><rect x="1615.78" y="1325.1" width="13" height="13" fill="#008000"/><rect x="1620.18" y="1325.1" width="13" height="13" fill="#008000"/><rect x="1624.59" y="1325.1" width="13" height="13" fill="#008000"/><rect x="1628.99" y="1325.1" width="13" height="13" fill="#008000"/><rect x="1633.39" y="1325.1" width="13" height="13" fill="#008000"/><rect x="1637.79" y="1325.1" width="13" height="13" fill="#008000"/><rect x="1642.19" y="1325.1" width="13" height="13" fill="#008000"/><rect x="1646.59" y="1325.1" width="13" height="13" fill="#008000"/><rect x="1650.99" y="1325.1" width="13" height="13" fill="#008000"/><rect x="1655.4" y="1325.1" width="13" height="13" fill="#008000"/><rect x="1659.8" y="1325.1" width="13" height="13" fill="#008000"/><rect x="1664.2" y="1325.1" width="13" height="13" fill="#008000"/><rect x="1668.6" y="1325.1" width="13" height="13" fill="#008000"/><rect x="1673" y="1325.1" width="13" height="13" fill="#008000"/><rect x="1677.4" y="1325.1" width="13" height="13" fill="#008000"/><rect x="1681.81" y="1325.1" width="13" height="13" fill="#008000"/><rect x="1686.21" y="1325.1" width="13" height="13" fill="#008000"/><rect x="1690.61" y="1325.1" width="13" height="13" fill="#008000"/><rect x="1695.01" y="1325.1" width="13" height="13" fill="#008000"/><rect x="1699.41" y="1325.1" width="13" height="13" fill="#008000"/><rect x="1703.81" y="1325.1" width="13" height="13" fill="#008000"/><rect x="1708.21" y="1325.1" width="13" height="13" fill="#008000"/><rect x="1712.62" y="1325.1" width="13" height="13" fill="#008000"/><rect x="1717.02" y="1325.1" width="13" height="13" fill="#008000"/><rect x="1721.42" y="1325.1" width="13" height="13" fill="#008000"/><rect x="1725.82" y="1325.1" width="13" height="13" fill="#008000"/><rect x="1730.22" y="1325.1" width="13" height="13" fill="#008000"/><rect x="1734.62" y="1325.1" width="13" height="13" fill="#008000"/><rect x="1739.03" y="1325.1" width="13" height="13" fill="#008000"/><rect x="1743.43" y="1325.1" width="13" height="13" fill="#008000"/><rect x="1747.83" y="1325.1" width="13" height="13" fill="#008000"/><rect x="1752.23" y="1325.1" width="13" height="13" fill="#008000"/><rect x="1756.63" y="1325.1" width="13" height="13" fill="#008000"/><rect x="1761.03" y="1325.1" width="13" height="13" fill="#008000"/><rect x="1765.43" y="1325.1" width="13" height="13" fill="#008000"/><rect x="1769.84" y="1325.1" width="13" height="13" fill="#008000"/><rect x="1774.24" y="1325.1" width="13" height="13" fill="#008000"/><rect x="1778.64" y="1325.1" width="13" height="13" fill="#008000"/><rect x="1783.04" y="1325.1" width="13" height="13" fill="#008000"/><rect x="1787.44" y="1325.1" width="13" height="13" fill="#008000"/><rect x="1791.84" y="1325.1" width="13" height="13" fill="#008000"/><rect x="1796.24" y="1325.1" width="13" height="13" fill="#008000"/><rect x="1800.65" y="1325.1" width="13" height="13" fill="#008000"/><rect x="1805.05" y="1325.1" width="13" height="13" fill="#008000"/><rect x="1809.45" y="1325.1" width="13" height="13" fill="#008000"/><rect x="1813.85" y="1325.1" width="13" height="13" fill="#008000"/><rect x="1818.25" y="1325.1" width="13" height="13" fill="#008000"/><rect x="1822.65" y="1325.1" width="13" height="13" fill="#008000"/><rect x="1827.05" y="1325.1" width="13" height="13" fill="#008000"/><rect x="1831.46" y="1325.1" width="13" height="13" fill="#008000"/><rect x="1835.86" y="1325.1" width="13" height="13" fill="#008000"/><rect x="1840.26" y="1325.1" width="13" height="13" fill="#008000"/><rect x="1844.66" y="1325.1" width="13" height="13" fill="#008000"/><rect x="1849.06" y="1325.1" width="13" height="13" fill="#008000"/><rect x="1853.46" y="1325.1" width="13" height="13" fill="#008000"/><rect x="1857.87" y="1325.1" width="13" height="13" fill="#008000"/><rect x="1862.27" y="1325.1" width="13" height="13" fill="#008000"/><rect x="1866.67" y="1325.1" width="13" height="13" fill="#008000"/><rect x="1871.07" y="1325.1" width="13" height="13" fill="#008000"/><rect x="1875.47" y="1325.1" width="13" height="13" fill="#008000"/><rect x="1879.87" y="1325.1" width="13" height="13" fill="#008000"/><rect x="1884.27" y="1325.1" width="13" height="13" fill="#008000"/><rect x="1888.68" y="1325.1" width="13" height="13" fill="#008000"/><rect x="1893.08" y="1325.1" width="13" height="13" fill="#008000"/><rect x="1897.48" y="1325.1" width="13" height="13" fill="#008000"/><rect x="1901.88" y="1325.1" width="13" height="13" fill="#008000"/><rect x="1906.28" y="1325.1" width="13" height="13" fill="#008000"/><rect x="1910.68" y="1325.1" width="13" height="13" fill="#008000"/><rect x="1915.09" y="1325.1" width="13" height="13" fill="#008000"/><rect x="1919.49" y="1325.1" width="13" height="13" fill="#008000"/><rect x="1923.89" y="1325.1" width="13" height="13" fill="#008000"/><rect x="1928.29" y="1325.1" width="13" height="13" fill="#008000"/><rect x="1932.69" y="1325.1" width="13" height="13" fill="#008000"/><rect x="1937.09" y="1325.1" width="13" height="13" fill="#008000"/><rect x="1941.49" y="1325.1" width="13" height="13" fill="#008000"/><rect x="1945.9" y="1325.1" width="13" height="13" fill="#008000"/><rect x="1950.3" y="1325.1" width="13" height="13" fill="#008000"/><rect x="1954.7" y="1325.1" width="13" height="13" fill="#008000"/><rect x="1959.1" y="1325.1" width="13" height="13" fill="#008000"/></g>
<g><polygon points="1085.3,805.2 1078.6,818.2 1092,818.2" fill="#ff0000"/><polygon points="1089.7,805.2 1083,818.2 1096.4,818.2" fill="#ff0000"/><polygon points="1094.1,805.2 1087.4,818.2 1100.8,818.2" fill="#ff0000"/><polygon points="1098.5,805.2 1091.8,818.2 1105.2,818.2" fill="#ff0000"/><polygon points="1102.91,805.21 1096.21,818.21 1109.61,818.21" fill="#ff0000"/><polygon points="1107.31,805.21 1100.61,818.21 1114.01,818.21" fill="#ff0000"/><polygon points="1111.71,805.22 1105.01,818.22 1118.41,818.22" fill="#ff0000"/><polygon points="1116.11,805.22 1109.41,818.22 1122.81,818.22" fill="#ff0000"/><polygon points="1120.51,805.23 1113.81,818.23 1127.21,818.23" fill="#ff0000"/><polygon points="1124.91,805.24 1118.21,818.24 1131.61,818.24" fill="#ff0000"/><polygon points="1129.32,805.24 1122.62,818.24 1136.02,818.24" fill="#ff0000"/><polygon points="1133.72,805.25 1127.02,818.25 1140.42,818.25" fill="#ff0000"/><polygon points="1138.12,805.27 1131.42,818.27 1144.82,818.27" fill="#ff0000"/><polygon points="1142.52,805.28 1135.82,818.28 1149.22,818.28" fill="#ff0000"/><polygon points="1146.92,805.29 1140.22,818.29 1153.62,818.29" fill="#ff0000"/><polygon points="1151.32,805.31 1144.62,818.31 1158.02,818.31" fill="#ff0000"/><polygon points="1155.72,805.32 1149.02,818.32 1162.42,818.32" fill="#ff0000"/><polygon points="1160.13,805.34 1153.43,818.34 1166.83,818.34" fill="#ff0000"/><polygon points="1164.53,805.36 1157.83,818.36 1171.23,818.36" fill="#ff0000"/><polygon points="1168.93,805.38 1162.23,818.38 1175.63,818.38" fill="#ff0000"/><polygon points="1173.33,805.4 1166.63,818.4 1180.03,818.4" fill="#ff0000"/><polygon points="1177.73,805.43 1171.03,818.43 1184.43,818.43" fill="#ff0000"/><polygon points="1182.13,805.45 1175.43,818.45 1188.83,818.45" fill="#ff0000"/><polygon points="1186.53,805.48 1179.83,818.48 1193.23,818.48" fill="#ff0000"/><polygon points="1190.94,805.51 1184.24,818.51 1197.64,818.51" fill="#ff0000"/><polygon points="1195.34,805.64 1188.64,818.64 1202.04,818.64" fill="#ff0000"/><polygon points="1199.74,805.91 1193.04,818.91 1206.44,818.91" fill="#ff0000"/><polygon points="1204.14,806.3 1197.44,819.3 1210.84,819.3" fill="#ff0000"/><polygon points="1208.54,806.81 1201.84,819.81 1215.24,819.81" fill="#ff0000"/><polygon points="1212.94,807.41 1206.24,820.41 1219.64,820.41" fill="#ff0000"/><polygon points="1217.35,808.11 1210.64,821.11 1224.05,821.11" fill="#ff0000"/><polygon points="1221.75,808.88 1215.05,821.88 1228.45,821.88" fill="#ff0000"/><polygon points="1226.15,809.99 1219.45,822.99 1232.85,822.99" fill="#ff0000"/><polygon points="1230.55,811.82 1223.85,824.82 1237.25,824.82" fill="#ff0000"/><polygon points="1234.95,814.18 1228.25,827.18 1241.65,827.18" fill="#ff0000"/><polygon points="1239.35,816.9 1232.65,829.9 1246.05,829.9" fill="#ff0000"/><polygon points="1243.75,819.8 1237.05,832.8 1250.45,832.8" fill="#ff0000"/><polygon points="1248.16,822.83 1241.46,835.83 1254.86,835.83" fill="#ff0000"/><polygon points="1252.56,826.27 1245.86,839.27 1259.26,839.27" fill="#ff0000"/><polygon points="1256.96,830.22 1250.26,843.22 1263.66,843.22" fill="#ff0000"/><polygon points="1261.36,834.79 1254.66,847.79 1268.06,847.79" fill="#ff0000"/><polygon points="1265.76,840.08 1259.06,853.08 1272.46,853.08" fill="#ff0000"/><polygon points="1270.16,847.63 1263.46,860.63 1276.86,860.63" fill="#ff0000"/><polygon points="1274.56,856.42 1267.86,869.42 1281.26,869.42" fill="#ff0000"/><polygon points="1278.97,865.85 1272.27,878.85 1285.67,878.85" fill="#ff0000"/><polygon points="1283.37,877.21 1276.67,890.21 1290.07,890.21" fill="#ff0000"/><polygon points="1287.77,889.21 1281.07,902.21 1294.47,902.21" fill="#ff0000"/><polygon points="1292.17,903.7 1285.47,916.7 1298.87,916.7" fill="#ff0000"/><polygon points="1296.57,919.02 1289.87,932.02 1303.27,932.02" fill="#ff0000"/><polygon points="1300.97,936.99 1294.27,949.99 1307.67,949.99" fill="#ff0000"/><polygon points="1305.38,956.85 1298.67,969.85 1312.08,969.85" fill="#ff0000"/><polygon points="1309.78,978.4 1303.08,991.4 1316.48,991.4" fill="#ff0000"/><polygon points="1314.18,1002.79 1307.48,1015.79 1320.88,1015.79" fill="#ff0000"/><polygon points="1318.58,1027.45 1311.88,1040.45 1325.28,1040.45" fill="#ff0000"/><polygon points="1322.98,1057.86 1316.28,1070.86 1329.68,1070.86" fill="#ff0000"/><polygon points="1327.38,1088.43 1320.68,1101.43 1334.08,1101.43" fill="#ff0000"/><polygon points="1331.78,1123.27 1325.08,1136.27 1338.48,1136.27" fill="#ff0000"/><polygon points="1336.19,1158.18 1329.49,1171.18 1342.89,1171.18" fill="#ff0000"/><polygon points="1340.59,1193.89 1333.89,1206.89 1347.29,1206.89" fill="#ff0000"/><polygon points="1344.99,1229.61 1338.29,1242.61 1351.69,1242.61" fill="#ff0000"/><polygon points="1349.39,1260.97 1342.69,1273.97 1356.09,1273.97" fill="#ff0000"/><polygon points="1353.79,1288.24 1347.09,1301.24 1360.49,1301.24" fill="#ff0000"/><polygon points="1358.19,1307.76 1351.49,1320.76 1364.89,1320.76" fill="#ff0000"/><polygon points="1362.59,1318.52 1355.89,1331.52 1369.29,1331.52" fill="#ff0000"/><polygon points="1367,1322.68 1360.3,1335.68 1373.7,1335.68" fill="#ff0000"/><polygon points="1371.4,1324.02 1364.7,1337.02 1378.1,1337.02" fill="#ff0000"/><polygon points="1375.8,1324.83 1369.1,1337.83 1382.5,1337.83" fill="#ff0000"/><polygon points="1380.2,1325.1 1373.5,1338.1 1386.9,1338.1" fill="#ff0000"/><polygon points="1384.6,1325.1 1377.9,1338.1 1391.3,1338.1" fill="#ff0000"/><polygon points="1389,1325.1 1382.3,1338.1 1395.7,1338.1" fill="#ff0000"/><polygon points="1393.4,1325.1 1386.7,1338.1 1400.11,1338.1" fill="#ff0000"/><polygon points="1397.81,1325.1 1391.11,1338.1 1404.51,1338.1" fill="#ff0000"/><polygon points="1402.21,1325.1 1395.51,1338.1 1408.91,1338.1" fill="#ff0000"/><polygon points="1406.61,1325.1 1399.91,1338.1 1413.31,1338.1" fill="#ff0000"/><polygon points="1411.01,1325.1 1404.31,1338.1 1417.71,1338.1" fill="#ff0000"/><polygon points="1415.41,1325.1 1408.71,1338.1 1422.11,1338.1" fill="#ff0000"/><polygon points="1419.81,1325.1 1413.11,1338.1 1426.51,1338.1" fill="#ff0000"/><polygon points="1424.22,1325.1 1417.52,1338.1 1430.92,1338.1" fill="#ff0000"/><polygon points="1428.62,1325.1 1421.92,1338.1 1435.32,1338.1" fill="#ff0000"/><polygon points="1433.02,1325.1 1426.32,1338.1 1439.72,1338.1" fill="#ff0000"/><polygon points="1437.42,1325.1 1430.72,1338.1 1444.12,1338.1" fill="#ff0000"/><polygon points="1441.82,1325.1 1435.12,1338.1 1448.52,1338.1" fill="#ff0000"/><polygon points="1446.22,1325.1 1439.52,1338.1 1452.92,1338.1" fill="#ff0000"/><polygon points="1450.62,1325.1 1443.92,1338.1 1457.32,1338.1" fill="#ff0000"/><polygon points="1455.03,1325.1 1448.33,1338.1 1461.73,1338.1" fill="#ff0000"/><polygon points="1459.43,1325.1 1452.73,1338.1 1466.13,1338.1" fill="#ff0000"/><polygon points="1463.83,1325.1 1457.13,1338.1 1470.53,1338.1" fill="#ff0000"/><polygon points="1468.23,1325.1 1461.53,1338.1 1474.93,1338.1" fill="#ff0000"/><polygon points="1472.63,1325.1 1465.93,1338.1 1479.33,1338.1" fill="#ff0000"/><polygon points="1477.03,1325.1 1470.33,1338.1 1483.73,1338.1" fill="#ff0000"/><polygon points="1481.43,1325.1 1474.73,1338.1 1488.13,1338.1" fill="#ff0000"/><polygon points="1485.84,1325.1 1479.14,1338.1 1492.54,1338.1" fill="#ff0000"/><polygon points="1490.24,1325.1 1483.54,1338.1 1496.94,1338.1" fill="#ff0000"/><polygon points="1494.64,1325.1 1487.94,1338.1 1501.34,1338.1" fill="#ff0000"/><polygon points="1499.04,1325.1 1492.34,1338.1 1505.74,1338.1" fill="#ff0000"/><polygon points="1503.44,1325.1 1496.74,1338.1 1510.14,1338.1" fill="#ff0000"/><polygon points="1507.84,1325.1 1501.14,1338.1 1514.54,1338.1" fill="#ff0000"/><polygon points="1512.25,1325.1 1505.55,1338.1 1518.95,1338.1" fill="#ff0000"/><polygon points="1516.65,1325.1 1509.95,1338.1 1523.35,1338.1" fill="#ff0000"/><polygon points="1521.05,1325.1 1514.35,1338.1 1527.75,1338.1" fill="#ff0000"/><polygon points="1525.45,1325.1 1518.75,1338.1 1532.15,1338.1" fill="#ff0000"/><polygon points="1529.85,1325.1 1523.15,1338.1 1536.55,1338.1" fill="#ff0000"/><polygon points="1534.25,1325.1 1527.55,1338.1 1540.95,1338.1" fill="#ff0000"/><polygon points="1538.65,1325.1 1531.95,1338.1 1545.35,1338.1" fill="#ff0000"/><polygon points="1543.06,1325.1 1536.36,1338.1 1549.76,1338.1" fill="#ff0000"/><polygon points="1547.46,1325.1 1540.76,1338.1 1554.16,1338.1" fill="#ff0000"/><polygon points="1551.86,1325.1 1545.16,1338.1 1558.56,1338.1" fill="#ff0000"/><polygon points="1556.26,1325.1 1549.56,1338.1 1562.96,1338.1" fill="#ff0000"/><polygon points="1560.66,1325.1 1553.96,1338.1 1567.36,1338.1" fill="#ff0000"/><polygon points="1565.06,1325.1 1558.36,1338.1 1571.76,1338.1" fill="#ff0000"/><polygon points="1569.46,1325.1 1562.76,1338.1 1576.16,1338.1" fill="#ff0000"/><polygon points="1573.87,1325.1 1567.17,1338.1 1580.57,1338.1" fill="#ff0000"/><polygon points="1578.27,1325.1 1571.57,1338.1 1584.97,1338.1" fill="#ff0000"/><polygon points="1582.67,1325.1 1575.97,1338.1 1589.37,1338.1" fill="#ff0000"/><polygon points="1587.07,1325.1 1580.37,1338.1 1593.77,1338.1" fill="#ff0000"/><polygon points="1591.47,1325.1 1584.77,1338.1 1598.17,1338.1" fill="#ff0000"/><polygon points="1595.87,1325.1 1589.17,1338.1 1602.57,1338.1" fill="#ff0000"/><polygon points="1600.28,1325.1 1593.58,1338.1 1606.98,1338.1" fill="#ff0000"/><polygon points="1604.68,1325.1 1597.98,1338.1 1611.38,1338.1" fill="#ff0000"/><polygon points="1609.08,1325.1 1602.38,1338.1 1615.78,1338.1" fill="#ff0000"/><polygon points="1613.48,1325.1 1606.78,1338.1 1620.18,1338.1" fill="#ff0000"/><polygon points="1617.88,1325.1 1611.18,1338.1 1624.58,1338.1" fill="#ff0000"/><polygon points="1622.28,1325.1 1615.58,1338.1 1628.98,1338.1" fill="#ff0000"/><polygon points="1626.68,1325.1 1619.98,1338.1 1633.38,1338.1" fill="#ff0000"/><polygon points="1631.09,1325.1 1624.39,1338.1 1637.79,1338.1" fill="#ff0000"/><polygon points="1635.49,1325.1 1628.79,1338.1 1642.19,1338.1" fill="#ff0000"/><polygon points="1639.89,1325.1 1633.19,1338.1 1646.59,1338.1" fill="#ff0000"/><polygon points="1644.29,1325.1 1637.59,1338.1 1650.99,1338.1" fill="#ff0000"/><polygon points="1648.69,1325.1 1641.99,1338.1 1655.39,1338.1" fill="#ff0000"/><polygon points="1653.09,1325.1 1646.39,1338.1 1659.79,1338.1" fill="#ff0000"/><polygon points="1657.49,1325.1 1650.79,1338.1 1664.19,1338.1" fill="#ff0000"/><polygon points="1661.9,1325.1 1655.2,1338.1 1668.6,1338.1" fill="#ff0000"/><polygon points="1666.3,1325.1 1659.6,1338.1 1673,1338.1" fill="#ff0000"/><polygon points="1670.7,1325.1 1664,1338.1 1677.4,1338.1" fill="#ff0000"/><polygon points="1675.1,1325.1 1668.4,1338.1 1681.8,1338.1" fill="#ff0000"/><polygon points="1679.5,1325.1 1672.8,1338.1 1686.2,1338.1" fill="#ff0000"/><polygon points="1683.9,1325.1 1677.2,1338.1 1690.6,1338.1" fill="#ff0000"/><polygon points="1688.31,1325.1 1681.61,1338.1 1695.01,1338.1" fill="#ff0000"/><polygon points="1692.71,1325.1 1686.01,1338.1 1699.41,1338.1" fill="#ff0000"/><polygon points="1697.11,1325.1 1690.41,1338.1 1703.81,1338.1" fill="#ff0000"/><polygon points="1701.51,1325.1 1694.81,1338.1 1708.21,1338.1" fill="#ff0000"/><polygon points="1705.91,1325.1 1699.21,1338.1 1712.61,1338.1" fill="#ff0000"/><polygon points="1710.31,1325.1 1703.61,1338.1 1717.01,1338.1" fill="#ff0000"/><polygon points="1714.71,1325.1 1708.01,1338.1 1721.41,1338.1" fill="#ff0000"/><polygon points="1719.12,1325.1 1712.42,1338.1 1725.82,1338.1" fill="#ff0000"/><polygon points="1723.52,1325.1 1716.82,1338.1 1730.22,1338.1" fill="#ff0000"/><polygon points="1727.92,1325.1 1721.22,1338.1 1734.62,1338.1" fill="#ff0000"/><polygon points="1732.32,1325.1 1725.62,1338.1 1739.02,1338.1" fill="#ff0000"/><polygon points="1736.72,1325.1 1730.02,1338.1 1743.42,1338.1" fill="#ff0000"/><polygon points="1741.12,1325.1 1734.42,1338.1 1747.82,1338.1" fill="#ff0000"/><polygon points="1745.53,1325.1 1738.83,1338.1 1752.23,1338.1" fill="#ff0000"/><polygon points="1749.93,1325.1 1743.23,1338.1 1756.63,1338.1" fill="#ff0000"/><polygon points="1754.33,1325.1 1747.63,1338.1 1761.03,1338.1" fill="#ff0000"/><polygon points="1758.73,1325.1 1752.03,1338.1 1765.43,1338.1" fill="#ff0000"/><polygon points="1763.13,1325.1 1756.43,1338.1 1769.83,1338.1" fill="#ff0000"/><polygon points="1767.53,1325.1 1760.83,1338.1 1774.23,1338.1" fill="#ff0000"/><polygon points="1771.93,1325.1 1765.23,1338.1 1778.63,1338.1" fill="#ff0000"/><polygon points="1776.34,1325.1 1769.64,1338.1 1783.04,1338.1" fill="#ff0000"/><polygon points="1780.74,1325.1 1774.04,1338.1 1787.44,1338.1" fill="#ff0000"/><polygon points="1785.14,1325.1 1778.44,1338.1 1791.84,1338.1" fill="#ff0000"/><polygon points="1789.54,1325.1 1782.84,1338.1 1796.24,1338.1" fill="#ff0000"/><polygon points="1793.94,1325.1 1787.24,1338.1 1800.64,1338.1" fill="#ff0000"/><polygon points="1798.34,1325.1 1791.64,1338.1 1805.04,1338.1" fill="#ff0000"/><polygon points="1802.74,1325.1 1796.04,1338.1 1809.44,1338.1" fill="#ff0000"/><polygon points="1807.15,1325.1 1800.45,1338.1 1813.85,1338.1" fill="#ff0000"/><polygon points="1811.55,1325.1 1804.85,1338.1 1818.25,1338.1" fill="#ff0000"/><polygon points="1815.95,1325.1 1809.25,1338.1 1822.65,1338.1" fill="#ff0000"/><polygon points="1820.35,1325.1 1813.65,1338.1 1827.05,1338.1" fill="#ff0000"/><polygon points="1824.75,1325.1 1818.05,1338.1 1831.45,1338.1" fill="#ff0000"/><polygon points="1829.15,1325.1 1822.45,1338.1 1835.85,1338.1" fill="#ff0000"/><polygon points="1833.55,1325.1 1826.85,1338.1 1840.25,1338.1" fill="#ff0000"/><polygon points="1837.96,1325.1 1831.26,1338.1 1844.66,1338.1" fill="#ff0000"/><polygon points="1842.36,1325.1 1835.66,1338.1 1849.06,1338.1" fill="#ff0000"/><polygon points="1846.76,1325.1 1840.06,1338.1 1853.46,1338.1" fill="#ff0000"/><polygon points="1851.16,1325.1 1844.46,1338.1 1857.86,1338.1" fill="#ff0000"/><polygon points="1855.56,1325.1 1848.86,1338.1 1862.26,1338.1" fill="#ff0000"/><polygon points="1859.96,1325.1 1853.26,1338.1 1866.66,1338.1" fill="#ff0000"/><polygon points="1864.37,1325.1 1857.67,1338.1 1871.07,1338.1" fill="#ff0000"/><polygon points="1868.77,1325.1 1862.07,1338.1 1875.47,1338.1" fill="#ff0000"/><polygon points="1873.17,1325.1 1866.47,1338.1 1879.87,1338.1" fill="#ff0000"/><polygon points="1877.57,1325.1 1870.87,1338.1 1884.27,1338.1" fill="#ff0000"/><polygon points="1881.97,1325.1 1875.27,1338.1 1888.67,1338.1" fill="#ff0000"/><polygon points="1886.37,1325.1 1879.67,1338.1 1893.07,1338.1" fill="#ff0000"/><polygon points="1890.77,1325.1 1884.07,1338.1 1897.47,1338.1" fill="#ff0000"/><polygon points="1895.18,1325.1 1888.48,1338.1 1901.88,1338.1" fill="#ff0000"/><polygon points="1899.58,1325.1 1892.88,1338.1 1906.28,1338.1" fill="#ff0000"/><polygon points="1903.98,1325.1 1897.28,1338.1 1910.68,1338.1" fill="#ff0000"/><polygon points="1908.38,1325.1 1901.68,1338.1 1915.08,1338.1" fill="#ff0000"/><polygon points="1912.78,1325.1 1906.08,1338.1 1919.48,1338.1" fill="#ff0000"/><polygon points="1917.18,1325.1 1910.48,1338.1 1923.88,1338.1" fill="#ff0000"/><polygon points="1921.59,1325.1 1914.88,1338.1 1928.29,1338.1" fill="#ff0000"/><polygon points="1925.99,1325.1 1919.29,1338.1 1932.69,1338.1" fill="#ff0000"/><polygon points="1930.39,1325.1 1923.69,1338.1 1937.09,1338.1" fill="#ff0000"/><polygon points="1934.79,1325.1 1928.09,1338.1 1941.49,1338.1" fill="#ff0000"/><polygon points="1939.19,1325.1 1932.49,1338.1 1945.89,1338.1" fill="#ff0000"/><polygon points="1943.59,1325.1 1936.89,1338.1 1950.29,1338.1" fill="#ff0000"/><polygon points="1947.99,1325.1 1941.29,1338.1 1954.69,1338.1" fill="#ff0000"/><polygon points="1952.4,1325.1 1945.7,1338.1 1959.1,1338.1" fill="#ff0000"/><polygon points="1956.8,1325.1 1950.1,1338.1 1963.5,1338.1" fill="#ff0000"/><polygon points="1961.2,1325.1 1954.5,1338.1 1967.9,1338.1" fill="#ff0000"/><polygon points="1965.6,1325.1 1958.9,1338.1 1972.3,1338.1" fill="#ff0000"/></g>
<g><polygon points="1085.3,807 1086.39,809.8 1089.39,809.97 1087.06,811.87 1087.83,814.78 1085.3,813.15 1082.77,814.78 1083.54,811.87 1081.21,809.97 1084.21,809.8" fill="#0000ff" stroke="#0000ff" stroke-width="2.5" stroke-linejoin="round"/><polygon points="1089.7,807 1090.79,809.8 1093.79,809.97 1091.46,811.87 1092.23,814.78 1089.7,813.15 1087.17,814.78 1087.94,811.87 1085.61,809.97 1088.61,809.8" fill="#0000ff" stroke="#0000ff" stroke-width="2.5" stroke-linejoin="round"/><polygon points="1094.1,807 1095.19,809.8 1098.19,809.97 1095.86,811.87 1096.63,814.78 1094.1,813.15 1091.58,814.78 1092.34,811.87 1090.01,809.97 1093.02,809.8" fill="#0000ff" stroke="#0000ff" stroke-width="2.5" stroke-linejoin="round"/><polygon points="1098.5,807 1099.59,809.8 1102.59,809.97 1100.26,811.87 1101.03,814.78 1098.5,813.15 1095.98,814.78 1096.75,811.87 1094.41,809.97 1097.42,809.8" fill="#0000ff" stroke="#0000ff" stroke-width="2.5" stroke-linejoin="round"/><polygon points="1102.91,807 1103.99,809.8 1107,809.97 1104.67,811.87 1105.43,814.78 1102.91,813.15 1100.38,814.78 1101.15,811.87 1098.82,809.97 1101.82,809.8" fill="#0000ff" stroke="#0000ff" stroke-width="2.5" stroke-linejoin="round"/><polygon points="1107.31,807 1108.39,809.8 1111.4,809.97 1109.07,811.87 1109.83,814.78 1107.31,813.15 1104.78,814.78 1105.55,811.87 1103.22,809.97 1106.22,809.8" fill="#0000ff" stroke="#0000ff" stroke-width="2.5" stroke-linejoin="round"/><polygon points="1111.71,807 1112.8,809.8 1115.8,809.97 1113.47,811.87 1114.24,814.78 1111.71,813.15 1109.18,814.78 1109.95,811.87 1107.62,809.97 1110.62,809.8" fill="#0000ff" stroke="#0000ff" stroke-width="2.5" stroke-linejoin="round"/><polygon points="1116.11,807 1117.2,809.8 1120.2,809.97 1117.87,811.87 1118.64,814.78 1116.11,813.15 1113.58,814.78 1114.35,811.87 1112.02,809.97 1115.02,809.8" fill="#0000ff" stroke="#0000ff" stroke-width="2.5" stroke-linejoin="round"/><polygon points="1120.51,807 1121.6,809.8 1124.6,809.97 1122.27,811.87 1123.04,814.78 1120.51,813.15 1117.98,814.78 1118.75,811.87 1116.42,809.97 1119.42,809.8" fill="#0000ff" stroke="#0000ff" stroke-width="2.5" stroke-linejoin="round"/><polygon points="1124.91,807 1126,809.8 1129,809.97 1126.67,811.87 1127.44,814.78 1124.91,813.15 1122.39,814.78 1123.15,811.87 1120.82,809.97 1123.83,809.8" fill="#0000ff" stroke="#0000ff" stroke-width="2.5" stroke-linejoin="round"/><polygon points="1129.32,807 1130.4,809.8 1133.4,809.97 1131.07,811.87 1131.84,814.78 1129.32,813.15 1126.79,814.78 1127.56,811.87 1125.23,809.97 1128.23,809.8" fill="#0000ff" stroke="#0000ff" stroke-width="2.5" stroke-linejoin="round"/><polygon points="1133.72,807 1134.8,809.8 1137.81,809.97 1135.48,811.87 1136.24,814.78 1133.72,813.15 1131.19,814.78 1131.96,811.87 1129.63,809.97 1132.63,809.8" fill="#0000ff" stroke="#0000ff" stroke-width="2.5" stroke-linejoin="round"/><polygon points="1138.12,807 1139.21,809.8 1142.21,809.97 1139.88,811.87 1140.65,814.78 1138.12,813.15 1135.59,814.78 1136.36,811.87 1134.03,809.97 1137.03,809.8" fill="#0000ff" stroke="#0000ff" stroke-width="2.5" stroke-linejoin="round"/><polygon points="1142.52,807 1143.61,809.8 1146.61,809.97 1144.28,811.87 1145.05,814.78 1142.52,813.15 1139.99,814.78 1140.76,811.87 1138.43,809.97 1141.43,809.8" fill="#0000ff" stroke="#0000ff" stroke-width="2.5" stroke-linejoin="round"/><polygon points="1146.92,807 1148.01,809.8 1151.01,809.97 1148.68,811.87 1149.45,814.78 1146.92,813.15 1144.39,814.78 1145.16,811.87 1142.83,809.97 1145.83,809.8" fill="#0000ff" stroke="#0000ff" stroke-width="2.5" stroke-linejoin="round"/><polygon points="1151.32,807 1152.41,809.8 1155.41,809.97 1153.08,811.87 1153.85,814.78 1151.32,813.15 1148.8,814.78 1149.56,811.87 1147.23,809.97 1150.24,809.8" fill="#0000ff" stroke="#0000ff" stroke-width="2.5" stroke-linejoin="round"/><polygon points="1155.72,807 1156.81,809.8 1159.81,809.97 1157.48,811.87 1158.25,814.78 1155.72,813.15 1153.2,814.78 1153.96,811.87 1151.63,809.97 1154.64,809.8" fill="#0000ff" stroke="#0000ff" stroke-width="2.5" stroke-linejoin="round"/><polygon points="1160.13,807 1161.21,809.8 1164.22,809.97 1161.88,811.87 1162.65,814.78 1160.13,813.15 1157.6,814.78 1158.37,811.87 1156.04,809.97 1159.04,809.8" fill="#0000ff" stroke="#0000ff" stroke-width="2.5" stroke-linejoin="round"/><polygon points="1164.53,807 1165.61,809.8 1168.62,809.97 1166.29,811.87 1167.05,814.78 1164.53,813.15 1162,814.78 1162.77,811.87 1160.44,809.97 1163.44,809.8" fill="#0000ff" stroke="#0000ff" stroke-width="2.5" stroke-linejoin="round"/><polygon points="1168.93,807 1170.02,809.8 1173.02,809.97 1170.69,811.87 1171.46,814.78 1168.93,813.15 1166.4,814.78 1167.17,811.87 1164.84,809.97 1167.84,809.8" fill="#0000ff" stroke="#0000ff" stroke-width="2.5" stroke-linejoin="round"/><polygon points="1173.33,807 1174.42,809.8 1177.42,809.97 1175.09,811.87 1175.86,814.78 1173.33,813.15 1170.8,814.78 1171.57,811.87 1169.24,809.97 1172.24,809.8" fill="#0000ff" stroke="#0000ff" stroke-width="2.5" stroke-linejoin="round"/><polygon points="1177.73,807 1178.82,809.8 1181.82,809.97 1179.49,811.87 1180.26,814.78 1177.73,813.15 1175.2,814.78 1175.97,811.87 1173.64,809.97 1176.64,809.8" fill="#0000ff" stroke="#0000ff" stroke-width="2.5" stroke-linejoin="round"/><polygon points="1182.13,807 1183.22,809.8 1186.22,809.97 1183.89,811.87 1184.66,814.78 1182.13,813.15 1179.61,814.78 1180.37,811.87 1178.04,809.97 1181.05,809.8" fill="#0000ff" stroke="#0000ff" stroke-width="2.5" stroke-linejoin="round"/><polygon points="1186.53,807 1187.62,809.8 1190.62,809.97 1188.29,811.87 1189.06,814.78 1186.53,813.15 1184.01,814.78 1184.78,811.87 1182.44,809.97 1185.45,809.8" fill="#0000ff" stroke="#0000ff" stroke-width="2.5" stroke-linejoin="round"/><polygon points="1190.94,807 1192.02,809.8 1195.03,809.97 1192.7,811.87 1193.46,814.78 1190.94,813.15 1188.41,814.78 1189.18,811.87 1186.85,809.97 1189.85,809.8" fill="#0000ff" stroke="#0000ff" stroke-width="2.5" stroke-linejoin="round"/><polygon points="1195.34,807 1196.42,809.8 1199.43,809.97 1197.1,811.87 1197.86,814.78 1195.34,813.15 1192.81,814.78 1193.58,811.87 1191.25,809.97 1194.25,809.8" fill="#0000ff" stroke="#0000ff" stroke-width="2.5" stroke-linejoin="round"/><polygon points="1199.74,807 1200.83,809.8 1203.83,809.97 1201.5,811.87 1202.27,814.78 1199.74,813.15 1197.21,814.78 1197.98,811.87 1195.65,809.97 1198.65,809.8" fill="#0000ff" stroke="#0000ff" stroke-width="2.5" stroke-linejoin="round"/><polygon points="1204.14,807 1205.23,809.8 1208.23,809.97 1205.9,811.87 1206.67,814.78 1204.14,813.15 1201.61,814.78 1202.38,811.87 1200.05,809.97 1203.05,809.8" fill="#0000ff" stroke="#0000ff" stroke-width="2.5" stroke-linejoin="round"/><polygon points="1208.54,807 1209.63,809.8 1212.63,809.97 1210.3,811.87 1211.07,814.78 1208.54,813.15 1206.01,814.78 1206.78,811.87 1204.45,809.97 1207.45,809.8" fill="#0000ff" stroke="#0000ff" stroke-width="2.5" stroke-linejoin="round"/><polygon points="1212.94,807 1214.03,809.8 1217.03,809.97 1214.7,811.87 1215.47,814.78 1212.94,813.15 1210.42,814.78 1211.18,811.87 1208.85,809.97 1211.86,809.8" fill="#0000ff" stroke="#0000ff" stroke-width="2.5" stroke-linejoin="round"/><polygon points="1217.35,807 1218.43,809.8 1221.43,809.97 1219.1,811.87 1219.87,814.78 1217.35,813.15 1214.82,814.78 1215.59,811.87 1213.26,809.97 1216.26,809.8" fill="#0000ff" stroke="#0000ff" stroke-width="2.5" stroke-linejoin="round"/><polygon points="1221.75,807 1222.83,809.8 1225.84,809.97 1223.51,811.87 1224.27,814.78 1221.75,813.15 1219.22,814.78 1219.99,811.87 1217.66,809.97 1220.66,809.8" fill="#0000ff" stroke="#0000ff" stroke-width="2.5" stroke-linejoin="round"/><polygon points="1226.15,807 1227.24,809.8 1230.24,809.97 1227.91,811.87 1228.68,814.78 1226.15,813.15 1223.62,814.78 1224.39,811.87 1222.06,809.97 1225.06,809.8" fill="#0000ff" stroke="#0000ff" stroke-width="2.5" stroke-linejoin="round"/><polygon points="1230.55,807 1231.64,809.8 1234.64,809.97 1232.31,811.87 1233.08,814.78 1230.55,813.15 1228.02,814.78 1228.79,811.87 1226.46,809.97 1229.46,809.8" fill="#0000ff" stroke="#0000ff" stroke-width="2.5" stroke-linejoin="round"/><polygon points="1234.95,807 1236.04,809.8 1239.04,809.97 1236.71,811.87 1237.48,814.78 1234.95,813.15 1232.42,814.78 1233.19,811.87 1230.86,809.97 1233.86,809.8" fill="#0000ff" stroke="#0000ff" stroke-width="2.5" stroke-linejoin="round"/><polygon points="1239.35,807 1240.44,809.8 1243.44,809.97 1241.11,811.87 1241.88,814.78 1239.35,813.15 1236.83,814.78 1237.59,811.87 1235.26,809.97 1238.27,809.8" fill="#0000ff" stroke="#0000ff" stroke-width="2.5" stroke-linejoin="round"/><polygon points="1243.75,807 1244.84,809.8 1247.84,809.97 1245.51,811.87 1246.28,814.78 1243.75,813.15 1241.23,814.78 1241.99,811.87 1239.66,809.97 1242.67,809.8" fill="#0000ff" stroke="#0000ff" stroke-width="2.5" stroke-linejoin="round"/><polygon points="1248.16,807 1249.24,809.8 1252.25,809.97 1249.91,811.87 1250.68,814.78 1248.16,813.15 1245.63,814.78 1246.4,811.87 1244.07,809.97 1247.07,809.8" fill="#0000ff" stroke="#0000ff" stroke-width="2.5" stroke-linejoin="round"/><polygon points="1252.56,807 1253.64,809.8 1256.65,809.97 1254.32,811.87 1255.08,814.78 1252.56,813.15 1250.03,814.78 1250.8,811.87 1248.47,809.97 1251.47,809.8" fill="#0000ff" stroke="#0000ff" stroke-width="2.5" stroke-linejoin="round"/><polygon points="1256.96,807 1258.05,809.8 1261.05,809.97 1258.72,811.87 1259.49,814.78 1256.96,813.15 1254.43,814.78 1255.2,811.87 1252.87,809.97 1255.87,809.8" fill="#0000ff" stroke="#0000ff" stroke-width="2.5" stroke-linejoin="round"/><polygon points="1261.36,807 1262.45,809.8 1265.45,809.97 1263.12,811.87 1263.89,814.78 1261.36,813.15 1258.83,814.78 1259.6,811.87 1257.27,809.97 1260.27,809.8" fill="#0000ff" stroke="#0000ff" stroke-width="2.5" stroke-linejoin="round"/><polygon points="1265.76,807 1266.85,809.8 1269.85,809.97 1267.52,811.87 1268.29,814.78 1265.76,813.15 1263.23,814.78 1264,811.87 1261.67,809.97 1264.67,809.8" fill="#0000ff" stroke="#0000ff" stroke-width="2.5" stroke-linejoin="round"/><polygon points="1270.16,807 1271.25,809.8 1274.25,809.97 1271.92,811.87 1272.69,814.78 1270.16,813.15 1267.64,814.78 1268.4,811.87 1266.07,809.97 1269.08,809.8" fill="#0000ff" stroke="#0000ff" stroke-width="2.5" stroke-linejoin="round"/><polygon points="1274.56,807 1275.65,809.8 1278.65,809.97 1276.32,811.87 1277.09,814.78 1274.56,813.15 1272.04,814.78 1272.81,811.87 1270.47,809.97 1273.48,809.8" fill="#0000ff" stroke="#0000ff" stroke-width="2.5" stroke-linejoin="round"/><polygon points="1278.97,807 1280.05,809.8 1283.06,809.97 1280.73,811.87 1281.49,814.78 1278.97,813.15 1276.44,814.78 1277.21,811.87 1274.88,809.97 1277.88,809.8" fill="#0000ff" stroke="#0000ff" stroke-width="2.5" stroke-linejoin="round"/><polygon points="1283.37,807 1284.45,809.8 1287.46,809.97 1285.13,811.87 1285.89,814.78 1283.37,813.15 1280.84,814.78 1281.61,811.87 1279.28,809.97 1282.28,809.8" fill="#0000ff" stroke="#0000ff" stroke-width="2.5" stroke-linejoin="round"/><polygon points="1287.77,807 1288.86,809.8 1291.86,809.97 1289.53,811.87 1290.3,814.78 1287.77,813.15 1285.24,814.78 1286.01,811.87 1283.68,809.97 1286.68,809.8" fill="#0000ff" stroke="#0000ff" stroke-width="2.5" stroke-linejoin="round"/><polygon points="1292.17,807 1293.26,809.8 1296.26,809.97 1293.93,811.87 1294.7,814.78 1292.17,813.15 1289.64,814.78 1290.41,811.87 1288.08,809.97 1291.08,809.8" fill="#0000ff" stroke="#0000ff" stroke-width="2.5" stroke-linejoin="round"/><polygon points="1296.57,807 1297.66,809.8 1300.66,809.97 1298.33,811.87 1299.1,814.78 1296.57,813.15 1294.04,814.78 1294.81,811.87 1292.48,809.97 1295.48,809.8" fill="#0000ff" stroke="#0000ff" stroke-width="2.5" stroke-linejoin="round"/><polygon points="1300.97,807 1302.06,809.8 1305.06,809.97 1302.73,811.87 1303.5,814.78 1300.97,813.15 1298.45,814.78 1299.21,811.87 1296.88,809.97 1299.89,809.8" fill="#0000ff" stroke="#0000ff" stroke-width="2.5" stroke-linejoin="round"/><polygon points="1305.38,807 1306.46,809.8 1309.46,809.97 1307.13,811.87 1307.9,814.78 1305.38,813.15 1302.85,814.78 1303.62,811.87 1301.29,809.97 1304.29,809.8" fill="#0000ff" stroke="#0000ff" stroke-width="2.5" stroke-linejoin="round"/><polygon points="1309.78,807 1310.86,809.8 1313.87,809.97 1311.54,811.87 1312.3,814.78 1309.78,813.15 1307.25,814.78 1308.02,811.87 1305.69,809.97 1308.69,809.8" fill="#0000ff" stroke="#0000ff" stroke-width="2.5" stroke-linejoin="round"/><polygon points="1314.18,807 1315.27,809.8 1318.27,809.97 1315.94,811.87 1316.71,814.78 1314.18,813.15 1311.65,814.78 1312.42,811.87 1310.09,809.97 1313.09,809.8" fill="#0000ff" stroke="#0000ff" stroke-width="2.5" stroke-linejoin="round"/><polygon points="1318.58,807 1319.67,809.8 1322.67,809.97 1320.34,811.87 1321.11,814.78 1318.58,813.15 1316.05,814.78 1316.82,811.87 1314.49,809.97 1317.49,809.8" fill="#0000ff" stroke="#0000ff" stroke-width="2.5" stroke-linejoin="round"/><polygon points="1322.98,807 1324.07,809.8 1327.07,809.97 1324.74,811.87 1325.51,814.78 1322.98,813.15 1320.45,814.78 1321.22,811.87 1318.89,809.97 1321.89,809.8" fill="#0000ff" stroke="#0000ff" stroke-width="2.5" stroke-linejoin="round"/><polygon points="1327.38,807 1328.47,809.8 1331.47,809.97 1329.14,811.87 1329.91,814.78 1327.38,813.15 1324.86,814.78 1325.62,811.87 1323.29,809.97 1326.3,809.8" fill="#0000ff" stroke="#0000ff" stroke-width="2.5" stroke-linejoin="round"/><polygon points="1331.78,807 1332.87,809.8 1335.87,809.97 1333.54,811.87 1334.31,814.78 1331.78,813.15 1329.26,814.78 1330.02,811.87 1327.69,809.97 1330.7,809.8" fill="#0000ff" stroke="#0000ff" stroke-width="2.5" stroke-linejoin="round"/><polygon points="1336.19,807 1337.27,809.8 1340.28,809.97 1337.94,811.87 1338.71,814.78 1336.19,813.15 1333.66,814.78 1334.43,811.87 1332.1,809.97 1335.1,809.8" fill="#0000ff" stroke="#0000ff" stroke-width="2.5" stroke-linejoin="round"/><polygon points="1340.59,807 1341.67,809.8 1344.68,809.97 1342.35,811.87 1343.11,814.78 1340.59,813.15 1338.06,814.78 1338.83,811.87 1336.5,809.97 1339.5,809.8" fill="#0000ff" stroke="#0000ff" stroke-width="2.5" stroke-linejoin="round"/><polygon points="1344.99,807 1346.08,809.8 1349.08,809.97 1346.75,811.87 1347.52,814.78 1344.99,813.15 1342.46,814.78 1343.23,811.87 1340.9,809.97 1343.9,809.8" fill="#0000ff" stroke="#0000ff" stroke-width="2.5" stroke-linejoin="round"/><polygon points="1349.39,807 1350.48,809.8 1353.48,809.97 1351.15,811.87 1351.92,814.78 1349.39,813.15 1346.86,814.78 1347.63,811.87 1345.3,809.97 1348.3,809.8" fill="#0000ff" stroke="#0000ff" stroke-width="2.5" stroke-linejoin="round"/><polygon points="1353.79,807 1354.88,809.8 1357.88,809.97 1355.55,811.87 1356.32,814.78 1353.79,813.15 1351.26,814.78 1352.03,811.87 1349.7,809.97 1352.7,809.8" fill="#0000ff" stroke="#0000ff" stroke-width="2.5" stroke-linejoin="round"/><polygon points="1358.19,807 1359.28,809.8 1362.28,809.97 1359.95,811.87 1360.72,814.78 1358.19,813.15 1355.67,814.78 1356.43,811.87 1354.1,809.97 1357.11,809.8" fill="#0000ff" stroke="#0000ff" stroke-width="2.5" stroke-linejoin="round"/><polygon points="1362.59,807 1363.68,809.8 1366.68,809.97 1364.35,811.87 1365.12,814.78 1362.59,813.15 1360.07,814.78 1360.84,811.87 1358.5,809.97 1361.51,809.8" fill="#0000ff" stroke="#0000ff" stroke-width="2.5" stroke-linejoin="round"/><polygon points="1367,807 1368.08,809.8 1371.09,809.97 1368.76,811.87 1369.52,814.78 1367,813.15 1364.47,814.78 1365.24,811.87 1362.91,809.97 1365.91,809.8" fill="#0000ff" stroke="#0000ff" stroke-width="2.5" stroke-linejoin="round"/><polygon points="1371.4,807 1372.48,809.8 1375.49,809.97 1373.16,811.87 1373.92,814.78 1371.4,813.15 1368.87,814.78 1369.64,811.87 1367.31,809.97 1370.31,809.8" fill="#0000ff" stroke="#0000ff" stroke-width="2.5" stroke-linejoin="round"/><polygon points="1375.8,807 1376.89,809.8 1379.89,809.97 1377.56,811.87 1378.33,814.78 1375.8,813.15 1373.27,814.78 1374.04,811.87 1371.71,809.97 1374.71,809.8" fill="#0000ff" stroke="#0000ff" stroke-width="2.5" stroke-linejoin="round"/><polygon points="1380.2,807 1381.29,809.8 1384.29,809.97 1381.96,811.87 1382.73,814.78 1380.2,813.15 1377.67,814.78 1378.44,811.87 1376.11,809.97 1379.11,809.8" fill="#0000ff" stroke="#0000ff" stroke-width="2.5" stroke-linejoin="round"/><polygon points="1384.6,807 1385.69,809.8 1388.69,809.97 1386.36,811.87 1387.13,814.78 1384.6,813.15 1382.07,814.78 1382.84,811.87 1380.51,809.97 1383.51,809.8" fill="#0000ff" stroke="#0000ff" stroke-width="2.5" stroke-linejoin="round"/><polygon points="1389,807 1390.09,809.8 1393.09,809.97 1390.76,811.87 1391.53,814.78 1389,813.15 1386.48,814.78 1387.24,811.87 1384.91,809.97 1387.92,809.8" fill="#0000ff" stroke="#0000ff" stroke-width="2.5" stroke-linejoin="round"/><polygon points="1393.4,807 1394.49,809.8 1397.49,809.97 1395.16,811.87 1395.93,814.78 1393.4,813.15 1390.88,814.78 1391.65,811.87 1389.32,809.97 1392.32,809.8" fill="#0000ff" stroke="#0000ff" stroke-width="2.5" stroke-linejoin="round"/><polygon points="1397.81,807 1398.89,809.8 1401.9,809.97 1399.57,811.87 1400.33,814.78 1397.81,813.15 1395.28,814.78 1396.05,811.87 1393.72,809.97 1396.72,809.8" fill="#0000ff" stroke="#0000ff" stroke-width="2.5" stroke-linejoin="round"/><polygon points="1402.21,807 1403.3,809.8 1406.3,809.97 1403.97,811.87 1404.74,814.78 1402.21,813.15 1399.68,814.78 1400.45,811.87 1398.12,809.97 1401.12,809.8" fill="#0000ff" stroke="#0000ff" stroke-width="2.5" stroke-linejoin="round"/><polygon points="1406.61,807 1407.7,809.8 1410.7,809.97 1408.37,811.87 1409.14,814.78 1406.61,813.15 1404.08,814.78 1404.85,811.87 1402.52,809.97 1405.52,809.8" fill="#0000ff" stroke="#0000ff" stroke-width="2.5" stroke-linejoin="round"/><polygon points="1411.01,807 1412.1,809.8 1415.1,809.97 1412.77,811.87 1413.54,814.78 1411.01,813.15 1408.48,814.78 1409.25,811.87 1406.92,809.97 1409.92,809.8" fill="#0000ff" stroke="#0000ff" stroke-width="2.5" stroke-linejoin="round"/><polygon points="1415.41,807 1416.5,809.8 1419.5,809.97 1417.17,811.87 1417.94,814.78 1415.41,813.15 1412.89,814.78 1413.65,811.87 1411.32,809.97 1414.33,809.8" fill="#0000ff" stroke="#0000ff" stroke-width="2.5" stroke-linejoin="round"/><polygon points="1419.81,807 1420.9,809.8 1423.9,809.97 1421.57,811.87 1422.34,814.78 1419.81,813.15 1417.29,814.78 1418.05,811.87 1415.72,809.97 1418.73,809.8" fill="#0000ff" stroke="#0000ff" stroke-width="2.5" stroke-linejoin="round"/><polygon points="1424.22,807 1425.3,809.8 1428.31,809.97 1425.97,811.87 1426.74,814.78 1424.22,813.15 1421.69,814.78 1422.46,811.87 1420.13,809.97 1423.13,809.8" fill="#0000ff" stroke="#0000ff" stroke-width="2.5" stroke-linejoin="round"/><polygon points="1428.62,807 1429.7,809.8 1432.71,809.97 1430.38,811.87 1431.14,814.78 1428.62,813.15 1426.09,814.78 1426.86,811.87 1424.53,809.97 1427.53,809.8" fill="#0000ff" stroke="#0000ff" stroke-width="2.5" stroke-linejoin="round"/><polygon points="1433.02,807 1434.11,809.8 1437.11,809.97 1434.78,811.87 1435.55,814.78 1433.02,813.15 1430.49,814.78 1431.26,811.87 1428.93,809.97 1431.93,809.8" fill="#0000ff" stroke="#0000ff" stroke-width="2.5" stroke-linejoin="round"/><polygon points="1437.42,807 1438.51,809.8 1441.51,809.97 1439.18,811.87 1439.95,814.78 1437.42,813.15 1434.89,814.78 1435.66,811.87 1433.33,809.97 1436.33,809.8" fill="#0000ff" stroke="#0000ff" stroke-width="2.5" stroke-linejoin="round"/><polygon points="1441.82,807 1442.91,809.8 1445.91,809.97 1443.58,811.87 1444.35,814.78 1441.82,813.15 1439.29,814.78 1440.06,811.87 1437.73,809.97 1440.73,809.8" fill="#0000ff" stroke="#0000ff" stroke-width="2.5" stroke-linejoin="round"/><polygon points="1446.22,807 1447.31,809.8 1450.31,809.97 1447.98,811.87 1448.75,814.78 1446.22,813.15 1443.7,814.78 1444.46,811.87 1442.13,809.97 1445.14,809.8" fill="#0000ff" stroke="#0000ff" stroke-width="2.5" stroke-linejoin="round"/><polygon points="1450.62,807 1451.71,809.8 1454.71,809.97 1452.38,811.87 1453.15,814.78 1450.62,813.15 1448.1,814.78 1448.87,811.87 1446.53,809.97 1449.54,809.8" fill="#0000ff" stroke="#0000ff" stroke-width="2.5" stroke-linejoin="round"/><polygon points="1455.03,807 1456.11,809.8 1459.12,809.97 1456.79,811.87 1457.55,814.78 1455.03,813.15 1452.5,814.78 1453.27,811.87 1450.94,809.97 1453.94,809.8" fill="#0000ff" stroke="#0000ff" stroke-width="2.5" stroke-linejoin="round"/><polygon points="1459.43,807 1460.51,809.8 1463.52,809.97 1461.19,811.87 1461.95,814.78 1459.43,813.15 1456.9,814.78 1457.67,811.87 1455.34,809.97 1458.34,809.8" fill="#0000ff" stroke="#0000ff" stroke-width="2.5" stroke-linejoin="round"/><polygon points="1463.83,807 1464.92,809.8 1467.92,809.97 1465.59,811.87 1466.36,814.78 1463.83,813.15 1461.3,814.78 1462.07,811.87 1459.74,809.97 1462.74,809.8" fill="#0000ff" stroke="#0000ff" stroke-width="2.5" stroke-linejoin="round"/><polygon points="1468.23,807 1469.32,809.8 1472.32,809.97 1469.99,811.87 1470.76,814.78 1468.23,813.15 1465.7,814.78 1466.47,811.87 1464.14,809.97 1467.14,809.8" fill="#0000ff" stroke="#0000ff" stroke-width="2.5" stroke-linejoin="round"/><polygon points="1472.63,807 1473.72,809.8 1476.72,809.97 1474.39,811.87 1475.16,814.78 1472.63,813.15 1470.1,814.78 1470.87,811.87 1468.54,809.97 1471.54,809.8" fill="#0000ff" stroke="#0000ff" stroke-width="2.5" stroke-linejoin="round"/><polygon points="1477.03,807 1478.12,809.8 1481.12,809.97 1478.79,811.87 1479.56,814.78 1477.03,813.15 1474.51,814.78 1475.27,811.87 1472.94,809.97 1475.95,809.8" fill="#0000ff" stroke="#0000ff" stroke-width="2.5" stroke-linejoin="round"/><polygon points="1481.43,807 1482.52,809.8 1485.52,809.97 1483.19,811.87 1483.96,814.78 1481.43,813.15 1478.91,814.78 1479.68,811.87 1477.35,809.97 1480.35,809.8" fill="#0000ff" stroke="#0000ff" stroke-width="2.5" stroke-linejoin="round"/><polygon points="1485.84,807 1486.92,809.8 1489.93,809.97 1487.6,811.87 1488.36,814.78 1485.84,813.15 1483.31,814.78 1484.08,811.87 1481.75,809.97 1484.75,809.8" fill="#0000ff" stroke="#0000ff" stroke-width="2.5" stroke-linejoin="round"/><polygon points="1490.24,807 1491.33,809.8 1494.33,809.97 1492,811.87 1492.77,814.78 1490.24,813.15 1487.71,814.78 1488.48,811.87 1486.15,809.97 1489.15,809.8" fill="#0000ff" stroke="#0000ff" stroke-width="2.5" stroke-linejoin="round"/><polygon points="1494.64,807 1495.73,809.8 1498.73,809.97 1496.4,811.87 1497.17,814.78 1494.64,813.15 1492.11,814.78 1492.88,811.87 1490.55,809.97 1493.55,809.8" fill="#0000ff" stroke="#0000ff" stroke-width="2.5" stroke-linejoin="round"/><polygon points="1499.04,807 1500.13,809.8 1503.13,809.97 1500.8,811.87 1501.57,814.78 1499.04,813.15 1496.51,814.78 1497.28,811.87 1494.95,809.97 1497.95,809.8" fill="#0000ff" stroke="#0000ff" stroke-width="2.5" stroke-linejoin="round"/><polygon points="1503.44,807 1504.53,809.8 1507.53,809.97 1505.2,811.87 1505.97,814.78 1503.44,813.15 1500.92,814.78 1501.68,811.87 1499.35,809.97 1502.36,809.8" fill="#0000ff" stroke="#0000ff" stroke-width="2.5" stroke-linejoin="round"/><polygon points="1507.84,807 1508.93,809.8 1511.93,809.97 1509.6,811.87 1510.37,814.78 1507.84,813.15 1505.32,814.78 1506.08,811.87 1503.75,809.97 1506.76,809.8" fill="#0000ff" stroke="#0000ff" stroke-width="2.5" stroke-linejoin="round"/><polygon points="1512.25,807 1513.33,809.8 1516.34,809.97 1514,811.87 1514.77,814.78 1512.25,813.15 1509.72,814.78 1510.49,811.87 1508.16,809.97 1511.16,809.8" fill="#0000ff" stroke="#0000ff" stroke-width="2.5" stroke-linejoin="round"/><polygon points="1516.65,807 1517.73,809.8 1520.74,809.97 1518.41,811.87 1519.17,814.78 1516.65,813.15 1514.12,814.78 1514.89,811.87 1512.56,809.97 1515.56,809.8" fill="#0000ff" stroke="#0000ff" stroke-width="2.5" stroke-linejoin="round"/><polygon points="1521.05,807 1522.14,809.8 1525.14,809.97 1522.81,811.87 1523.58,814.78 1521.05,813.15 1518.52,814.78 1519.29,811.87 1516.96,809.97 1519.96,809.8" fill="#0000ff" stroke="#0000ff" stroke-width="2.5" stroke-linejoin="round"/><polygon points="1525.45,807 1526.54,809.8 1529.54,809.97 1527.21,811.87 1527.98,814.78 1525.45,813.15 1522.92,814.78 1523.69,811.87 1521.36,809.97 1524.36,809.8" fill="#0000ff" stroke="#0000ff" stroke-width="2.5" stroke-linejoin="round"/><polygon points="1529.85,807 1530.94,809.8 1533.94,809.97 1531.61,811.87 1532.38,814.78 1529.85,813.15 1527.32,814.78 1528.09,811.87 1525.76,809.97 1528.76,809.8" fill="#0000ff" stroke="#0000ff" stroke-width="2.5" stroke-linejoin="round"/><polygon points="1534.25,807 1535.34,809.8 1538.34,809.97 1536.01,811.87 1536.78,814.78 1534.25,813.15 1531.73,814.78 1532.49,811.87 1530.16,809.97 1533.17,809.8" fill="#0000ff" stroke="#0000ff" stroke-width="2.5" stroke-linejoin="round"/><polygon points="1538.65,807 1539.74,809.8 1542.74,809.97 1540.41,811.87 1541.18,814.78 1538.65,813.15 1536.13,814.78 1536.9,811.87 1534.56,809.97 1537.57,809.8" fill="#0000ff" stroke="#0000ff" stroke-width="2.5" stroke-linejoin="round"/><polygon points="1543.06,807 1544.14,809.8 1547.15,809.97 1544.82,811.87 1545.58,814.78 1543.06,813.15 1540.53,814.78 1541.3,811.87 1538.97,809.97 1541.97,809.8" fill="#0000ff" stroke="#0000ff" stroke-width="2.5" stroke-linejoin="round"/><polygon points="1547.46,807 1548.54,809.8 1551.55,809.97 1549.22,811.87 1549.98,814.78 1547.46,813.15 1544.93,814.78 1545.7,811.87 1543.37,809.97 1546.37,809.8" fill="#0000ff" stroke="#0000ff" stroke-width="2.5" stroke-linejoin="round"/><polygon points="1551.86,807 1552.95,809.8 1555.95,809.97 1553.62,811.87 1554.39,814.78 1551.86,813.15 1549.33,814.78 1550.1,811.87 1547.77,809.97 1550.77,809.8" fill="#0000ff" stroke="#0000ff" stroke-width="2.5" stroke-linejoin="round"/><polygon points="1556.26,807 1557.35,809.8 1560.35,809.97 1558.02,811.87 1558.79,814.78 1556.26,813.15 1553.73,814.78 1554.5,811.87 1552.17,809.97 1555.17,809.8" fill="#0000ff" stroke="#0000ff" stroke-width="2.5" stroke-linejoin="round"/><polygon points="1560.66,807 1561.75,809.8 1564.75,809.97 1562.42,811.87 1563.19,814.78 1560.66,813.15 1558.13,814.78 1558.9,811.87 1556.57,809.97 1559.57,809.8" fill="#0000ff" stroke="#0000ff" stroke-width="2.5" stroke-linejoin="round"/><polygon points="1565.06,807 1566.15,809.8 1569.15,809.97 1566.82,811.87 1567.59,814.78 1565.06,813.15 1562.54,814.78 1563.3,811.87 1560.97,809.97 1563.98,809.8" fill="#0000ff" stroke="#0000ff" stroke-width="2.5" stroke-linejoin="round"/><polygon points="1569.46,807 1570.55,809.8 1573.55,809.97 1571.22,811.87 1571.99,814.78 1569.46,813.15 1566.94,814.78 1567.71,811.87 1565.38,809.97 1568.38,809.8" fill="#0000ff" stroke="#0000ff" stroke-width="2.5" stroke-linejoin="round"/><polygon points="1573.87,807 1574.95,809.8 1577.96,809.97 1575.63,811.87 1576.39,814.78 1573.87,813.15 1571.34,814.78 1572.11,811.87 1569.78,809.97 1572.78,809.8" fill="#0000ff" stroke="#0000ff" stroke-width="2.5" stroke-linejoin="round"/><polygon points="1578.27,807 1579.36,809.8 1582.36,809.97 1580.03,811.87 1580.8,814.78 1578.27,813.15 1575.74,814.78 1576.51,811.87 1574.18,809.97 1577.18,809.8" fill="#0000ff" stroke="#0000ff" stroke-width="2.5" stroke-linejoin="round"/><polygon points="1582.67,807 1583.76,809.8 1586.76,809.97 1584.43,811.87 1585.2,814.78 1582.67,813.15 1580.14,814.78 1580.91,811.87 1578.58,809.97 1581.58,809.8" fill="#0000ff" stroke="#0000ff" stroke-width="2.5" stroke-linejoin="round"/><polygon points="1587.07,807 1588.16,809.8 1591.16,809.97 1588.83,811.87 1589.6,814.78 1587.07,813.15 1584.54,814.78 1585.31,811.87 1582.98,809.97 1585.98,809.8" fill="#0000ff" stroke="#0000ff" stroke-width="2.5" stroke-linejoin="round"/><polygon points="1591.47,807 1592.56,809.8 1595.56,809.97 1593.23,811.87 1594,814.78 1591.47,813.15 1588.95,814.78 1589.71,811.87 1587.38,809.97 1590.39,809.8" fill="#0000ff" stroke="#0000ff" stroke-width="2.5" stroke-linejoin="round"/><polygon points="1595.87,807 1596.96,809.8 1599.96,809.97 1597.63,811.87 1598.4,814.78 1595.87,813.15 1593.35,814.78 1594.11,811.87 1591.78,809.97 1594.79,809.8" fill="#0000ff" stroke="#0000ff" stroke-width="2.5" stroke-linejoin="round"/><polygon points="1600.28,807 1601.36,809.8 1604.37,809.97 1602.03,811.87 1602.8,814.78 1600.28,813.15 1597.75,814.78 1598.52,811.87 1596.19,809.97 1599.19,809.8" fill="#0000ff" stroke="#0000ff" stroke-width="2.5" stroke-linejoin="round"/><polygon points="1604.68,807 1605.76,809.8 1608.77,809.97 1606.44,811.87 1607.2,814.78 1604.68,813.15 1602.15,814.78 1602.92,811.87 1600.59,809.97 1603.59,809.8" fill="#0000ff" stroke="#0000ff" stroke-width="2.5" stroke-linejoin="round"/><polygon points="1609.08,807 1610.17,809.8 1613.17,809.97 1610.84,811.87 1611.61,814.78 1609.08,813.15 1606.55,814.78 1607.32,811.87 1604.99,809.97 1607.99,809.8" fill="#0000ff" stroke="#0000ff" stroke-width="2.5" stroke-linejoin="round"/><polygon points="1613.48,807 1614.57,809.8 1617.57,809.97 1615.24,811.87 1616.01,814.78 1613.48,813.15 1610.95,814.78 1611.72,811.87 1609.39,809.97 1612.39,809.8" fill="#0000ff" stroke="#0000ff" stroke-width="2.5" stroke-linejoin="round"/><polygon points="1617.88,807 1618.97,809.8 1621.97,809.97 1619.64,811.87 1620.41,814.78 1617.88,813.15 1615.35,814.78 1616.12,811.87 1613.79,809.97 1616.79,809.8" fill="#0000ff" stroke="#0000ff" stroke-width="2.5" stroke-linejoin="round"/><polygon points="1622.28,807 1623.37,809.8 1626.37,809.97 1624.04,811.87 1624.81,814.78 1622.28,813.15 1619.76,814.78 1620.52,811.87 1618.19,809.97 1621.2,809.8" fill="#0000ff" stroke="#0000ff" stroke-width="2.5" stroke-linejoin="round"/><polygon points="1626.68,807 1627.77,809.8 1630.77,809.97 1628.44,811.87 1629.21,814.78 1626.68,813.15 1624.16,814.78 1624.93,811.87 1622.59,809.97 1625.6,809.8" fill="#0000ff" stroke="#0000ff" stroke-width="2.5" stroke-linejoin="round"/><polygon points="1631.09,807 1632.17,809.8 1635.18,809.97 1632.85,811.87 1633.61,814.78 1631.09,813.15 1628.56,814.78 1629.33,811.87 1627,809.97 1630,809.8" fill="#0000ff" stroke="#0000ff" stroke-width="2.5" stroke-linejoin="round"/><polygon points="1635.49,807 1636.57,809.8 1639.58,809.97 1637.25,811.87 1638.01,814.78 1635.49,813.15 1632.96,814.78 1633.73,811.87 1631.4,809.97 1634.4,809.8" fill="#0000ff" stroke="#0000ff" stroke-width="2.5" stroke-linejoin="round"/><polygon points="1639.89,807 1640.98,809.8 1643.98,809.97 1641.65,811.87 1642.42,814.78 1639.89,813.15 1637.36,814.78 1638.13,811.87 1635.8,809.97 1638.8,809.8" fill="#0000ff" stroke="#0000ff" stroke-width="2.5" stroke-linejoin="round"/><polygon points="1644.29,807 1645.38,809.8 1648.38,809.97 1646.05,811.87 1646.82,814.78 1644.29,813.15 1641.76,814.78 1642.53,811.87 1640.2,809.97 1643.2,809.8" fill="#0000ff" stroke="#0000ff" stroke-width="2.5" stroke-linejoin="round"/><polygon points="1648.69,807 1649.78,809.8 1652.78,809.97 1650.45,811.87 1651.22,814.78 1648.69,813.15 1646.16,814.78 1646.93,811.87 1644.6,809.97 1647.6,809.8" fill="#0000ff" stroke="#0000ff" stroke-width="2.5" stroke-linejoin="round"/><polygon points="1653.09,807 1654.18,809.8 1657.18,809.97 1654.85,811.87 1655.62,814.78 1653.09,813.15 1650.57,814.78 1651.33,811.87 1649,809.97 1652.01,809.8" fill="#0000ff" stroke="#0000ff" stroke-width="2.5" stroke-linejoin="round"/><polygon points="1657.49,807 1658.58,809.8 1661.58,809.97 1659.25,811.87 1660.02,814.78 1657.49,813.15 1654.97,814.78 1655.74,811.87 1653.41,809.97 1656.41,809.8" fill="#0000ff" stroke="#0000ff" stroke-width="2.5" stroke-linejoin="round"/><polygon points="1661.9,807 1662.98,809.8 1665.99,809.97 1663.66,811.87 1664.42,814.78 1661.9,813.15 1659.37,814.78 1660.14,811.87 1657.81,809.97 1660.81,809.8" fill="#0000ff" stroke="#0000ff" stroke-width="2.5" stroke-linejoin="round"/><polygon points="1666.3,807 1667.39,809.8 1670.39,809.97 1668.06,811.87 1668.83,814.78 1666.3,813.15 1663.77,814.78 1664.54,811.87 1662.21,809.97 1665.21,809.8" fill="#0000ff" stroke="#0000ff" stroke-width="2.5" stroke-linejoin="round"/><polygon points="1670.7,807 1671.79,809.8 1674.79,809.97 1672.46,811.87 1673.23,814.78 1670.7,813.15 1668.17,814.78 1668.94,811.87 1666.61,809.97 1669.61,809.8" fill="#0000ff" stroke="#0000ff" stroke-width="2.5" stroke-linejoin="round"/><polygon points="1675.1,807 1676.19,809.8 1679.19,809.97 1676.86,811.87 1677.63,814.78 1675.1,813.15 1672.57,814.78 1673.34,811.87 1671.01,809.97 1674.01,809.8" fill="#0000ff" stroke="#0000ff" stroke-width="2.5" stroke-linejoin="round"/><polygon points="1679.5,807 1680.59,809.8 1683.59,809.97 1681.26,811.87 1682.03,814.78 1679.5,813.15 1676.98,814.78 1677.74,811.87 1675.41,809.97 1678.42,809.8" fill="#0000ff" stroke="#0000ff" stroke-width="2.5" stroke-linejoin="round"/><polygon points="1683.9,807 1684.99,809.8 1687.99,809.97 1685.66,811.87 1686.43,814.78 1683.9,813.15 1681.38,814.78 1682.14,811.87 1679.81,809.97 1682.82,809.8" fill="#0000ff" stroke="#0000ff" stroke-width="2.5" stroke-linejoin="round"/><polygon points="1688.31,807 1689.39,809.8 1692.4,809.97 1690.06,811.87 1690.83,814.78 1688.31,813.15 1685.78,814.78 1686.55,811.87 1684.22,809.97 1687.22,809.8" fill="#0000ff" stroke="#0000ff" stroke-width="2.5" stroke-linejoin="round"/><polygon points="1692.71,807 1693.79,809.8 1696.8,809.97 1694.47,811.87 1695.23,814.78 1692.71,813.15 1690.18,814.78 1690.95,811.87 1688.62,809.97 1691.62,809.8" fill="#0000ff" stroke="#0000ff" stroke-width="2.5" stroke-linejoin="round"/><polygon points="1697.11,807 1698.2,809.8 1701.2,809.97 1698.87,811.87 1699.64,814.78 1697.11,813.15 1694.58,814.78 1695.35,811.87 1693.02,809.97 1696.02,809.8" fill="#0000ff" stroke="#0000ff" stroke-width="2.5" stroke-linejoin="round"/><polygon points="1701.51,807 1702.6,809.8 1705.6,809.97 1703.27,811.87 1704.04,814.78 1701.51,813.15 1698.98,814.78 1699.75,811.87 1697.42,809.97 1700.42,809.8" fill="#0000ff" stroke="#0000ff" stroke-width="2.5" stroke-linejoin="round"/><polygon points="1705.91,807 1707,809.8 1710,809.97 1707.67,811.87 1708.44,814.78 1705.91,813.15 1703.38,814.78 1704.15,811.87 1701.82,809.97 1704.82,809.8" fill="#0000ff" stroke="#0000ff" stroke-width="2.5" stroke-linejoin="round"/><polygon points="1710.31,807 1711.4,809.8 1714.4,809.97 1712.07,811.87 1712.84,814.78 1710.31,813.15 1707.79,814.78 1708.55,811.87 1706.22,809.97 1709.23,809.8" fill="#0000ff" stroke="#0000ff" stroke-width="2.5" stroke-linejoin="round"/><polygon points="1714.71,807 1715.8,809.8 1718.8,809.97 1716.47,811.87 1717.24,814.78 1714.71,813.15 1712.19,814.78 1712.96,811.87 1710.62,809.97 1713.63,809.8" fill="#0000ff" stroke="#0000ff" stroke-width="2.5" stroke-linejoin="round"/><polygon points="1719.12,807 1720.2,809.8 1723.21,809.97 1720.88,811.87 1721.64,814.78 1719.12,813.15 1716.59,814.78 1717.36,811.87 1715.03,809.97 1718.03,809.8" fill="#0000ff" stroke="#0000ff" stroke-width="2.5" stroke-linejoin="round"/><polygon points="1723.52,807 1724.6,809.8 1727.61,809.97 1725.28,811.87 1726.04,814.78 1723.52,813.15 1720.99,814.78 1721.76,811.87 1719.43,809.97 1722.43,809.8" fill="#0000ff" stroke="#0000ff" stroke-width="2.5" stroke-linejoin="round"/><polygon points="1727.92,807 1729.01,809.8 1732.01,809.97 1729.68,811.87 1730.45,814.78 1727.92,813.15 1725.39,814.78 1726.16,811.87 1723.83,809.97 1726.83,809.8" fill="#0000ff" stroke="#0000ff" stroke-width="2.5" stroke-linejoin="round"/><polygon points="1732.32,807 1733.41,809.8 1736.41,809.97 1734.08,811.87 1734.85,814.78 1732.32,813.15 1729.79,814.78 1730.56,811.87 1728.23,809.97 1731.23,809.8" fill="#0000ff" stroke="#0000ff" stroke-width="2.5" stroke-linejoin="round"/><polygon points="1736.72,807 1737.81,809.8 1740.81,809.97 1738.48,811.87 1739.25,814.78 1736.72,813.15 1734.19,814.78 1734.96,811.87 1732.63,809.97 1735.63,809.8" fill="#0000ff" stroke="#0000ff" stroke-width="2.5" stroke-linejoin="round"/><polygon points="1741.12,807 1742.21,809.8 1745.21,809.97 1742.88,811.87 1743.65,814.78 1741.12,813.15 1738.6,814.78 1739.36,811.87 1737.03,809.97 1740.04,809.8" fill="#0000ff" stroke="#0000ff" stroke-width="2.5" stroke-linejoin="round"/><polygon points="1745.53,807 1746.61,809.8 1749.61,809.97 1747.28,811.87 1748.05,814.78 1745.53,813.15 1743,814.78 1743.77,811.87 1741.44,809.97 1744.44,809.8" fill="#0000ff" stroke="#0000ff" stroke-width="2.5" stroke-linejoin="round"/><polygon points="1749.93,807 1751.01,809.8 1754.02,809.97 1751.69,811.87 1752.45,814.78 1749.93,813.15 1747.4,814.78 1748.17,811.87 1745.84,809.97 1748.84,809.8" fill="#0000ff" stroke="#0000ff" stroke-width="2.5" stroke-linejoin="round"/><polygon points="1754.33,807 1755.42,809.8 1758.42,809.97 1756.09,811.87 1756.86,814.78 1754.33,813.15 1751.8,814.78 1752.57,811.87 1750.24,809.97 1753.24,809.8" fill="#0000ff" stroke="#0000ff" stroke-width="2.5" stroke-linejoin="round"/><polygon points="1758.73,807 1759.82,809.8 1762.82,809.97 1760.49,811.87 1761.26,814.78 1758.73,813.15 1756.2,814.78 1756.97,811.87 1754.64,809.97 1757.64,809.8" fill="#0000ff" stroke="#0000ff" stroke-width="2.5" stroke-linejoin="round"/><polygon points="1763.13,807 1764.22,809.8 1767.22,809.97 1764.89,811.87 1765.66,814.78 1763.13,813.15 1760.6,814.78 1761.37,811.87 1759.04,809.97 1762.04,809.8" fill="#0000ff" stroke="#0000ff" stroke-width="2.5" stroke-linejoin="round"/><polygon points="1767.53,807 1768.62,809.8 1771.62,809.97 1769.29,811.87 1770.06,814.78 1767.53,813.15 1765.01,814.78 1765.77,811.87 1763.44,809.97 1766.45,809.8" fill="#0000ff" stroke="#0000ff" stroke-width="2.5" stroke-linejoin="round"/><polygon points="1771.93,807 1773.02,809.8 1776.02,809.97 1773.69,811.87 1774.46,814.78 1771.93,813.15 1769.41,814.78 1770.17,811.87 1767.84,809.97 1770.85,809.8" fill="#0000ff" stroke="#0000ff" stroke-width="2.5" stroke-linejoin="round"/><polygon points="1776.34,807 1777.42,809.8 1780.43,809.97 1778.09,811.87 1778.86,814.78 1776.34,813.15 1773.81,814.78 1774.58,811.87 1772.25,809.97 1775.25,809.8" fill="#0000ff" stroke="#0000ff" stroke-width="2.5" stroke-linejoin="round"/><polygon points="1780.74,807 1781.82,809.8 1784.83,809.97 1782.5,811.87 1783.26,814.78 1780.74,813.15 1778.21,814.78 1778.98,811.87 1776.65,809.97 1779.65,809.8" fill="#0000ff" stroke="#0000ff" stroke-width="2.5" stroke-linejoin="round"/><polygon points="1785.14,807 1786.23,809.8 1789.23,809.97 1786.9,811.87 1787.67,814.78 1785.14,813.15 1782.61,814.78 1783.38,811.87 1781.05,809.97 1784.05,809.8" fill="#0000ff" stroke="#0000ff" stroke-width="2.5" stroke-linejoin="round"/><polygon points="1789.54,807 1790.63,809.8 1793.63,809.97 1791.3,811.87 1792.07,814.78 1789.54,813.15 1787.01,814.78 1787.78,811.87 1785.45,809.97 1788.45,809.8" fill="#0000ff" stroke="#0000ff" stroke-width="2.5" stroke-linejoin="round"/><polygon points="1793.94,807 1795.03,809.8 1798.03,809.97 1795.7,811.87 1796.47,814.78 1793.94,813.15 1791.41,814.78 1792.18,811.87 1789.85,809.97 1792.85,809.8" fill="#0000ff" stroke="#0000ff" stroke-width="2.5" stroke-linejoin="round"/><polygon points="1798.34,807 1799.43,809.8 1802.43,809.97 1800.1,811.87 1800.87,814.78 1798.34,813.15 1795.82,814.78 1796.58,811.87 1794.25,809.97 1797.26,809.8" fill="#0000ff" stroke="#0000ff" stroke-width="2.5" stroke-linejoin="round"/><polygon points="1802.74,807 1803.83,809.8 1806.83,809.97 1804.5,811.87 1805.27,814.78 1802.74,813.15 1800.22,814.78 1800.99,811.87 1798.65,809.97 1801.66,809.8" fill="#0000ff" stroke="#0000ff" stroke-width="2.5" stroke-linejoin="round"/><polygon points="1807.15,807 1808.23,809.8 1811.24,809.97 1808.91,811.87 1809.67,814.78 1807.15,813.15 1804.62,814.78 1805.39,811.87 1803.06,809.97 1806.06,809.8" fill="#0000ff" stroke="#0000ff" stroke-width="2.5" stroke-linejoin="round"/><polygon points="1811.55,807 1812.63,809.8 1815.64,809.97 1813.31,811.87 1814.07,814.78 1811.55,813.15 1809.02,814.78 1809.79,811.87 1807.46,809.97 1810.46,809.8" fill="#0000ff" stroke="#0000ff" stroke-width="2.5" stroke-linejoin="round"/><polygon points="1815.95,807 1817.04,809.8 1820.04,809.97 1817.71,811.87 1818.48,814.78 1815.95,813.15 1813.42,814.78 1814.19,811.87 1811.86,809.97 1814.86,809.8" fill="#0000ff" stroke="#0000ff" stroke-width="2.5" stroke-linejoin="round"/><polygon points="1820.35,807 1821.44,809.8 1824.44,809.97 1822.11,811.87 1822.88,814.78 1820.35,813.15 1817.82,814.78 1818.59,811.87 1816.26,809.97 1819.26,809.8" fill="#0000ff" stroke="#0000ff" stroke-width="2.5" stroke-linejoin="round"/><polygon points="1824.75,807 1825.84,809.8 1828.84,809.97 1826.51,811.87 1827.28,814.78 1824.75,813.15 1822.22,814.78 1822.99,811.87 1820.66,809.97 1823.66,809.8" fill="#0000ff" stroke="#0000ff" stroke-width="2.5" stroke-linejoin="round"/><polygon points="1829.15,807 1830.24,809.8 1833.24,809.97 1830.91,811.87 1831.68,814.78 1829.15,813.15 1826.63,814.78 1827.39,811.87 1825.06,809.97 1828.07,809.8" fill="#0000ff" stroke="#0000ff" stroke-width="2.5" stroke-linejoin="round"/><polygon points="1833.55,807 1834.64,809.8 1837.64,809.97 1835.31,811.87 1836.08,814.78 1833.55,813.15 1831.03,814.78 1831.8,811.87 1829.47,809.97 1832.47,809.8" fill="#0000ff" stroke="#0000ff" stroke-width="2.5" stroke-linejoin="round"/><polygon points="1837.96,807 1839.04,809.8 1842.05,809.97 1839.72,811.87 1840.48,814.78 1837.96,813.15 1835.43,814.78 1836.2,811.87 1833.87,809.97 1836.87,809.8" fill="#0000ff" stroke="#0000ff" stroke-width="2.5" stroke-linejoin="round"/><polygon points="1842.36,807 1843.45,809.8 1846.45,809.97 1844.12,811.87 1844.89,814.78 1842.36,813.15 1839.83,814.78 1840.6,811.87 1838.27,809.97 1841.27,809.8" fill="#0000ff" stroke="#0000ff" stroke-width="2.5" stroke-linejoin="round"/><polygon points="1846.76,807 1847.85,809.8 1850.85,809.97 1848.52,811.87 1849.29,814.78 1846.76,813.15 1844.23,814.78 1845,811.87 1842.67,809.97 1845.67,809.8" fill="#0000ff" stroke="#0000ff" stroke-width="2.5" stroke-linejoin="round"/><polygon points="1851.16,807 1852.25,809.8 1855.25,809.97 1852.92,811.87 1853.69,814.78 1851.16,813.15 1848.63,814.78 1849.4,811.87 1847.07,809.97 1850.07,809.8" fill="#0000ff" stroke="#0000ff" stroke-width="2.5" stroke-linejoin="round"/><polygon points="1855.56,807 1856.65,809.8 1859.65,809.97 1857.32,811.87 1858.09,814.78 1855.56,813.15 1853.04,814.78 1853.8,811.87 1851.47,809.97 1854.48,809.8" fill="#0000ff" stroke="#0000ff" stroke-width="2.5" stroke-linejoin="round"/><polygon points="1859.96,807 1861.05,809.8 1864.05,809.97 1861.72,811.87 1862.49,814.78 1859.96,813.15 1857.44,814.78 1858.2,811.87 1855.87,809.97 1858.88,809.8" fill="#0000ff" stroke="#0000ff" stroke-width="2.5" stroke-linejoin="round"/><polygon points="1864.37,807 1865.45,809.8 1868.46,809.97 1866.12,811.87 1866.89,814.78 1864.37,813.15 1861.84,814.78 1862.61,811.87 1860.28,809.97 1863.28,809.8" fill="#0000ff" stroke="#0000ff" stroke-width="2.5" stroke-linejoin="round"/><polygon points="1868.77,807 1869.85,809.8 1872.86,809.97 1870.53,811.87 1871.29,814.78 1868.77,813.15 1866.24,814.78 1867.01,811.87 1864.68,809.97 1867.68,809.8" fill="#0000ff" stroke="#0000ff" stroke-width="2.5" stroke-linejoin="round"/><polygon points="1873.17,807 1874.26,809.8 1877.26,809.97 1874.93,811.87 1875.7,814.78 1873.17,813.15 1870.64,814.78 1871.41,811.87 1869.08,809.97 1872.08,809.8" fill="#0000ff" stroke="#0000ff" stroke-width="2.5" stroke-linejoin="round"/><polygon points="1877.57,807 1878.66,809.8 1881.66,809.97 1879.33,811.87 1880.1,814.78 1877.57,813.15 1875.04,814.78 1875.81,811.87 1873.48,809.97 1876.48,809.8" fill="#0000ff" stroke="#0000ff" stroke-width="2.5" stroke-linejoin="round"/><polygon points="1881.97,807 1883.06,809.8 1886.06,809.97 1883.73,811.87 1884.5,814.78 1881.97,813.15 1879.44,814.78 1880.21,811.87 1877.88,809.97 1880.88,809.8" fill="#0000ff" stroke="#0000ff" stroke-width="2.5" stroke-linejoin="round"/><polygon points="1886.37,807 1887.46,809.8 1890.46,809.97 1888.13,811.87 1888.9,814.78 1886.37,813.15 1883.85,814.78 1884.61,811.87 1882.28,809.97 1885.29,809.8" fill="#0000ff" stroke="#0000ff" stroke-width="2.5" stroke-linejoin="round"/><polygon points="1890.77,807 1891.86,809.8 1894.86,809.97 1892.53,811.87 1893.3,814.78 1890.77,813.15 1888.25,814.78 1889.02,811.87 1886.68,809.97 1889.69,809.8" fill="#0000ff" stroke="#0000ff" stroke-width="2.5" stroke-linejoin="round"/><polygon points="1895.18,807 1896.26,809.8 1899.27,809.97 1896.94,811.87 1897.7,814.78 1895.18,813.15 1892.65,814.78 1893.42,811.87 1891.09,809.97 1894.09,809.8" fill="#0000ff" stroke="#0000ff" stroke-width="2.5" stroke-linejoin="round"/><polygon points="1899.58,807 1900.66,809.8 1903.67,809.97 1901.34,811.87 1902.1,814.78 1899.58,813.15 1897.05,814.78 1897.82,811.87 1895.49,809.97 1898.49,809.8" fill="#0000ff" stroke="#0000ff" stroke-width="2.5" stroke-linejoin="round"/><polygon points="1903.98,807 1905.07,809.8 1908.07,809.97 1905.74,811.87 1906.51,814.78 1903.98,813.15 1901.45,814.78 1902.22,811.87 1899.89,809.97 1902.89,809.8" fill="#0000ff" stroke="#0000ff" stroke-width="2.5" stroke-linejoin="round"/><polygon points="1908.38,807 1909.47,809.8 1912.47,809.97 1910.14,811.87 1910.91,814.78 1908.38,813.15 1905.85,814.78 1906.62,811.87 1904.29,809.97 1907.29,809.8" fill="#0000ff" stroke="#0000ff" stroke-width="2.5" stroke-linejoin="round"/><polygon points="1912.78,807 1913.87,809.8 1916.87,809.97 1914.54,811.87 1915.31,814.78 1912.78,813.15 1910.25,814.78 1911.02,811.87 1908.69,809.97 1911.69,809.8" fill="#0000ff" stroke="#0000ff" stroke-width="2.5" stroke-linejoin="round"/><polygon points="1917.18,807 1918.27,809.8 1921.27,809.97 1918.94,811.87 1919.71,814.78 1917.18,813.15 1914.66,814.78 1915.42,811.87 1913.09,809.97 1916.1,809.8" fill="#0000ff" stroke="#0000ff" stroke-width="2.5" stroke-linejoin="round"/><polygon points="1921.59,807 1922.67,809.8 1925.67,809.97 1923.34,811.87 1924.11,814.78 1921.59,813.15 1919.06,814.78 1919.83,811.87 1917.5,809.97 1920.5,809.8" fill="#0000ff" stroke="#0000ff" stroke-width="2.5" stroke-linejoin="round"/><polygon points="1925.99,807 1927.07,809.8 1930.08,809.97 1927.75,811.87 1928.51,814.78 1925.99,813.15 1923.46,814.78 1924.23,811.87 1921.9,809.97 1924.9,809.8" fill="#0000ff" stroke="#0000ff" stroke-width="2.5" stroke-linejoin="round"/><polygon points="1930.39,807 1931.48,809.8 1934.48,809.97 1932.15,811.87 1932.92,814.78 1930.39,813.15 1927.86,814.78 1928.63,811.87 1926.3,809.97 1929.3,809.8" fill="#0000ff" stroke="#0000ff" stroke-width="2.5" stroke-linejoin="round"/><polygon points="1934.79,807 1935.88,809.8 1938.88,809.97 1936.55,811.87 1937.32,814.78 1934.79,813.15 1932.26,814.78 1933.03,811.87 1930.7,809.97 1933.7,809.8" fill="#0000ff" stroke="#0000ff" stroke-width="2.5" stroke-linejoin="round"/><polygon points="1939.19,807 1940.28,809.8 1943.28,809.97 1940.95,811.87 1941.72,814.78 1939.19,813.15 1936.66,814.78 1937.43,811.87 1935.1,809.97 1938.1,809.8" fill="#0000ff" stroke="#0000ff" stroke-width="2.5" stroke-linejoin="round"/><polygon points="1943.59,807 1944.68,809.8 1947.68,809.97 1945.35,811.87 1946.12,814.78 1943.59,813.15 1941.07,814.78 1941.83,811.87 1939.5,809.97 1942.51,809.8" fill="#0000ff" stroke="#0000ff" stroke-width="2.5" stroke-linejoin="round"/><polygon points="1947.99,807 1949.08,809.8 1952.08,809.97 1949.75,811.87 1950.52,814.78 1947.99,813.15 1945.47,814.78 1946.23,811.87 1943.9,809.97 1946.91,809.8" fill="#0000ff" stroke="#0000ff" stroke-width="2.5" stroke-linejoin="round"/><polygon points="1952.4,807 1953.48,809.8 1956.49,809.97 1954.15,811.87 1954.92,814.78 1952.4,813.15 1949.87,814.78 1950.64,811.87 1948.31,809.97 1951.31,809.8" fill="#0000ff" stroke="#0000ff" stroke-width="2.5" stroke-linejoin="round"/><polygon points="1956.8,807 1957.88,809.8 1960.89,809.97 1958.56,811.87 1959.32,814.78 1956.8,813.15 1954.27,814.78 1955.04,811.87 1952.71,809.97 1955.71,809.8" fill="#0000ff" stroke="#0000ff" stroke-width="2.5" stroke-linejoin="round"/><polygon points="1961.2,807 1962.29,809.8 1965.29,809.97 1962.96,811.87 1963.73,814.78 1961.2,813.15 1958.67,814.78 1959.44,811.87 1957.11,809.97 1960.11,809.8" fill="#0000ff" stroke="#0000ff" stroke-width="2.5" stroke-linejoin="round"/><polygon points="1965.6,807 1966.69,809.8 1969.69,809.97 1967.36,811.87 1968.13,814.78 1965.6,813.15 1963.07,814.78 1963.84,811.87 1961.51,809.97 1964.51,809.8" fill="#0000ff" stroke="#0000ff" stroke-width="2.5" stroke-linejoin="round"/></g>
</g>
<rect x="1083.7" y="785.4" width="880.3" height="572.3" fill="none" stroke="#1c1c1c" stroke-width="1.5"/>
<text x="0" y="0" font-size="42.1" text-anchor="middle" fill="#1c1c1c" transform="translate(1083.7 1406.6) scale(1 1.035)">0</text>
<text x="0" y="0" font-size="42.1" text-anchor="middle" fill="#1c1c1c" transform="translate(1230.42 1406.6) scale(1 1.035)">100</text>
<text x="0" y="0" font-size="42.1" text-anchor="middle" fill="#1c1c1c" transform="translate(1377.13 1406.6) scale(1 1.035)">200</text>
<text x="0" y="0" font-size="42.1" text-anchor="middle" fill="#1c1c1c" transform="translate(1523.85 1406.6) scale(1 1.035)">300</text>
<text x="0" y="0" font-size="42.1" text-anchor="middle" fill="#1c1c1c" transform="translate(1670.57 1406.6) scale(1 1.035)">400</text>
<text x="0" y="0" font-size="42.1" text-anchor="middle" fill="#1c1c1c" transform="translate(1817.28 1406.6) scale(1 1.035)">500</text>
<text x="0" y="0" font-size="42.1" text-anchor="middle" fill="#1c1c1c" transform="translate(1964 1406.6) scale(1 1.035)">600</text>
<text x="0" y="0" font-size="42.1" text-anchor="end" fill="#1c1c1c" transform="translate(1065.6 1346.2) scale(1 1.035)">0.0</text>
<text x="0" y="0" font-size="42.1" text-anchor="end" fill="#1c1c1c" transform="translate(1065.6 1216.4) scale(1 1.035)">0.2</text>
<text x="0" y="0" font-size="42.1" text-anchor="end" fill="#1c1c1c" transform="translate(1065.6 1086.6) scale(1 1.035)">0.4</text>
<text x="0" y="0" font-size="42.1" text-anchor="end" fill="#1c1c1c" transform="translate(1065.6 956.8) scale(1 1.035)">0.6</text>
<text x="0" y="0" font-size="42.1" text-anchor="end" fill="#1c1c1c" transform="translate(1065.6 827) scale(1 1.035)">0.8</text>
<text x="1523.85" y="1456.2" font-size="42.1" text-anchor="middle" fill="#1c1c1c">Time (hours)</text>
<text x="988" y="1071.55" font-size="42.1" text-anchor="middle" fill="#1c1c1c" transform="rotate(-90 988 1071.55)">Relative population size</text>
<rect x="1603" y="976.7" width="339.4" height="190.7" rx="7.5" ry="7.5" fill="#fff" fill-opacity="0.8" stroke="#cccccc" stroke-width="1.5"/>
<rect x="1654.5" y="1002.2" width="13" height="13" fill="#008000"/>
<polygon points="1661,1061 1654.3,1074 1667.7,1074" fill="#ff0000"/>
<polygon points="1661,1123.4 1662.09,1126.2 1665.09,1126.37 1662.76,1128.27 1663.53,1131.18 1661,1129.55 1658.47,1131.18 1659.24,1128.27 1656.91,1126.37 1659.91,1126.2" fill="#0000ff" stroke="#0000ff" stroke-width="2.5" stroke-linejoin="round"/>
<text x="1738.1" y="1023.2" font-size="42.1" text-anchor="start" fill="#1c1c1c">WT</text>
<text x="1738.1" y="1082.8" font-size="42.1" text-anchor="start" fill="#1c1c1c">IL2 treat</text>
<text x="1738.1" y="1142.4" font-size="42.1" text-anchor="start" fill="#1c1c1c">CD28 mut</text>
</svg></body></html>
